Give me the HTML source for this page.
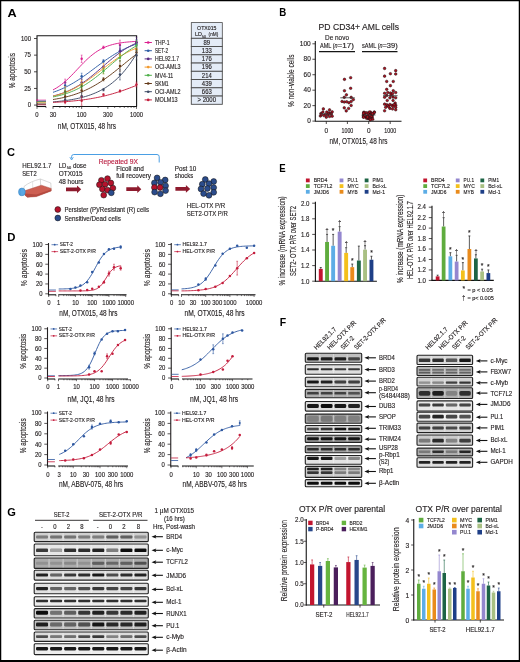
<!DOCTYPE html>
<html><head><meta charset="utf-8"><style>
html,body{margin:0;padding:0;background:#fff;}
svg{display:block;opacity:0.999;}
text{font-family:"Liberation Sans", sans-serif;}
</style></head><body>
<svg width="520" height="662" viewBox="0 0 520 662">
<defs>
<filter id="bl" x="-20%" y="-50%" width="140%" height="200%"><feGaussianBlur stdDeviation="0.6"/></filter>
<filter id="bl2" x="-20%" y="-50%" width="140%" height="200%"><feGaussianBlur stdDeviation="0.9"/></filter>
</defs>
<rect x="0" y="0" width="520" height="662" fill="#fff"/>
<text x="7.60" y="17.00" font-size="11.5" textLength="9.20" lengthAdjust="spacingAndGlyphs" fill="#000" font-weight="bold">A</text>
<path d="M37.0,106.5 L37.0,35.8 L136.6,35.8 L136.6,106.5" stroke="#151515" fill="none" stroke-width="1.1" />
<line x1="36.60" y1="106.50" x2="46.00" y2="106.50" stroke="#151515" stroke-width="1.1" />
<line x1="52.80" y1="106.50" x2="137.00" y2="106.50" stroke="#151515" stroke-width="1.1" />
<line x1="34.00" y1="105.10" x2="37.00" y2="105.10" stroke="#231f20" stroke-width="0.8" />
<text x="31.00" y="107.40" font-size="6.5" text-anchor="end" textLength="3.30" lengthAdjust="spacingAndGlyphs" fill="#231f20" stroke="#231f20" stroke-width="0.14">0</text>
<line x1="34.00" y1="88.45" x2="37.00" y2="88.45" stroke="#231f20" stroke-width="0.8" />
<text x="31.00" y="90.75" font-size="6.5" text-anchor="end" textLength="6.80" lengthAdjust="spacingAndGlyphs" fill="#231f20" stroke="#231f20" stroke-width="0.14">25</text>
<line x1="34.00" y1="71.80" x2="37.00" y2="71.80" stroke="#231f20" stroke-width="0.8" />
<text x="31.00" y="74.10" font-size="6.5" text-anchor="end" textLength="6.80" lengthAdjust="spacingAndGlyphs" fill="#231f20" stroke="#231f20" stroke-width="0.14">50</text>
<line x1="34.00" y1="55.15" x2="37.00" y2="55.15" stroke="#231f20" stroke-width="0.8" />
<text x="31.00" y="57.45" font-size="6.5" text-anchor="end" textLength="6.80" lengthAdjust="spacingAndGlyphs" fill="#231f20" stroke="#231f20" stroke-width="0.14">75</text>
<line x1="34.00" y1="38.50" x2="37.00" y2="38.50" stroke="#231f20" stroke-width="0.8" />
<text x="31.00" y="40.80" font-size="6.5" text-anchor="end" textLength="10.00" lengthAdjust="spacingAndGlyphs" fill="#231f20" stroke="#231f20" stroke-width="0.14">100</text>
<line x1="53.00" y1="106.50" x2="53.00" y2="108.90" stroke="#231f20" stroke-width="0.7" />
<line x1="59.85" y1="106.50" x2="59.85" y2="107.90" stroke="#231f20" stroke-width="0.7" />
<line x1="65.16" y1="106.50" x2="65.16" y2="107.90" stroke="#231f20" stroke-width="0.7" />
<line x1="69.50" y1="106.50" x2="69.50" y2="107.90" stroke="#231f20" stroke-width="0.7" />
<line x1="73.17" y1="106.50" x2="73.17" y2="107.90" stroke="#231f20" stroke-width="0.7" />
<line x1="76.34" y1="106.50" x2="76.34" y2="107.90" stroke="#231f20" stroke-width="0.7" />
<line x1="79.15" y1="106.50" x2="79.15" y2="107.90" stroke="#231f20" stroke-width="0.7" />
<line x1="81.65" y1="106.50" x2="81.65" y2="108.90" stroke="#231f20" stroke-width="0.7" />
<line x1="98.15" y1="106.50" x2="98.15" y2="107.90" stroke="#231f20" stroke-width="0.7" />
<line x1="107.80" y1="106.50" x2="107.80" y2="108.90" stroke="#231f20" stroke-width="0.7" />
<line x1="114.65" y1="106.50" x2="114.65" y2="107.90" stroke="#231f20" stroke-width="0.7" />
<line x1="119.96" y1="106.50" x2="119.96" y2="107.90" stroke="#231f20" stroke-width="0.7" />
<line x1="124.30" y1="106.50" x2="124.30" y2="107.90" stroke="#231f20" stroke-width="0.7" />
<line x1="127.97" y1="106.50" x2="127.97" y2="107.90" stroke="#231f20" stroke-width="0.7" />
<line x1="131.14" y1="106.50" x2="131.14" y2="107.90" stroke="#231f20" stroke-width="0.7" />
<line x1="133.95" y1="106.50" x2="133.95" y2="107.90" stroke="#231f20" stroke-width="0.7" />
<line x1="136.45" y1="106.50" x2="136.45" y2="108.90" stroke="#231f20" stroke-width="0.7" />
<line x1="37.00" y1="106.50" x2="37.00" y2="108.90" stroke="#231f20" stroke-width="0.7" />
<line x1="46.00" y1="106.50" x2="46.00" y2="107.90" stroke="#231f20" stroke-width="0.7" />
<text x="37.00" y="117.00" font-size="6.5" text-anchor="middle" textLength="3.30" lengthAdjust="spacingAndGlyphs" fill="#231f20" stroke="#231f20" stroke-width="0.14">0</text>
<text x="53.00" y="117.00" font-size="6.5" text-anchor="middle" textLength="6.60" lengthAdjust="spacingAndGlyphs" fill="#231f20" stroke="#231f20" stroke-width="0.14">30</text>
<text x="81.65" y="117.00" font-size="6.5" text-anchor="middle" textLength="9.60" lengthAdjust="spacingAndGlyphs" fill="#231f20" stroke="#231f20" stroke-width="0.14">100</text>
<text x="107.80" y="117.00" font-size="6.5" text-anchor="middle" textLength="9.60" lengthAdjust="spacingAndGlyphs" fill="#231f20" stroke="#231f20" stroke-width="0.14">300</text>
<text x="136.45" y="117.00" font-size="6.5" text-anchor="middle" textLength="13.00" lengthAdjust="spacingAndGlyphs" fill="#231f20" stroke="#231f20" stroke-width="0.14">1000</text>
<text x="86.90" y="129.40" font-size="8.6" text-anchor="middle" textLength="58.20" lengthAdjust="spacingAndGlyphs" fill="#231f20" stroke="#231f20" stroke-width="0.14">nM, OTX015, 48 hrs</text>
<text x="15.00" y="88.30" font-size="8.2" textLength="35.30" lengthAdjust="spacingAndGlyphs" fill="#231f20" stroke="#231f20" stroke-width="0.14" transform="rotate(-90 15.00 88.30)">% apoptosis</text>
<path d="M53.00,89.90 L54.70,88.99 L56.41,87.99 L58.11,86.91 L59.81,85.74 L61.52,84.48 L63.22,83.13 L64.92,81.70 L66.63,80.19 L68.33,78.60 L70.03,76.94 L71.73,75.22 L73.44,73.46 L75.14,71.67 L76.84,69.85 L78.55,68.04 L80.25,66.23 L81.95,64.44 L83.66,62.70 L85.36,61.00 L87.06,59.37 L88.77,57.80 L90.47,56.32 L92.17,54.92 L93.88,53.60 L95.58,52.37 L97.28,51.24 L98.98,50.19 L100.69,49.22 L102.39,48.34 L104.09,47.54 L105.80,46.81 L107.50,46.15 L109.20,45.56 L110.91,45.02 L112.61,44.54 L114.31,44.11 L116.02,43.73 L117.72,43.39 L119.42,43.08 L121.13,42.81 L122.83,42.57 L124.53,42.35 L126.23,42.16 L127.94,42.00 L129.64,41.85 L131.34,41.72 L133.05,41.60 L134.75,41.50 L136.45,41.40" stroke="#dc1f8e" fill="none" stroke-width="0.95" />
<line x1="65.16" y1="79.09" x2="65.16" y2="85.99" stroke="#dc1f8e" stroke-width="0.6" />
<line x1="64.26" y1="79.09" x2="66.06" y2="79.09" stroke="#dc1f8e" stroke-width="0.5" />
<line x1="64.26" y1="85.99" x2="66.06" y2="85.99" stroke="#dc1f8e" stroke-width="0.5" />
<circle cx="65.16" cy="82.54" r="1.20" fill="#dc1f8e"/>
<line x1="81.65" y1="55.10" x2="81.65" y2="62.53" stroke="#dc1f8e" stroke-width="0.6" />
<line x1="80.75" y1="55.10" x2="82.55" y2="55.10" stroke="#dc1f8e" stroke-width="0.5" />
<line x1="80.75" y1="62.53" x2="82.55" y2="62.53" stroke="#dc1f8e" stroke-width="0.5" />
<circle cx="81.65" cy="58.81" r="1.20" fill="#dc1f8e"/>
<line x1="103.46" y1="46.03" x2="103.46" y2="48.62" stroke="#dc1f8e" stroke-width="0.6" />
<line x1="102.56" y1="46.03" x2="104.36" y2="46.03" stroke="#dc1f8e" stroke-width="0.5" />
<line x1="102.56" y1="48.62" x2="104.36" y2="48.62" stroke="#dc1f8e" stroke-width="0.5" />
<circle cx="103.46" cy="47.33" r="1.20" fill="#dc1f8e"/>
<line x1="119.96" y1="40.17" x2="119.96" y2="49.71" stroke="#dc1f8e" stroke-width="0.6" />
<line x1="119.06" y1="40.17" x2="120.86" y2="40.17" stroke="#dc1f8e" stroke-width="0.5" />
<line x1="119.06" y1="49.71" x2="120.86" y2="49.71" stroke="#dc1f8e" stroke-width="0.5" />
<circle cx="119.96" cy="44.94" r="1.20" fill="#dc1f8e"/>
<line x1="136.45" y1="40.31" x2="136.45" y2="44.42" stroke="#dc1f8e" stroke-width="0.6" />
<line x1="135.55" y1="40.31" x2="137.35" y2="40.31" stroke="#dc1f8e" stroke-width="0.5" />
<line x1="135.55" y1="44.42" x2="137.35" y2="44.42" stroke="#dc1f8e" stroke-width="0.5" />
<circle cx="136.45" cy="42.37" r="1.20" fill="#dc1f8e"/>
<line x1="37.00" y1="100.10" x2="46.00" y2="100.10" stroke="#dc1f8e" stroke-width="0.7" />
<path d="M53.00,92.32 L54.70,91.73 L56.41,91.12 L58.11,90.47 L59.81,89.78 L61.52,89.05 L63.22,88.29 L64.92,87.49 L66.63,86.65 L68.33,85.77 L70.03,84.86 L71.73,83.90 L73.44,82.91 L75.14,81.88 L76.84,80.82 L78.55,79.72 L80.25,78.60 L81.95,77.44 L83.66,76.26 L85.36,75.05 L87.06,73.83 L88.77,72.58 L90.47,71.33 L92.17,70.06 L93.88,68.79 L95.58,67.51 L97.28,66.24 L98.98,64.98 L100.69,63.72 L102.39,62.48 L104.09,61.26 L105.80,60.05 L107.50,58.87 L109.20,57.72 L110.91,56.59 L112.61,55.50 L114.31,54.44 L116.02,53.42 L117.72,52.43 L119.42,51.48 L121.13,50.57 L122.83,49.69 L124.53,48.86 L126.23,48.06 L127.94,47.30 L129.64,46.58 L131.34,45.90 L133.05,45.25 L134.75,44.64 L136.45,44.06" stroke="#2f5ea6" fill="none" stroke-width="0.95" />
<line x1="65.16" y1="82.28" x2="65.16" y2="88.51" stroke="#2f5ea6" stroke-width="0.6" />
<line x1="64.26" y1="82.28" x2="66.06" y2="82.28" stroke="#2f5ea6" stroke-width="0.5" />
<line x1="64.26" y1="88.51" x2="66.06" y2="88.51" stroke="#2f5ea6" stroke-width="0.5" />
<circle cx="65.16" cy="85.40" r="1.20" fill="#2f5ea6"/>
<line x1="81.65" y1="73.16" x2="81.65" y2="79.44" stroke="#2f5ea6" stroke-width="0.6" />
<line x1="80.75" y1="73.16" x2="82.55" y2="73.16" stroke="#2f5ea6" stroke-width="0.5" />
<line x1="80.75" y1="79.44" x2="82.55" y2="79.44" stroke="#2f5ea6" stroke-width="0.5" />
<circle cx="81.65" cy="76.30" r="1.20" fill="#2f5ea6"/>
<line x1="103.46" y1="59.48" x2="103.46" y2="62.83" stroke="#2f5ea6" stroke-width="0.6" />
<line x1="102.56" y1="59.48" x2="104.36" y2="59.48" stroke="#2f5ea6" stroke-width="0.5" />
<line x1="102.56" y1="62.83" x2="104.36" y2="62.83" stroke="#2f5ea6" stroke-width="0.5" />
<circle cx="103.46" cy="61.15" r="1.20" fill="#2f5ea6"/>
<line x1="119.96" y1="45.74" x2="119.96" y2="55.56" stroke="#2f5ea6" stroke-width="0.6" />
<line x1="119.06" y1="45.74" x2="120.86" y2="45.74" stroke="#2f5ea6" stroke-width="0.5" />
<line x1="119.06" y1="55.56" x2="120.86" y2="55.56" stroke="#2f5ea6" stroke-width="0.5" />
<circle cx="119.96" cy="50.65" r="1.20" fill="#2f5ea6"/>
<line x1="136.45" y1="39.63" x2="136.45" y2="48.30" stroke="#2f5ea6" stroke-width="0.6" />
<line x1="135.55" y1="39.63" x2="137.35" y2="39.63" stroke="#2f5ea6" stroke-width="0.5" />
<line x1="135.55" y1="48.30" x2="137.35" y2="48.30" stroke="#2f5ea6" stroke-width="0.5" />
<circle cx="136.45" cy="43.97" r="1.20" fill="#2f5ea6"/>
<line x1="37.00" y1="101.10" x2="46.00" y2="101.10" stroke="#2f5ea6" stroke-width="0.7" />
<path d="M53.00,96.00 L54.70,95.58 L56.41,95.12 L58.11,94.64 L59.81,94.12 L61.52,93.56 L63.22,92.96 L64.92,92.32 L66.63,91.63 L68.33,90.91 L70.03,90.13 L71.73,89.31 L73.44,88.44 L75.14,87.52 L76.84,86.55 L78.55,85.53 L80.25,84.46 L81.95,83.35 L83.66,82.18 L85.36,80.97 L87.06,79.71 L88.77,78.41 L90.47,77.08 L92.17,75.71 L93.88,74.30 L95.58,72.87 L97.28,71.42 L98.98,69.95 L100.69,68.47 L102.39,66.99 L104.09,65.50 L105.80,64.02 L107.50,62.55 L109.20,61.10 L110.91,59.67 L112.61,58.26 L114.31,56.89 L116.02,55.55 L117.72,54.25 L119.42,52.99 L121.13,51.78 L122.83,50.61 L124.53,49.49 L126.23,48.41 L127.94,47.39 L129.64,46.42 L131.34,45.50 L133.05,44.62 L134.75,43.80 L136.45,43.02" stroke="#5b2c83" fill="none" stroke-width="0.95" />
<line x1="65.16" y1="90.25" x2="65.16" y2="92.83" stroke="#5b2c83" stroke-width="0.6" />
<line x1="64.26" y1="90.25" x2="66.06" y2="90.25" stroke="#5b2c83" stroke-width="0.5" />
<line x1="64.26" y1="92.83" x2="66.06" y2="92.83" stroke="#5b2c83" stroke-width="0.5" />
<circle cx="65.16" cy="91.54" r="1.20" fill="#5b2c83"/>
<line x1="81.65" y1="78.85" x2="81.65" y2="86.17" stroke="#5b2c83" stroke-width="0.6" />
<line x1="80.75" y1="78.85" x2="82.55" y2="78.85" stroke="#5b2c83" stroke-width="0.5" />
<line x1="80.75" y1="86.17" x2="82.55" y2="86.17" stroke="#5b2c83" stroke-width="0.5" />
<circle cx="81.65" cy="82.51" r="1.20" fill="#5b2c83"/>
<line x1="103.46" y1="65.71" x2="103.46" y2="67.99" stroke="#5b2c83" stroke-width="0.6" />
<line x1="102.56" y1="65.71" x2="104.36" y2="65.71" stroke="#5b2c83" stroke-width="0.5" />
<line x1="102.56" y1="67.99" x2="104.36" y2="67.99" stroke="#5b2c83" stroke-width="0.5" />
<circle cx="103.46" cy="66.85" r="1.20" fill="#5b2c83"/>
<line x1="119.96" y1="48.02" x2="119.96" y2="54.27" stroke="#5b2c83" stroke-width="0.6" />
<line x1="119.06" y1="48.02" x2="120.86" y2="48.02" stroke="#5b2c83" stroke-width="0.5" />
<line x1="119.06" y1="54.27" x2="120.86" y2="54.27" stroke="#5b2c83" stroke-width="0.5" />
<circle cx="119.96" cy="51.14" r="1.20" fill="#5b2c83"/>
<line x1="136.45" y1="37.19" x2="136.45" y2="47.10" stroke="#5b2c83" stroke-width="0.6" />
<line x1="135.55" y1="37.19" x2="137.35" y2="37.19" stroke="#5b2c83" stroke-width="0.5" />
<line x1="135.55" y1="47.10" x2="137.35" y2="47.10" stroke="#5b2c83" stroke-width="0.5" />
<circle cx="136.45" cy="42.15" r="1.20" fill="#5b2c83"/>
<line x1="37.00" y1="101.44" x2="46.00" y2="101.44" stroke="#5b2c83" stroke-width="0.7" />
<path d="M53.00,96.19 L54.70,95.77 L56.41,95.32 L58.11,94.84 L59.81,94.33 L61.52,93.78 L63.22,93.19 L64.92,92.57 L66.63,91.91 L68.33,91.21 L70.03,90.47 L71.73,89.68 L73.44,88.86 L75.14,87.99 L76.84,87.07 L78.55,86.12 L80.25,85.12 L81.95,84.08 L83.66,83.01 L85.36,81.89 L87.06,80.74 L88.77,79.55 L90.47,78.34 L92.17,77.09 L93.88,75.82 L95.58,74.54 L97.28,73.23 L98.98,71.92 L100.69,70.60 L102.39,69.28 L104.09,67.96 L105.80,66.65 L107.50,65.35 L109.20,64.07 L110.91,62.80 L112.61,61.57 L114.31,60.36 L116.02,59.18 L117.72,58.03 L119.42,56.92 L121.13,55.85 L122.83,54.83 L124.53,53.84 L126.23,52.89 L127.94,51.99 L129.64,51.13 L131.34,50.31 L133.05,49.54 L134.75,48.80 L136.45,48.11" stroke="#f29a2e" fill="none" stroke-width="0.95" />
<line x1="65.16" y1="86.48" x2="65.16" y2="96.77" stroke="#f29a2e" stroke-width="0.6" />
<line x1="64.26" y1="86.48" x2="66.06" y2="86.48" stroke="#f29a2e" stroke-width="0.5" />
<line x1="64.26" y1="96.77" x2="66.06" y2="96.77" stroke="#f29a2e" stroke-width="0.5" />
<circle cx="65.16" cy="91.63" r="1.20" fill="#f29a2e"/>
<line x1="81.65" y1="80.09" x2="81.65" y2="89.29" stroke="#f29a2e" stroke-width="0.6" />
<line x1="80.75" y1="80.09" x2="82.55" y2="80.09" stroke="#f29a2e" stroke-width="0.5" />
<line x1="80.75" y1="89.29" x2="82.55" y2="89.29" stroke="#f29a2e" stroke-width="0.5" />
<circle cx="81.65" cy="84.69" r="1.20" fill="#f29a2e"/>
<line x1="103.46" y1="63.46" x2="103.46" y2="73.88" stroke="#f29a2e" stroke-width="0.6" />
<line x1="102.56" y1="63.46" x2="104.36" y2="63.46" stroke="#f29a2e" stroke-width="0.5" />
<line x1="102.56" y1="73.88" x2="104.36" y2="73.88" stroke="#f29a2e" stroke-width="0.5" />
<circle cx="103.46" cy="68.67" r="1.20" fill="#f29a2e"/>
<line x1="119.96" y1="53.63" x2="119.96" y2="56.51" stroke="#f29a2e" stroke-width="0.6" />
<line x1="119.06" y1="53.63" x2="120.86" y2="53.63" stroke="#f29a2e" stroke-width="0.5" />
<line x1="119.06" y1="56.51" x2="120.86" y2="56.51" stroke="#f29a2e" stroke-width="0.5" />
<circle cx="119.96" cy="55.07" r="1.20" fill="#f29a2e"/>
<line x1="136.45" y1="47.59" x2="136.45" y2="51.54" stroke="#f29a2e" stroke-width="0.6" />
<line x1="135.55" y1="47.59" x2="137.35" y2="47.59" stroke="#f29a2e" stroke-width="0.5" />
<line x1="135.55" y1="51.54" x2="137.35" y2="51.54" stroke="#f29a2e" stroke-width="0.5" />
<circle cx="136.45" cy="49.57" r="1.20" fill="#f29a2e"/>
<line x1="37.00" y1="102.44" x2="46.00" y2="102.44" stroke="#f29a2e" stroke-width="0.7" />
<path d="M53.00,96.93 L54.70,96.60 L56.41,96.23 L58.11,95.84 L59.81,95.42 L61.52,94.97 L63.22,94.49 L64.92,93.97 L66.63,93.42 L68.33,92.83 L70.03,92.20 L71.73,91.54 L73.44,90.82 L75.14,90.07 L76.84,89.27 L78.55,88.43 L80.25,87.54 L81.95,86.60 L83.66,85.61 L85.36,84.58 L87.06,83.50 L88.77,82.38 L90.47,81.21 L92.17,79.99 L93.88,78.74 L95.58,77.45 L97.28,76.12 L98.98,74.76 L100.69,73.37 L102.39,71.96 L104.09,70.53 L105.80,69.08 L107.50,67.63 L109.20,66.17 L110.91,64.71 L112.61,63.25 L114.31,61.81 L116.02,60.38 L117.72,58.97 L119.42,57.58 L121.13,56.22 L122.83,54.90 L124.53,53.61 L126.23,52.36 L127.94,51.15 L129.64,49.99 L131.34,48.86 L133.05,47.79 L134.75,46.76 L136.45,45.78" stroke="#4fb04a" fill="none" stroke-width="0.95" />
<line x1="65.16" y1="89.08" x2="65.16" y2="95.00" stroke="#4fb04a" stroke-width="0.6" />
<line x1="64.26" y1="89.08" x2="66.06" y2="89.08" stroke="#4fb04a" stroke-width="0.5" />
<line x1="64.26" y1="95.00" x2="66.06" y2="95.00" stroke="#4fb04a" stroke-width="0.5" />
<circle cx="65.16" cy="92.04" r="1.20" fill="#4fb04a"/>
<line x1="81.65" y1="83.90" x2="81.65" y2="88.61" stroke="#4fb04a" stroke-width="0.6" />
<line x1="80.75" y1="83.90" x2="82.55" y2="83.90" stroke="#4fb04a" stroke-width="0.5" />
<line x1="80.75" y1="88.61" x2="82.55" y2="88.61" stroke="#4fb04a" stroke-width="0.5" />
<circle cx="81.65" cy="86.26" r="1.20" fill="#4fb04a"/>
<line x1="103.46" y1="68.30" x2="103.46" y2="73.77" stroke="#4fb04a" stroke-width="0.6" />
<line x1="102.56" y1="68.30" x2="104.36" y2="68.30" stroke="#4fb04a" stroke-width="0.5" />
<line x1="102.56" y1="73.77" x2="104.36" y2="73.77" stroke="#4fb04a" stroke-width="0.5" />
<circle cx="103.46" cy="71.04" r="1.20" fill="#4fb04a"/>
<line x1="119.96" y1="54.11" x2="119.96" y2="61.38" stroke="#4fb04a" stroke-width="0.6" />
<line x1="119.06" y1="54.11" x2="120.86" y2="54.11" stroke="#4fb04a" stroke-width="0.5" />
<line x1="119.06" y1="61.38" x2="120.86" y2="61.38" stroke="#4fb04a" stroke-width="0.5" />
<circle cx="119.96" cy="57.75" r="1.20" fill="#4fb04a"/>
<line x1="136.45" y1="40.37" x2="136.45" y2="50.51" stroke="#4fb04a" stroke-width="0.6" />
<line x1="135.55" y1="40.37" x2="137.35" y2="40.37" stroke="#4fb04a" stroke-width="0.5" />
<line x1="135.55" y1="50.51" x2="137.35" y2="50.51" stroke="#4fb04a" stroke-width="0.5" />
<circle cx="136.45" cy="45.44" r="1.20" fill="#4fb04a"/>
<line x1="37.00" y1="101.77" x2="46.00" y2="101.77" stroke="#4fb04a" stroke-width="0.7" />
<path d="M53.00,99.52 L54.70,99.25 L56.41,98.96 L58.11,98.65 L59.81,98.33 L61.52,97.98 L63.22,97.61 L64.92,97.21 L66.63,96.80 L68.33,96.35 L70.03,95.88 L71.73,95.39 L73.44,94.86 L75.14,94.31 L76.84,93.72 L78.55,93.10 L80.25,92.45 L81.95,91.76 L83.66,91.04 L85.36,90.28 L87.06,89.48 L88.77,88.65 L90.47,87.78 L92.17,86.87 L93.88,85.93 L95.58,84.94 L97.28,83.92 L98.98,82.86 L100.69,81.77 L102.39,80.64 L104.09,79.47 L105.80,78.27 L107.50,77.05 L109.20,75.79 L110.91,74.50 L112.61,73.20 L114.31,71.87 L116.02,70.52 L117.72,69.16 L119.42,67.78 L121.13,66.40 L122.83,65.01 L124.53,63.62 L126.23,62.23 L127.94,60.84 L129.64,59.46 L131.34,58.10 L133.05,56.75 L134.75,55.42 L136.45,54.11" stroke="#643a18" fill="none" stroke-width="0.95" />
<line x1="65.16" y1="91.25" x2="65.16" y2="101.61" stroke="#643a18" stroke-width="0.6" />
<line x1="64.26" y1="91.25" x2="66.06" y2="91.25" stroke="#643a18" stroke-width="0.5" />
<line x1="64.26" y1="101.61" x2="66.06" y2="101.61" stroke="#643a18" stroke-width="0.5" />
<circle cx="65.16" cy="96.43" r="1.20" fill="#643a18"/>
<line x1="81.65" y1="85.00" x2="81.65" y2="95.92" stroke="#643a18" stroke-width="0.6" />
<line x1="80.75" y1="85.00" x2="82.55" y2="85.00" stroke="#643a18" stroke-width="0.5" />
<line x1="80.75" y1="95.92" x2="82.55" y2="95.92" stroke="#643a18" stroke-width="0.5" />
<circle cx="81.65" cy="90.46" r="1.20" fill="#643a18"/>
<line x1="103.46" y1="77.49" x2="103.46" y2="80.96" stroke="#643a18" stroke-width="0.6" />
<line x1="102.56" y1="77.49" x2="104.36" y2="77.49" stroke="#643a18" stroke-width="0.5" />
<line x1="102.56" y1="80.96" x2="104.36" y2="80.96" stroke="#643a18" stroke-width="0.5" />
<circle cx="103.46" cy="79.22" r="1.20" fill="#643a18"/>
<line x1="119.96" y1="60.57" x2="119.96" y2="71.25" stroke="#643a18" stroke-width="0.6" />
<line x1="119.06" y1="60.57" x2="120.86" y2="60.57" stroke="#643a18" stroke-width="0.5" />
<line x1="119.06" y1="71.25" x2="120.86" y2="71.25" stroke="#643a18" stroke-width="0.5" />
<circle cx="119.96" cy="65.91" r="1.20" fill="#643a18"/>
<line x1="136.45" y1="48.93" x2="136.45" y2="56.05" stroke="#643a18" stroke-width="0.6" />
<line x1="135.55" y1="48.93" x2="137.35" y2="48.93" stroke="#643a18" stroke-width="0.5" />
<line x1="135.55" y1="56.05" x2="137.35" y2="56.05" stroke="#643a18" stroke-width="0.5" />
<circle cx="136.45" cy="52.49" r="1.20" fill="#643a18"/>
<line x1="37.00" y1="103.77" x2="46.00" y2="103.77" stroke="#643a18" stroke-width="0.7" />
<path d="M53.00,101.91 L54.70,101.76 L56.41,101.61 L58.11,101.44 L59.81,101.26 L61.52,101.07 L63.22,100.87 L64.92,100.65 L66.63,100.42 L68.33,100.17 L70.03,99.90 L71.73,99.61 L73.44,99.31 L75.14,98.98 L76.84,98.63 L78.55,98.26 L80.25,97.87 L81.95,97.44 L83.66,96.99 L85.36,96.50 L87.06,95.99 L88.77,95.44 L90.47,94.85 L92.17,94.22 L93.88,93.55 L95.58,92.84 L97.28,92.08 L98.98,91.27 L100.69,90.40 L102.39,89.48 L104.09,88.51 L105.80,87.47 L107.50,86.36 L109.20,85.18 L110.91,83.94 L112.61,82.61 L114.31,81.20 L116.02,79.71 L117.72,78.13 L119.42,76.45 L121.13,74.68 L122.83,72.80 L124.53,70.82 L126.23,68.73 L127.94,66.52 L129.64,64.20 L131.34,61.75 L133.05,59.17 L134.75,56.46 L136.45,53.62" stroke="#3e4b66" fill="none" stroke-width="0.95" />
<line x1="65.16" y1="97.81" x2="65.16" y2="101.71" stroke="#3e4b66" stroke-width="0.6" />
<line x1="64.26" y1="97.81" x2="66.06" y2="97.81" stroke="#3e4b66" stroke-width="0.5" />
<line x1="64.26" y1="101.71" x2="66.06" y2="101.71" stroke="#3e4b66" stroke-width="0.5" />
<circle cx="65.16" cy="99.76" r="1.20" fill="#3e4b66"/>
<line x1="81.65" y1="92.61" x2="81.65" y2="99.77" stroke="#3e4b66" stroke-width="0.6" />
<line x1="80.75" y1="92.61" x2="82.55" y2="92.61" stroke="#3e4b66" stroke-width="0.5" />
<line x1="80.75" y1="99.77" x2="82.55" y2="99.77" stroke="#3e4b66" stroke-width="0.5" />
<circle cx="81.65" cy="96.19" r="1.20" fill="#3e4b66"/>
<line x1="103.46" y1="88.45" x2="103.46" y2="91.02" stroke="#3e4b66" stroke-width="0.6" />
<line x1="102.56" y1="88.45" x2="104.36" y2="88.45" stroke="#3e4b66" stroke-width="0.5" />
<line x1="102.56" y1="91.02" x2="104.36" y2="91.02" stroke="#3e4b66" stroke-width="0.5" />
<circle cx="103.46" cy="89.74" r="1.20" fill="#3e4b66"/>
<line x1="119.96" y1="69.04" x2="119.96" y2="79.95" stroke="#3e4b66" stroke-width="0.6" />
<line x1="119.06" y1="69.04" x2="120.86" y2="69.04" stroke="#3e4b66" stroke-width="0.5" />
<line x1="119.06" y1="79.95" x2="120.86" y2="79.95" stroke="#3e4b66" stroke-width="0.5" />
<circle cx="119.96" cy="74.49" r="1.20" fill="#3e4b66"/>
<line x1="136.45" y1="50.66" x2="136.45" y2="59.87" stroke="#3e4b66" stroke-width="0.6" />
<line x1="135.55" y1="50.66" x2="137.35" y2="50.66" stroke="#3e4b66" stroke-width="0.5" />
<line x1="135.55" y1="59.87" x2="137.35" y2="59.87" stroke="#3e4b66" stroke-width="0.5" />
<circle cx="136.45" cy="55.27" r="1.20" fill="#3e4b66"/>
<line x1="37.00" y1="104.43" x2="46.00" y2="104.43" stroke="#3e4b66" stroke-width="0.7" />
<path d="M53.00,102.37 L54.70,102.29 L56.41,102.20 L58.11,102.11 L59.81,102.01 L61.52,101.90 L63.22,101.79 L64.92,101.66 L66.63,101.54 L68.33,101.40 L70.03,101.26 L71.73,101.11 L73.44,100.95 L75.14,100.78 L76.84,100.60 L78.55,100.41 L80.25,100.21 L81.95,99.99 L83.66,99.77 L85.36,99.54 L87.06,99.29 L88.77,99.03 L90.47,98.75 L92.17,98.46 L93.88,98.16 L95.58,97.84 L97.28,97.51 L98.98,97.16 L100.69,96.79 L102.39,96.41 L104.09,96.01 L105.80,95.60 L107.50,95.16 L109.20,94.71 L110.91,94.25 L112.61,93.76 L114.31,93.26 L116.02,92.74 L117.72,92.21 L119.42,91.66 L121.13,91.09 L122.83,90.51 L124.53,89.91 L126.23,89.30 L127.94,88.67 L129.64,88.04 L131.34,87.39 L133.05,86.73 L134.75,86.07 L136.45,85.39" stroke="#c4203e" fill="none" stroke-width="0.95" />
<line x1="65.16" y1="100.33" x2="65.16" y2="103.68" stroke="#c4203e" stroke-width="0.6" />
<line x1="64.26" y1="100.33" x2="66.06" y2="100.33" stroke="#c4203e" stroke-width="0.5" />
<line x1="64.26" y1="103.68" x2="66.06" y2="103.68" stroke="#c4203e" stroke-width="0.5" />
<circle cx="65.16" cy="102.01" r="1.20" fill="#c4203e"/>
<line x1="81.65" y1="96.40" x2="81.65" y2="105.32" stroke="#c4203e" stroke-width="0.6" />
<line x1="80.75" y1="96.40" x2="82.55" y2="96.40" stroke="#c4203e" stroke-width="0.5" />
<line x1="80.75" y1="105.32" x2="82.55" y2="105.32" stroke="#c4203e" stroke-width="0.5" />
<circle cx="81.65" cy="100.86" r="1.20" fill="#c4203e"/>
<line x1="103.46" y1="93.47" x2="103.46" y2="95.87" stroke="#c4203e" stroke-width="0.6" />
<line x1="102.56" y1="93.47" x2="104.36" y2="93.47" stroke="#c4203e" stroke-width="0.5" />
<line x1="102.56" y1="95.87" x2="104.36" y2="95.87" stroke="#c4203e" stroke-width="0.5" />
<circle cx="103.46" cy="94.67" r="1.20" fill="#c4203e"/>
<line x1="119.96" y1="89.82" x2="119.96" y2="92.22" stroke="#c4203e" stroke-width="0.6" />
<line x1="119.06" y1="89.82" x2="120.86" y2="89.82" stroke="#c4203e" stroke-width="0.5" />
<line x1="119.06" y1="92.22" x2="120.86" y2="92.22" stroke="#c4203e" stroke-width="0.5" />
<circle cx="119.96" cy="91.02" r="1.20" fill="#c4203e"/>
<line x1="136.45" y1="82.03" x2="136.45" y2="87.01" stroke="#c4203e" stroke-width="0.6" />
<line x1="135.55" y1="82.03" x2="137.35" y2="82.03" stroke="#c4203e" stroke-width="0.5" />
<line x1="135.55" y1="87.01" x2="137.35" y2="87.01" stroke="#c4203e" stroke-width="0.5" />
<circle cx="136.45" cy="84.52" r="1.20" fill="#c4203e"/>
<line x1="37.00" y1="104.77" x2="46.00" y2="104.77" stroke="#c4203e" stroke-width="0.7" />
<circle cx="37.20" cy="100.10" r="0.90" fill="#dc1f8e"/>
<line x1="144.60" y1="42.50" x2="151.90" y2="42.50" stroke="#dc1f8e" stroke-width="1.0" />
<circle cx="148.20" cy="42.50" r="1.30" fill="#dc1f8e"/>
<line x1="144.60" y1="50.70" x2="151.90" y2="50.70" stroke="#2f5ea6" stroke-width="1.0" />
<circle cx="148.20" cy="50.70" r="1.30" fill="#2f5ea6"/>
<line x1="144.60" y1="58.90" x2="151.90" y2="58.90" stroke="#5b2c83" stroke-width="1.0" />
<circle cx="148.20" cy="58.90" r="1.30" fill="#5b2c83"/>
<line x1="144.60" y1="67.10" x2="151.90" y2="67.10" stroke="#f29a2e" stroke-width="1.0" />
<circle cx="148.20" cy="67.10" r="1.30" fill="#f29a2e"/>
<line x1="144.60" y1="75.30" x2="151.90" y2="75.30" stroke="#4fb04a" stroke-width="1.0" />
<circle cx="148.20" cy="75.30" r="1.30" fill="#4fb04a"/>
<line x1="144.60" y1="83.50" x2="151.90" y2="83.50" stroke="#643a18" stroke-width="1.0" />
<circle cx="148.20" cy="83.50" r="1.30" fill="#643a18"/>
<line x1="144.60" y1="91.70" x2="151.90" y2="91.70" stroke="#3e4b66" stroke-width="1.0" />
<circle cx="148.20" cy="91.70" r="1.30" fill="#3e4b66"/>
<line x1="144.60" y1="99.90" x2="151.90" y2="99.90" stroke="#c4203e" stroke-width="1.0" />
<circle cx="148.20" cy="99.90" r="1.30" fill="#c4203e"/>
<text x="155.00" y="44.80" font-size="6.5" textLength="14.40" lengthAdjust="spacingAndGlyphs" fill="#231f20" stroke="#231f20" stroke-width="0.14">THP-1</text>
<text x="155.00" y="53.00" font-size="6.5" textLength="13.00" lengthAdjust="spacingAndGlyphs" fill="#231f20" stroke="#231f20" stroke-width="0.14">SET-2</text>
<text x="155.00" y="61.20" font-size="6.5" textLength="24.20" lengthAdjust="spacingAndGlyphs" fill="#231f20" stroke="#231f20" stroke-width="0.14">HEL92.1.7</text>
<text x="155.00" y="69.40" font-size="6.5" textLength="25.40" lengthAdjust="spacingAndGlyphs" fill="#231f20" stroke="#231f20" stroke-width="0.14">OCI-AML3</text>
<text x="155.00" y="77.60" font-size="6.5" textLength="18.20" lengthAdjust="spacingAndGlyphs" fill="#231f20" stroke="#231f20" stroke-width="0.14">MV4-11</text>
<text x="155.00" y="85.80" font-size="6.5" textLength="13.60" lengthAdjust="spacingAndGlyphs" fill="#231f20" stroke="#231f20" stroke-width="0.14">SKM1</text>
<text x="155.00" y="94.00" font-size="6.5" textLength="25.40" lengthAdjust="spacingAndGlyphs" fill="#231f20" stroke="#231f20" stroke-width="0.14">OCI-AML2</text>
<text x="155.00" y="102.20" font-size="6.5" textLength="22.50" lengthAdjust="spacingAndGlyphs" fill="#231f20" stroke="#231f20" stroke-width="0.14">MOLM13</text>
<rect x="191.30" y="22.60" width="31.00" height="15.70" fill="#e4ecf7" stroke="#4a4a4a" stroke-width="0.8" />
<text x="206.80" y="29.60" font-size="6.0" text-anchor="middle" textLength="19.40" lengthAdjust="spacingAndGlyphs" fill="#231f20" stroke="#231f20" stroke-width="0.14">OTX015</text>
<text x="194.90" y="35.80" font-size="6.2" textLength="7.00" lengthAdjust="spacingAndGlyphs" fill="#231f20" stroke="#231f20" stroke-width="0.14">LD</text>
<text x="202.00" y="37.70" font-size="4.2" textLength="3.80" lengthAdjust="spacingAndGlyphs" fill="#231f20" stroke="#231f20" stroke-width="0.14">50</text>
<text x="208.60" y="35.80" font-size="6.2" textLength="9.80" lengthAdjust="spacingAndGlyphs" fill="#231f20" stroke="#231f20" stroke-width="0.14">(nM)</text>
<rect x="191.30" y="38.30" width="31.00" height="8.25" fill="#e4ecf7" stroke="#4a4a4a" stroke-width="0.9" />
<text x="206.80" y="44.50" font-size="6.4" text-anchor="middle" textLength="6.60" lengthAdjust="spacingAndGlyphs" fill="#231f20" stroke="#231f20" stroke-width="0.14">89</text>
<rect x="191.30" y="46.55" width="31.00" height="8.25" fill="#e4ecf7" stroke="#4a4a4a" stroke-width="0.9" />
<text x="206.80" y="52.75" font-size="6.4" text-anchor="middle" textLength="9.90" lengthAdjust="spacingAndGlyphs" fill="#231f20" stroke="#231f20" stroke-width="0.14">133</text>
<rect x="191.30" y="54.80" width="31.00" height="8.25" fill="#e4ecf7" stroke="#4a4a4a" stroke-width="0.9" />
<text x="206.80" y="61.00" font-size="6.4" text-anchor="middle" textLength="9.90" lengthAdjust="spacingAndGlyphs" fill="#231f20" stroke="#231f20" stroke-width="0.14">176</text>
<rect x="191.30" y="63.05" width="31.00" height="8.25" fill="#e4ecf7" stroke="#4a4a4a" stroke-width="0.9" />
<text x="206.80" y="69.25" font-size="6.4" text-anchor="middle" textLength="9.90" lengthAdjust="spacingAndGlyphs" fill="#231f20" stroke="#231f20" stroke-width="0.14">196</text>
<rect x="191.30" y="71.30" width="31.00" height="8.25" fill="#e4ecf7" stroke="#4a4a4a" stroke-width="0.9" />
<text x="206.80" y="77.50" font-size="6.4" text-anchor="middle" textLength="9.90" lengthAdjust="spacingAndGlyphs" fill="#231f20" stroke="#231f20" stroke-width="0.14">214</text>
<rect x="191.30" y="79.55" width="31.00" height="8.25" fill="#e4ecf7" stroke="#4a4a4a" stroke-width="0.9" />
<text x="206.80" y="85.75" font-size="6.4" text-anchor="middle" textLength="9.90" lengthAdjust="spacingAndGlyphs" fill="#231f20" stroke="#231f20" stroke-width="0.14">439</text>
<rect x="191.30" y="87.80" width="31.00" height="8.25" fill="#e4ecf7" stroke="#4a4a4a" stroke-width="0.9" />
<text x="206.80" y="94.00" font-size="6.4" text-anchor="middle" textLength="9.90" lengthAdjust="spacingAndGlyphs" fill="#231f20" stroke="#231f20" stroke-width="0.14">663</text>
<rect x="191.30" y="96.05" width="31.00" height="8.25" fill="#e4ecf7" stroke="#4a4a4a" stroke-width="0.9" />
<text x="206.80" y="102.25" font-size="6.4" text-anchor="middle" textLength="18.50" lengthAdjust="spacingAndGlyphs" fill="#231f20" stroke="#231f20" stroke-width="0.14">&gt; 2000</text>
<text x="279.30" y="16.40" font-size="11.5" textLength="7.00" lengthAdjust="spacingAndGlyphs" fill="#000" font-weight="bold">B</text>
<text x="318.60" y="29.80" font-size="8.8" textLength="80.40" lengthAdjust="spacingAndGlyphs" fill="#231f20" stroke="#231f20" stroke-width="0.14">PD CD34+ AML cells</text>
<text x="337.00" y="40.20" font-size="6.8" text-anchor="middle" textLength="24.00" lengthAdjust="spacingAndGlyphs" fill="#231f20" stroke="#231f20" stroke-width="0.14">De novo</text>
<text x="320.00" y="47.60" font-size="6.8" textLength="14.50" lengthAdjust="spacingAndGlyphs" fill="#231f20" stroke="#231f20" stroke-width="0.14">AML (</text>
<text x="334.50" y="47.60" font-size="6.8" textLength="3.00" lengthAdjust="spacingAndGlyphs" fill="#231f20" stroke="#231f20" stroke-width="0.14" style="font-style:italic">n</text>
<text x="337.50" y="47.60" font-size="6.8" textLength="16.50" lengthAdjust="spacingAndGlyphs" fill="#231f20" stroke="#231f20" stroke-width="0.14">=17)</text>
<text x="362.00" y="47.60" font-size="6.8" textLength="17.50" lengthAdjust="spacingAndGlyphs" fill="#231f20" stroke="#231f20" stroke-width="0.14">sAML (</text>
<text x="379.50" y="47.60" font-size="6.8" textLength="3.00" lengthAdjust="spacingAndGlyphs" fill="#231f20" stroke="#231f20" stroke-width="0.14" style="font-style:italic">n</text>
<text x="382.50" y="47.60" font-size="6.8" textLength="15.20" lengthAdjust="spacingAndGlyphs" fill="#231f20" stroke="#231f20" stroke-width="0.14">=39)</text>
<line x1="319.00" y1="51.60" x2="355.00" y2="51.60" stroke="#151515" stroke-width="1.1" />
<line x1="362.00" y1="51.60" x2="397.50" y2="51.60" stroke="#151515" stroke-width="1.1" />
<line x1="315.30" y1="41.10" x2="315.30" y2="121.20" stroke="#151515" stroke-width="1.1" />
<line x1="314.90" y1="121.20" x2="401.50" y2="121.20" stroke="#151515" stroke-width="1.1" />
<line x1="312.40" y1="121.10" x2="315.30" y2="121.10" stroke="#231f20" stroke-width="0.8" />
<text x="310.80" y="123.30" font-size="6.4" text-anchor="end" textLength="3.60" lengthAdjust="spacingAndGlyphs" fill="#231f20" stroke="#231f20" stroke-width="0.14">0</text>
<line x1="312.40" y1="105.64" x2="315.30" y2="105.64" stroke="#231f20" stroke-width="0.8" />
<text x="310.80" y="107.84" font-size="6.4" text-anchor="end" textLength="7.20" lengthAdjust="spacingAndGlyphs" fill="#231f20" stroke="#231f20" stroke-width="0.14">20</text>
<line x1="312.40" y1="90.18" x2="315.30" y2="90.18" stroke="#231f20" stroke-width="0.8" />
<text x="310.80" y="92.38" font-size="6.4" text-anchor="end" textLength="7.20" lengthAdjust="spacingAndGlyphs" fill="#231f20" stroke="#231f20" stroke-width="0.14">40</text>
<line x1="312.40" y1="74.72" x2="315.30" y2="74.72" stroke="#231f20" stroke-width="0.8" />
<text x="310.80" y="76.92" font-size="6.4" text-anchor="end" textLength="7.20" lengthAdjust="spacingAndGlyphs" fill="#231f20" stroke="#231f20" stroke-width="0.14">60</text>
<line x1="312.40" y1="59.26" x2="315.30" y2="59.26" stroke="#231f20" stroke-width="0.8" />
<text x="310.80" y="61.46" font-size="6.4" text-anchor="end" textLength="7.20" lengthAdjust="spacingAndGlyphs" fill="#231f20" stroke="#231f20" stroke-width="0.14">80</text>
<line x1="312.40" y1="43.80" x2="315.30" y2="43.80" stroke="#231f20" stroke-width="0.8" />
<text x="310.80" y="46.00" font-size="6.4" text-anchor="end" textLength="11.00" lengthAdjust="spacingAndGlyphs" fill="#231f20" stroke="#231f20" stroke-width="0.14">100</text>
<text x="294.00" y="107.00" font-size="8.8" textLength="52.50" lengthAdjust="spacingAndGlyphs" fill="#231f20" stroke="#231f20" stroke-width="0.14" transform="rotate(-90 294.00 107.00)">% non-viable cells</text>
<line x1="326.30" y1="121.20" x2="326.30" y2="124.00" stroke="#231f20" stroke-width="0.8" />
<text x="326.30" y="132.50" font-size="6.8" text-anchor="middle" textLength="3.60" lengthAdjust="spacingAndGlyphs" fill="#231f20" stroke="#231f20" stroke-width="0.14">0</text>
<line x1="347.40" y1="121.20" x2="347.40" y2="124.00" stroke="#231f20" stroke-width="0.8" />
<text x="347.40" y="132.50" font-size="6.8" text-anchor="middle" textLength="11.80" lengthAdjust="spacingAndGlyphs" fill="#231f20" stroke="#231f20" stroke-width="0.14">1000</text>
<line x1="368.70" y1="121.20" x2="368.70" y2="124.00" stroke="#231f20" stroke-width="0.8" />
<text x="368.70" y="132.50" font-size="6.8" text-anchor="middle" textLength="3.60" lengthAdjust="spacingAndGlyphs" fill="#231f20" stroke="#231f20" stroke-width="0.14">0</text>
<line x1="390.20" y1="121.20" x2="390.20" y2="124.00" stroke="#231f20" stroke-width="0.8" />
<text x="390.20" y="132.50" font-size="6.8" text-anchor="middle" textLength="11.80" lengthAdjust="spacingAndGlyphs" fill="#231f20" stroke="#231f20" stroke-width="0.14">1000</text>
<text x="358.50" y="144.00" font-size="8.6" text-anchor="middle" textLength="58.00" lengthAdjust="spacingAndGlyphs" fill="#231f20" stroke="#231f20" stroke-width="0.14">nM, OTX015, 48 hrs</text>
<circle cx="323.35" cy="108.92" r="1.30" fill="#b01020" stroke="#111" stroke-width="0.5"/>
<circle cx="329.54" cy="109.90" r="1.30" fill="#b01020" stroke="#111" stroke-width="0.5"/>
<circle cx="332.19" cy="111.87" r="1.30" fill="#b01020" stroke="#111" stroke-width="0.5"/>
<circle cx="320.89" cy="113.54" r="1.30" fill="#b01020" stroke="#111" stroke-width="0.5"/>
<circle cx="322.86" cy="112.06" r="1.30" fill="#b01020" stroke="#111" stroke-width="0.5"/>
<circle cx="325.31" cy="114.52" r="1.30" fill="#b01020" stroke="#111" stroke-width="0.5"/>
<circle cx="327.77" cy="114.81" r="1.30" fill="#b01020" stroke="#111" stroke-width="0.5"/>
<circle cx="329.73" cy="113.05" r="1.30" fill="#b01020" stroke="#111" stroke-width="0.5"/>
<circle cx="331.21" cy="114.03" r="1.30" fill="#b01020" stroke="#111" stroke-width="0.5"/>
<circle cx="320.40" cy="115.99" r="1.30" fill="#b01020" stroke="#111" stroke-width="0.5"/>
<circle cx="326.30" cy="117.17" r="1.30" fill="#b01020" stroke="#111" stroke-width="0.5"/>
<circle cx="329.54" cy="116.48" r="1.30" fill="#b01020" stroke="#111" stroke-width="0.5"/>
<circle cx="332.19" cy="116.19" r="1.30" fill="#b01020" stroke="#111" stroke-width="0.5"/>
<circle cx="328.26" cy="113.05" r="1.30" fill="#b01020" stroke="#111" stroke-width="0.5"/>
<circle cx="323.84" cy="115.50" r="1.30" fill="#b01020" stroke="#111" stroke-width="0.5"/>
<circle cx="326.79" cy="112.06" r="1.30" fill="#b01020" stroke="#111" stroke-width="0.5"/>
<circle cx="321.39" cy="114.52" r="1.30" fill="#b01020" stroke="#111" stroke-width="0.5"/>
<circle cx="344.47" cy="79.35" r="1.30" fill="#b01020" stroke="#111" stroke-width="0.5"/>
<circle cx="350.66" cy="77.68" r="1.30" fill="#b01020" stroke="#111" stroke-width="0.5"/>
<circle cx="344.47" cy="90.75" r="1.30" fill="#b01020" stroke="#111" stroke-width="0.5"/>
<circle cx="350.66" cy="88.29" r="1.30" fill="#b01020" stroke="#111" stroke-width="0.5"/>
<circle cx="346.43" cy="94.87" r="1.30" fill="#b01020" stroke="#111" stroke-width="0.5"/>
<circle cx="344.27" cy="97.33" r="1.30" fill="#b01020" stroke="#111" stroke-width="0.5"/>
<circle cx="351.15" cy="97.33" r="1.30" fill="#b01020" stroke="#111" stroke-width="0.5"/>
<circle cx="353.31" cy="99.59" r="1.30" fill="#b01020" stroke="#111" stroke-width="0.5"/>
<circle cx="342.01" cy="101.45" r="1.30" fill="#b01020" stroke="#111" stroke-width="0.5"/>
<circle cx="344.27" cy="102.04" r="1.30" fill="#b01020" stroke="#111" stroke-width="0.5"/>
<circle cx="346.63" cy="101.75" r="1.30" fill="#b01020" stroke="#111" stroke-width="0.5"/>
<circle cx="348.89" cy="102.73" r="1.30" fill="#b01020" stroke="#111" stroke-width="0.5"/>
<circle cx="351.15" cy="101.55" r="1.30" fill="#b01020" stroke="#111" stroke-width="0.5"/>
<circle cx="351.15" cy="105.48" r="1.30" fill="#b01020" stroke="#111" stroke-width="0.5"/>
<circle cx="344.27" cy="107.84" r="1.30" fill="#b01020" stroke="#111" stroke-width="0.5"/>
<circle cx="348.60" cy="108.43" r="1.30" fill="#b01020" stroke="#111" stroke-width="0.5"/>
<circle cx="346.24" cy="110.88" r="1.30" fill="#b01020" stroke="#111" stroke-width="0.5"/>
<circle cx="366.69" cy="112.78" r="1.30" fill="#b01020" stroke="#111" stroke-width="0.5"/>
<circle cx="370.50" cy="112.14" r="1.30" fill="#b01020" stroke="#111" stroke-width="0.5"/>
<circle cx="369.16" cy="114.53" r="1.30" fill="#b01020" stroke="#111" stroke-width="0.5"/>
<circle cx="363.60" cy="115.68" r="1.30" fill="#b01020" stroke="#111" stroke-width="0.5"/>
<circle cx="363.36" cy="115.08" r="1.30" fill="#b01020" stroke="#111" stroke-width="0.5"/>
<circle cx="363.74" cy="112.29" r="1.30" fill="#b01020" stroke="#111" stroke-width="0.5"/>
<circle cx="367.86" cy="118.28" r="1.30" fill="#b01020" stroke="#111" stroke-width="0.5"/>
<circle cx="364.37" cy="113.37" r="1.30" fill="#b01020" stroke="#111" stroke-width="0.5"/>
<circle cx="370.22" cy="119.27" r="1.30" fill="#b01020" stroke="#111" stroke-width="0.5"/>
<circle cx="369.64" cy="114.78" r="1.30" fill="#b01020" stroke="#111" stroke-width="0.5"/>
<circle cx="374.28" cy="111.93" r="1.30" fill="#b01020" stroke="#111" stroke-width="0.5"/>
<circle cx="372.91" cy="113.91" r="1.30" fill="#b01020" stroke="#111" stroke-width="0.5"/>
<circle cx="364.61" cy="112.51" r="1.30" fill="#b01020" stroke="#111" stroke-width="0.5"/>
<circle cx="366.52" cy="118.20" r="1.30" fill="#b01020" stroke="#111" stroke-width="0.5"/>
<circle cx="365.03" cy="116.29" r="1.30" fill="#b01020" stroke="#111" stroke-width="0.5"/>
<circle cx="370.36" cy="114.59" r="1.30" fill="#b01020" stroke="#111" stroke-width="0.5"/>
<circle cx="369.30" cy="112.06" r="1.30" fill="#b01020" stroke="#111" stroke-width="0.5"/>
<circle cx="363.62" cy="113.23" r="1.30" fill="#b01020" stroke="#111" stroke-width="0.5"/>
<circle cx="370.84" cy="115.03" r="1.30" fill="#b01020" stroke="#111" stroke-width="0.5"/>
<circle cx="366.58" cy="116.32" r="1.30" fill="#b01020" stroke="#111" stroke-width="0.5"/>
<circle cx="368.20" cy="113.99" r="1.30" fill="#b01020" stroke="#111" stroke-width="0.5"/>
<circle cx="372.17" cy="117.24" r="1.30" fill="#b01020" stroke="#111" stroke-width="0.5"/>
<circle cx="365.77" cy="116.23" r="1.30" fill="#b01020" stroke="#111" stroke-width="0.5"/>
<circle cx="369.04" cy="118.68" r="1.30" fill="#b01020" stroke="#111" stroke-width="0.5"/>
<circle cx="371.41" cy="113.90" r="1.30" fill="#b01020" stroke="#111" stroke-width="0.5"/>
<circle cx="374.33" cy="112.51" r="1.30" fill="#b01020" stroke="#111" stroke-width="0.5"/>
<circle cx="367.79" cy="117.72" r="1.30" fill="#b01020" stroke="#111" stroke-width="0.5"/>
<circle cx="364.70" cy="115.53" r="1.30" fill="#b01020" stroke="#111" stroke-width="0.5"/>
<circle cx="363.38" cy="116.99" r="1.30" fill="#b01020" stroke="#111" stroke-width="0.5"/>
<circle cx="371.82" cy="116.22" r="1.30" fill="#b01020" stroke="#111" stroke-width="0.5"/>
<circle cx="373.11" cy="114.11" r="1.30" fill="#b01020" stroke="#111" stroke-width="0.5"/>
<circle cx="371.01" cy="116.39" r="1.30" fill="#b01020" stroke="#111" stroke-width="0.5"/>
<circle cx="369.67" cy="115.27" r="1.30" fill="#b01020" stroke="#111" stroke-width="0.5"/>
<circle cx="372.70" cy="119.24" r="1.30" fill="#b01020" stroke="#111" stroke-width="0.5"/>
<circle cx="368.44" cy="116.96" r="1.30" fill="#b01020" stroke="#111" stroke-width="0.5"/>
<circle cx="363.63" cy="117.26" r="1.30" fill="#b01020" stroke="#111" stroke-width="0.5"/>
<circle cx="370.45" cy="119.64" r="1.30" fill="#b01020" stroke="#111" stroke-width="0.5"/>
<circle cx="372.49" cy="113.87" r="1.30" fill="#b01020" stroke="#111" stroke-width="0.5"/>
<circle cx="367.41" cy="117.00" r="1.30" fill="#b01020" stroke="#111" stroke-width="0.5"/>
<circle cx="384.60" cy="68.42" r="1.30" fill="#b01020" stroke="#111" stroke-width="0.5"/>
<circle cx="395.70" cy="70.64" r="1.30" fill="#b01020" stroke="#111" stroke-width="0.5"/>
<circle cx="390.41" cy="73.71" r="1.30" fill="#b01020" stroke="#111" stroke-width="0.5"/>
<circle cx="395.70" cy="74.03" r="1.30" fill="#b01020" stroke="#111" stroke-width="0.5"/>
<circle cx="384.60" cy="76.14" r="1.30" fill="#b01020" stroke="#111" stroke-width="0.5"/>
<circle cx="386.71" cy="81.43" r="1.30" fill="#b01020" stroke="#111" stroke-width="0.5"/>
<circle cx="393.27" cy="81.43" r="1.30" fill="#b01020" stroke="#111" stroke-width="0.5"/>
<circle cx="390.41" cy="85.66" r="1.30" fill="#b01020" stroke="#111" stroke-width="0.5"/>
<circle cx="386.71" cy="89.36" r="1.30" fill="#b01020" stroke="#111" stroke-width="0.5"/>
<circle cx="393.27" cy="90.73" r="1.30" fill="#b01020" stroke="#111" stroke-width="0.5"/>
<circle cx="384.60" cy="93.27" r="1.30" fill="#b01020" stroke="#111" stroke-width="0.5"/>
<circle cx="387.77" cy="92.53" r="1.30" fill="#b01020" stroke="#111" stroke-width="0.5"/>
<circle cx="390.41" cy="93.05" r="1.30" fill="#b01020" stroke="#111" stroke-width="0.5"/>
<circle cx="392.53" cy="93.58" r="1.30" fill="#b01020" stroke="#111" stroke-width="0.5"/>
<circle cx="395.70" cy="92.53" r="1.30" fill="#b01020" stroke="#111" stroke-width="0.5"/>
<circle cx="386.71" cy="95.38" r="1.30" fill="#b01020" stroke="#111" stroke-width="0.5"/>
<circle cx="384.60" cy="97.28" r="1.30" fill="#b01020" stroke="#111" stroke-width="0.5"/>
<circle cx="389.88" cy="97.81" r="1.30" fill="#b01020" stroke="#111" stroke-width="0.5"/>
<circle cx="393.05" cy="97.07" r="1.30" fill="#b01020" stroke="#111" stroke-width="0.5"/>
<circle cx="395.70" cy="97.81" r="1.30" fill="#b01020" stroke="#111" stroke-width="0.5"/>
<circle cx="387.24" cy="100.45" r="1.30" fill="#b01020" stroke="#111" stroke-width="0.5"/>
<circle cx="393.05" cy="100.45" r="1.30" fill="#b01020" stroke="#111" stroke-width="0.5"/>
<circle cx="384.60" cy="104.15" r="1.30" fill="#b01020" stroke="#111" stroke-width="0.5"/>
<circle cx="386.71" cy="104.68" r="1.30" fill="#b01020" stroke="#111" stroke-width="0.5"/>
<circle cx="389.88" cy="104.47" r="1.30" fill="#b01020" stroke="#111" stroke-width="0.5"/>
<circle cx="392.00" cy="105.21" r="1.30" fill="#b01020" stroke="#111" stroke-width="0.5"/>
<circle cx="395.17" cy="103.10" r="1.30" fill="#b01020" stroke="#111" stroke-width="0.5"/>
<circle cx="395.70" cy="105.21" r="1.30" fill="#b01020" stroke="#111" stroke-width="0.5"/>
<circle cx="385.66" cy="107.33" r="1.30" fill="#b01020" stroke="#111" stroke-width="0.5"/>
<circle cx="389.88" cy="108.38" r="1.30" fill="#b01020" stroke="#111" stroke-width="0.5"/>
<circle cx="395.70" cy="107.33" r="1.30" fill="#b01020" stroke="#111" stroke-width="0.5"/>
<circle cx="384.60" cy="110.81" r="1.30" fill="#b01020" stroke="#111" stroke-width="0.5"/>
<circle cx="395.70" cy="109.76" r="1.30" fill="#b01020" stroke="#111" stroke-width="0.5"/>
<circle cx="387.77" cy="105.74" r="1.30" fill="#b01020" stroke="#111" stroke-width="0.5"/>
<circle cx="393.05" cy="106.27" r="1.30" fill="#b01020" stroke="#111" stroke-width="0.5"/>
<circle cx="390.94" cy="95.17" r="1.30" fill="#b01020" stroke="#111" stroke-width="0.5"/>
<circle cx="388.83" cy="106.80" r="1.30" fill="#b01020" stroke="#111" stroke-width="0.5"/>
<circle cx="394.11" cy="104.68" r="1.30" fill="#b01020" stroke="#111" stroke-width="0.5"/>
<circle cx="392.53" cy="108.91" r="1.30" fill="#b01020" stroke="#111" stroke-width="0.5"/>
<line x1="340.30" y1="97.80" x2="354.80" y2="97.80" stroke="#333" stroke-width="0.8" />
<line x1="383.00" y1="95.70" x2="397.60" y2="95.70" stroke="#333" stroke-width="0.8" />
<line x1="320.00" y1="114.00" x2="333.00" y2="114.00" stroke="#333" stroke-width="0.7" />
<line x1="362.00" y1="115.00" x2="375.50" y2="115.00" stroke="#333" stroke-width="0.7" />
<text x="7.00" y="156.00" font-size="11.5" textLength="8.00" lengthAdjust="spacingAndGlyphs" fill="#000" font-weight="bold">C</text>
<text x="22.20" y="167.60" font-size="6.4" textLength="29.20" lengthAdjust="spacingAndGlyphs" fill="#231f20" stroke="#231f20" stroke-width="0.14">HEL92.1.7</text>
<text x="22.20" y="175.70" font-size="6.4" textLength="14.40" lengthAdjust="spacingAndGlyphs" fill="#231f20" stroke="#231f20" stroke-width="0.14">SET2</text>
<path d="M24.0,186.5 Q30.0,181.5 40.4,179.0 L50.8,183.0 L51.2,189.6 L40.6,194.0 L27.5,196.8 L23.6,194.0 Z" stroke="#b0b0b0" fill="#fff" stroke-width="0.5" />
<path d="M32.6,182.0 L32.8,190.8 M40.4,179.0 L40.6,186.5 M40.4,179.0 L40.6,186" stroke="#c4c4c4" fill="none" stroke-width="0.45" />
<path d="M25.2,190.6 L41.4,185.2 L51.2,188.4 L51.2,191.0 L36.5,196.6 L27.4,197.3 L25.0,195.3 Z" stroke="#a5453b" fill="#cd5f52" stroke-width="0.4" />
<path d="M25.4,193.6 L36.4,194.4 L51.2,189.6 L51.2,191.0 L36.5,196.6 L27.4,197.3 L25.0,195.3 Z" stroke="none" fill="#b44a40" stroke-width="0.8" />
<ellipse cx="21.9" cy="191.9" rx="3.4" ry="3.9" fill="#5aa8e4" stroke="#2f7fc0" stroke-width="0.5"/>
<path d="M20.6,188.6 Q19.4,191.9 20.6,195.2" stroke="#3f8fd0" fill="none" stroke-width="0.4" />
<text x="58.80" y="167.60" font-size="6.4" textLength="7.60" lengthAdjust="spacingAndGlyphs" fill="#231f20" stroke="#231f20" stroke-width="0.14">LD</text>
<text x="66.80" y="169.40" font-size="3.9" textLength="4.40" lengthAdjust="spacingAndGlyphs" fill="#231f20" stroke="#231f20" stroke-width="0.14">50</text>
<text x="72.90" y="167.60" font-size="6.4" textLength="13.60" lengthAdjust="spacingAndGlyphs" fill="#231f20" stroke="#231f20" stroke-width="0.14">dose</text>
<text x="58.80" y="175.70" font-size="6.4" textLength="23.80" lengthAdjust="spacingAndGlyphs" fill="#231f20" stroke="#231f20" stroke-width="0.14">OTX015</text>
<text x="58.80" y="183.80" font-size="6.4" textLength="24.70" lengthAdjust="spacingAndGlyphs" fill="#231f20" stroke="#231f20" stroke-width="0.14">48 hours</text>
<path d="M66.00,187.40 L77.00,187.40 L77.00,185.40 L81.20,189.30 L77.00,193.20 L77.00,191.20 L66.00,191.20Z" stroke="none" fill="#8e1b2e" stroke-width="0.8" />
<path d="M126.30,187.30 L137.30,187.30 L137.30,185.30 L141.30,189.20 L137.30,193.10 L137.30,191.10 L126.30,191.10Z" stroke="none" fill="#8e1b2e" stroke-width="0.8" />
<path d="M175.40,187.00 L185.90,187.00 L185.90,185.00 L190.20,188.90 L185.90,192.80 L185.90,190.80 L175.40,190.80Z" stroke="none" fill="#8e1b2e" stroke-width="0.8" />
<path d="M71.6,158.5 L71.6,156.6 Q71.6,154.5 73.8,154.5 L157.0,154.5 Q159.2,154.5 159.2,156.7 L159.2,162.5" stroke="#4a9fe4" fill="none" stroke-width="1.0" />
<path d="M69.9,157.2 L71.6,160.0 L73.3,157.2" stroke="#4a9fe4" fill="none" stroke-width="0.9" />
<text x="98.70" y="163.60" font-size="6.6" textLength="39.20" lengthAdjust="spacingAndGlyphs" fill="#bb2244" stroke="#bb2244" stroke-width="0.14">Repeated  9X</text>
<text x="116.30" y="170.80" font-size="6.4" textLength="27.60" lengthAdjust="spacingAndGlyphs" fill="#231f20" stroke="#231f20" stroke-width="0.14">Ficoll and</text>
<text x="116.30" y="178.30" font-size="6.4" textLength="34.80" lengthAdjust="spacingAndGlyphs" fill="#231f20" stroke="#231f20" stroke-width="0.14">full recovery</text>
<text x="174.70" y="170.50" font-size="6.4" textLength="21.50" lengthAdjust="spacingAndGlyphs" fill="#231f20" stroke="#231f20" stroke-width="0.14">Post 10</text>
<text x="174.70" y="178.20" font-size="6.4" textLength="18.40" lengthAdjust="spacingAndGlyphs" fill="#231f20" stroke="#231f20" stroke-width="0.14">shocks</text>
<text x="186.80" y="207.60" font-size="6.4" textLength="38.40" lengthAdjust="spacingAndGlyphs" fill="#231f20" stroke="#231f20" stroke-width="0.14">HEL-OTX P/R</text>
<text x="186.80" y="215.70" font-size="6.4" textLength="41.10" lengthAdjust="spacingAndGlyphs" fill="#231f20" stroke="#231f20" stroke-width="0.14">SET2-OTX P/R</text>
<circle cx="101.40" cy="180.30" r="2.90" fill="#b5122c" stroke="#161616" stroke-width="0.55"/>
<circle cx="107.50" cy="178.60" r="2.90" fill="#b5122c" stroke="#161616" stroke-width="0.55"/>
<circle cx="99.40" cy="184.70" r="2.90" fill="#b5122c" stroke="#161616" stroke-width="0.55"/>
<circle cx="105.10" cy="184.30" r="2.90" fill="#b5122c" stroke="#161616" stroke-width="0.55"/>
<circle cx="110.90" cy="183.00" r="2.90" fill="#b5122c" stroke="#161616" stroke-width="0.55"/>
<circle cx="102.40" cy="189.10" r="2.90" fill="#b5122c" stroke="#161616" stroke-width="0.55"/>
<circle cx="107.50" cy="190.10" r="2.90" fill="#b5122c" stroke="#161616" stroke-width="0.55"/>
<circle cx="112.90" cy="188.10" r="2.90" fill="#b5122c" stroke="#161616" stroke-width="0.55"/>
<circle cx="103.70" cy="195.10" r="2.90" fill="#b5122c" stroke="#161616" stroke-width="0.55"/>
<circle cx="111.30" cy="192.80" r="2.90" fill="#2b4c8c" stroke="#161616" stroke-width="0.55"/>
<circle cx="157.10" cy="177.90" r="2.90" fill="#2b4c8c" stroke="#161616" stroke-width="0.55"/>
<circle cx="165.20" cy="180.00" r="2.90" fill="#2b4c8c" stroke="#161616" stroke-width="0.55"/>
<circle cx="154.40" cy="182.90" r="2.90" fill="#2b4c8c" stroke="#161616" stroke-width="0.55"/>
<circle cx="160.60" cy="182.30" r="2.90" fill="#2b4c8c" stroke="#161616" stroke-width="0.55"/>
<circle cx="165.60" cy="185.80" r="2.90" fill="#2b4c8c" stroke="#161616" stroke-width="0.55"/>
<circle cx="154.40" cy="187.50" r="2.90" fill="#b5122c" stroke="#161616" stroke-width="0.55"/>
<circle cx="160.10" cy="187.50" r="2.90" fill="#b5122c" stroke="#161616" stroke-width="0.55"/>
<circle cx="165.60" cy="190.60" r="2.90" fill="#2b4c8c" stroke="#161616" stroke-width="0.55"/>
<circle cx="154.60" cy="192.10" r="2.90" fill="#2b4c8c" stroke="#161616" stroke-width="0.55"/>
<circle cx="160.40" cy="193.80" r="2.90" fill="#2b4c8c" stroke="#161616" stroke-width="0.55"/>
<circle cx="205.30" cy="179.50" r="2.90" fill="#2b4c8c" stroke="#161616" stroke-width="0.55"/>
<circle cx="213.70" cy="181.50" r="2.90" fill="#2b4c8c" stroke="#161616" stroke-width="0.55"/>
<circle cx="202.30" cy="184.20" r="2.90" fill="#2b4c8c" stroke="#161616" stroke-width="0.55"/>
<circle cx="209.00" cy="183.60" r="2.90" fill="#2b4c8c" stroke="#161616" stroke-width="0.55"/>
<circle cx="213.70" cy="187.60" r="2.90" fill="#2b4c8c" stroke="#161616" stroke-width="0.55"/>
<circle cx="201.00" cy="188.90" r="2.90" fill="#2b4c8c" stroke="#161616" stroke-width="0.55"/>
<circle cx="207.40" cy="188.50" r="2.90" fill="#2b4c8c" stroke="#161616" stroke-width="0.55"/>
<circle cx="213.70" cy="192.30" r="2.90" fill="#2b4c8c" stroke="#161616" stroke-width="0.55"/>
<circle cx="203.60" cy="193.60" r="2.90" fill="#2b4c8c" stroke="#161616" stroke-width="0.55"/>
<circle cx="209.00" cy="195.30" r="2.90" fill="#2b4c8c" stroke="#161616" stroke-width="0.55"/>
<circle cx="57.80" cy="209.50" r="2.90" fill="#b5122c" stroke="#161616" stroke-width="0.55"/>
<circle cx="57.80" cy="218.00" r="2.90" fill="#2b4c8c" stroke="#161616" stroke-width="0.55"/>
<text x="64.40" y="211.80" font-size="6.4" textLength="84.60" lengthAdjust="spacingAndGlyphs" fill="#231f20" stroke="#231f20" stroke-width="0.14">Persister (P)/Resistant (R) cells</text>
<text x="64.40" y="220.60" font-size="6.4" textLength="56.50" lengthAdjust="spacingAndGlyphs" fill="#231f20" stroke="#231f20" stroke-width="0.14">Sensitive/Dead cells</text>
<text x="7.30" y="240.60" font-size="11.5" textLength="8.20" lengthAdjust="spacingAndGlyphs" fill="#000" font-weight="bold">D</text>
<line x1="48.50" y1="243.00" x2="48.50" y2="295.20" stroke="#231f20" stroke-width="1.1" />
<line x1="45.30" y1="293.80" x2="48.50" y2="293.80" stroke="#231f20" stroke-width="0.75" />
<text x="42.50" y="296.10" font-size="6.4" text-anchor="end" textLength="3.30" lengthAdjust="spacingAndGlyphs" fill="#231f20" stroke="#231f20" stroke-width="0.14">0</text>
<line x1="45.30" y1="283.94" x2="48.50" y2="283.94" stroke="#231f20" stroke-width="0.75" />
<text x="42.50" y="286.24" font-size="6.4" text-anchor="end" textLength="6.60" lengthAdjust="spacingAndGlyphs" fill="#231f20" stroke="#231f20" stroke-width="0.14">20</text>
<line x1="45.30" y1="274.08" x2="48.50" y2="274.08" stroke="#231f20" stroke-width="0.75" />
<text x="42.50" y="276.38" font-size="6.4" text-anchor="end" textLength="6.60" lengthAdjust="spacingAndGlyphs" fill="#231f20" stroke="#231f20" stroke-width="0.14">40</text>
<line x1="45.30" y1="264.22" x2="48.50" y2="264.22" stroke="#231f20" stroke-width="0.75" />
<text x="42.50" y="266.52" font-size="6.4" text-anchor="end" textLength="6.60" lengthAdjust="spacingAndGlyphs" fill="#231f20" stroke="#231f20" stroke-width="0.14">60</text>
<line x1="45.30" y1="254.36" x2="48.50" y2="254.36" stroke="#231f20" stroke-width="0.75" />
<text x="42.50" y="256.66" font-size="6.4" text-anchor="end" textLength="6.60" lengthAdjust="spacingAndGlyphs" fill="#231f20" stroke="#231f20" stroke-width="0.14">80</text>
<line x1="45.30" y1="244.50" x2="48.50" y2="244.50" stroke="#231f20" stroke-width="0.75" />
<text x="42.50" y="246.80" font-size="6.4" text-anchor="end" textLength="9.90" lengthAdjust="spacingAndGlyphs" fill="#231f20" stroke="#231f20" stroke-width="0.14">100</text>
<line x1="48.10" y1="294.80" x2="56.10" y2="294.80" stroke="#151515" stroke-width="1.1" />
<line x1="48.70" y1="294.80" x2="48.70" y2="297.00" stroke="#231f20" stroke-width="0.7" />
<line x1="55.90" y1="294.80" x2="55.90" y2="296.20" stroke="#231f20" stroke-width="0.7" />
<line x1="58.30" y1="294.80" x2="126.50" y2="294.80" stroke="#151515" stroke-width="1.1" />
<line x1="58.70" y1="294.80" x2="58.70" y2="297.00" stroke="#231f20" stroke-width="0.6" />
<line x1="63.74" y1="294.80" x2="63.74" y2="296.10" stroke="#231f20" stroke-width="0.6" />
<line x1="66.69" y1="294.80" x2="66.69" y2="296.10" stroke="#231f20" stroke-width="0.6" />
<line x1="68.78" y1="294.80" x2="68.78" y2="296.10" stroke="#231f20" stroke-width="0.6" />
<line x1="70.41" y1="294.80" x2="70.41" y2="296.10" stroke="#231f20" stroke-width="0.6" />
<line x1="71.73" y1="294.80" x2="71.73" y2="296.10" stroke="#231f20" stroke-width="0.6" />
<line x1="72.86" y1="294.80" x2="72.86" y2="296.10" stroke="#231f20" stroke-width="0.6" />
<line x1="73.83" y1="294.80" x2="73.83" y2="296.10" stroke="#231f20" stroke-width="0.6" />
<line x1="74.68" y1="294.80" x2="74.68" y2="296.10" stroke="#231f20" stroke-width="0.6" />
<line x1="75.45" y1="294.80" x2="75.45" y2="297.00" stroke="#231f20" stroke-width="0.6" />
<line x1="80.49" y1="294.80" x2="80.49" y2="296.10" stroke="#231f20" stroke-width="0.6" />
<line x1="83.44" y1="294.80" x2="83.44" y2="296.10" stroke="#231f20" stroke-width="0.6" />
<line x1="85.53" y1="294.80" x2="85.53" y2="296.10" stroke="#231f20" stroke-width="0.6" />
<line x1="87.16" y1="294.80" x2="87.16" y2="296.10" stroke="#231f20" stroke-width="0.6" />
<line x1="88.48" y1="294.80" x2="88.48" y2="296.10" stroke="#231f20" stroke-width="0.6" />
<line x1="89.61" y1="294.80" x2="89.61" y2="296.10" stroke="#231f20" stroke-width="0.6" />
<line x1="90.58" y1="294.80" x2="90.58" y2="296.10" stroke="#231f20" stroke-width="0.6" />
<line x1="91.43" y1="294.80" x2="91.43" y2="296.10" stroke="#231f20" stroke-width="0.6" />
<line x1="92.20" y1="294.80" x2="92.20" y2="297.00" stroke="#231f20" stroke-width="0.6" />
<line x1="97.24" y1="294.80" x2="97.24" y2="296.10" stroke="#231f20" stroke-width="0.6" />
<line x1="100.19" y1="294.80" x2="100.19" y2="296.10" stroke="#231f20" stroke-width="0.6" />
<line x1="102.28" y1="294.80" x2="102.28" y2="296.10" stroke="#231f20" stroke-width="0.6" />
<line x1="103.91" y1="294.80" x2="103.91" y2="296.10" stroke="#231f20" stroke-width="0.6" />
<line x1="105.23" y1="294.80" x2="105.23" y2="296.10" stroke="#231f20" stroke-width="0.6" />
<line x1="106.36" y1="294.80" x2="106.36" y2="296.10" stroke="#231f20" stroke-width="0.6" />
<line x1="107.33" y1="294.80" x2="107.33" y2="296.10" stroke="#231f20" stroke-width="0.6" />
<line x1="108.18" y1="294.80" x2="108.18" y2="296.10" stroke="#231f20" stroke-width="0.6" />
<line x1="108.95" y1="294.80" x2="108.95" y2="297.00" stroke="#231f20" stroke-width="0.6" />
<line x1="113.99" y1="294.80" x2="113.99" y2="296.10" stroke="#231f20" stroke-width="0.6" />
<line x1="116.94" y1="294.80" x2="116.94" y2="296.10" stroke="#231f20" stroke-width="0.6" />
<line x1="119.03" y1="294.80" x2="119.03" y2="296.10" stroke="#231f20" stroke-width="0.6" />
<line x1="120.66" y1="294.80" x2="120.66" y2="296.10" stroke="#231f20" stroke-width="0.6" />
<line x1="121.98" y1="294.80" x2="121.98" y2="296.10" stroke="#231f20" stroke-width="0.6" />
<line x1="123.11" y1="294.80" x2="123.11" y2="296.10" stroke="#231f20" stroke-width="0.6" />
<line x1="124.08" y1="294.80" x2="124.08" y2="296.10" stroke="#231f20" stroke-width="0.6" />
<line x1="124.93" y1="294.80" x2="124.93" y2="296.10" stroke="#231f20" stroke-width="0.6" />
<line x1="125.70" y1="294.80" x2="125.70" y2="297.00" stroke="#231f20" stroke-width="0.6" />
<text x="48.80" y="304.80" font-size="6.4" text-anchor="middle" textLength="3.30" lengthAdjust="spacingAndGlyphs" fill="#231f20" stroke="#231f20" stroke-width="0.14">0</text>
<text x="58.70" y="304.80" font-size="6.4" text-anchor="middle" textLength="3.30" lengthAdjust="spacingAndGlyphs" fill="#231f20" stroke="#231f20" stroke-width="0.14">1</text>
<text x="75.45" y="304.80" font-size="6.4" text-anchor="middle" textLength="6.60" lengthAdjust="spacingAndGlyphs" fill="#231f20" stroke="#231f20" stroke-width="0.14">10</text>
<text x="92.20" y="304.80" font-size="6.4" text-anchor="middle" textLength="9.90" lengthAdjust="spacingAndGlyphs" fill="#231f20" stroke="#231f20" stroke-width="0.14">100</text>
<text x="108.95" y="304.80" font-size="6.4" text-anchor="middle" textLength="13.20" lengthAdjust="spacingAndGlyphs" fill="#231f20" stroke="#231f20" stroke-width="0.14">1000</text>
<text x="125.70" y="304.80" font-size="6.4" text-anchor="middle" textLength="16.50" lengthAdjust="spacingAndGlyphs" fill="#231f20" stroke="#231f20" stroke-width="0.14">10000</text>
<text x="88.40" y="315.90" font-size="8.4" text-anchor="middle" textLength="58.20" lengthAdjust="spacingAndGlyphs" fill="#231f20" stroke="#231f20" stroke-width="0.14">nM, OTX015, 48 hrs</text>
<text x="27.00" y="286.20" font-size="8.2" textLength="37.00" lengthAdjust="spacingAndGlyphs" fill="#231f20" stroke="#231f20" stroke-width="0.14" transform="rotate(-90 27.00 286.20)">% apoptosis</text>
<line x1="51.50" y1="244.70" x2="58.10" y2="244.70" stroke="#2d57a0" stroke-width="0.7" />
<circle cx="54.70" cy="244.70" r="0.90" fill="#2d57a0"/>
<text x="59.80" y="246.30" font-size="5.3" textLength="13.00" lengthAdjust="spacingAndGlyphs" fill="#231f20" stroke="#231f20" stroke-width="0.14">SET-2</text>
<line x1="51.50" y1="251.60" x2="58.10" y2="251.60" stroke="#c41c3c" stroke-width="0.7" />
<circle cx="54.70" cy="251.60" r="0.90" fill="#c41c3c"/>
<text x="59.80" y="253.20" font-size="5.3" textLength="36.00" lengthAdjust="spacingAndGlyphs" fill="#231f20" stroke="#231f20" stroke-width="0.14">SET-2-OTX P/R</text>
<path d="M58.70,289.00 L59.96,288.98 L61.23,288.96 L62.49,288.94 L63.76,288.90 L65.02,288.86 L66.29,288.81 L67.55,288.75 L68.82,288.67 L70.08,288.57 L71.34,288.45 L72.61,288.30 L73.87,288.11 L75.14,287.88 L76.40,287.60 L77.67,287.24 L78.93,286.81 L80.20,286.29 L81.46,285.65 L82.72,284.88 L83.99,283.97 L85.25,282.88 L86.52,281.61 L87.78,280.14 L89.05,278.47 L90.31,276.61 L91.58,274.56 L92.84,272.37 L94.10,270.07 L95.37,267.72 L96.63,265.37 L97.90,263.07 L99.16,260.89 L100.43,258.87 L101.69,257.02 L102.96,255.37 L104.22,253.92 L105.48,252.67 L106.75,251.60 L108.01,250.70 L109.28,249.95 L110.54,249.32 L111.81,248.81 L113.07,248.39 L114.34,248.04 L115.60,247.76 L116.86,247.53 L118.13,247.35 L119.39,247.20 L120.66,247.08" stroke="#2d57a0" fill="none" stroke-width="0.9" />
<circle cx="70.41" cy="289.02" r="1.25" fill="#2d57a0"/>
<circle cx="75.45" cy="287.44" r="1.25" fill="#2d57a0"/>
<circle cx="80.49" cy="285.57" r="1.25" fill="#2d57a0"/>
<circle cx="87.16" cy="282.17" r="1.25" fill="#2d57a0"/>
<circle cx="92.20" cy="272.11" r="1.25" fill="#2d57a0"/>
<circle cx="98.87" cy="262.54" r="1.25" fill="#2d57a0"/>
<circle cx="103.91" cy="253.97" r="1.25" fill="#2d57a0"/>
<circle cx="108.95" cy="249.13" r="1.25" fill="#2d57a0"/>
<circle cx="113.99" cy="248.84" r="1.25" fill="#2d57a0"/>
<line x1="120.66" y1="245.63" x2="120.66" y2="248.59" stroke="#2d57a0" stroke-width="0.6" />
<line x1="119.76" y1="245.63" x2="121.56" y2="245.63" stroke="#2d57a0" stroke-width="0.5" />
<line x1="119.76" y1="248.59" x2="121.56" y2="248.59" stroke="#2d57a0" stroke-width="0.5" />
<circle cx="120.66" cy="247.11" r="1.25" fill="#2d57a0"/>
<line x1="48.80" y1="290.00" x2="55.90" y2="290.00" stroke="#2d57a0" stroke-width="0.8" />
<circle cx="80.49" cy="290.45" r="1.25" fill="#c41c3c"/>
<circle cx="87.16" cy="290.05" r="1.25" fill="#c41c3c"/>
<circle cx="92.20" cy="288.67" r="1.25" fill="#c41c3c"/>
<circle cx="98.87" cy="286.65" r="1.25" fill="#c41c3c"/>
<line x1="103.91" y1="281.18" x2="103.91" y2="283.15" stroke="#c41c3c" stroke-width="0.6" />
<line x1="103.01" y1="281.18" x2="104.81" y2="281.18" stroke="#c41c3c" stroke-width="0.5" />
<line x1="103.01" y1="283.15" x2="104.81" y2="283.15" stroke="#c41c3c" stroke-width="0.5" />
<circle cx="103.91" cy="282.17" r="1.25" fill="#c41c3c"/>
<line x1="108.95" y1="271.12" x2="108.95" y2="276.05" stroke="#c41c3c" stroke-width="0.6" />
<line x1="108.05" y1="271.12" x2="109.85" y2="271.12" stroke="#c41c3c" stroke-width="0.5" />
<line x1="108.05" y1="276.05" x2="109.85" y2="276.05" stroke="#c41c3c" stroke-width="0.5" />
<circle cx="108.95" cy="273.59" r="1.25" fill="#c41c3c"/>
<line x1="113.99" y1="264.22" x2="113.99" y2="270.14" stroke="#c41c3c" stroke-width="0.6" />
<line x1="113.09" y1="264.22" x2="114.89" y2="264.22" stroke="#c41c3c" stroke-width="0.5" />
<line x1="113.09" y1="270.14" x2="114.89" y2="270.14" stroke="#c41c3c" stroke-width="0.5" />
<circle cx="113.99" cy="267.18" r="1.25" fill="#c41c3c"/>
<line x1="120.66" y1="266.19" x2="120.66" y2="270.14" stroke="#c41c3c" stroke-width="0.6" />
<line x1="119.76" y1="266.19" x2="121.56" y2="266.19" stroke="#c41c3c" stroke-width="0.5" />
<line x1="119.76" y1="270.14" x2="121.56" y2="270.14" stroke="#c41c3c" stroke-width="0.5" />
<circle cx="120.66" cy="268.16" r="1.25" fill="#c41c3c"/>
<path d="M58.70,290.93 L59.96,290.93 L61.23,290.93 L62.49,290.93 L63.76,290.93 L65.02,290.93 L66.29,290.93 L67.55,290.93 L68.82,290.93 L70.08,290.93 L71.34,290.93 L72.61,290.93 L73.87,290.92 L75.14,290.92 L76.40,290.92 L77.67,290.91 L78.93,290.91 L80.20,290.90 L81.46,290.88 L82.72,290.86 L83.99,290.84 L85.25,290.80 L86.52,290.76 L87.78,290.69 L89.05,290.60 L90.31,290.47 L91.58,290.31 L92.84,290.08 L94.10,289.77 L95.37,289.35 L96.63,288.81 L97.90,288.09 L99.16,287.17 L100.43,286.02 L101.69,284.62 L102.96,282.97 L104.22,281.11 L105.48,279.10 L106.75,277.04 L108.01,275.02 L109.28,273.16 L110.54,271.50 L111.81,270.09 L113.07,268.94 L114.34,268.01 L115.60,267.29 L116.86,266.74 L118.13,266.32 L119.39,266.01 L120.66,265.78" stroke="#c41c3c" fill="none" stroke-width="0.9" />
<line x1="48.80" y1="291.34" x2="55.90" y2="291.34" stroke="#c41c3c" stroke-width="0.8" />
<line x1="171.25" y1="243.00" x2="171.25" y2="295.20" stroke="#231f20" stroke-width="1.1" />
<line x1="168.05" y1="293.80" x2="171.25" y2="293.80" stroke="#231f20" stroke-width="0.75" />
<text x="165.25" y="296.10" font-size="6.4" text-anchor="end" textLength="3.30" lengthAdjust="spacingAndGlyphs" fill="#231f20" stroke="#231f20" stroke-width="0.14">0</text>
<line x1="168.05" y1="283.94" x2="171.25" y2="283.94" stroke="#231f20" stroke-width="0.75" />
<text x="165.25" y="286.24" font-size="6.4" text-anchor="end" textLength="6.60" lengthAdjust="spacingAndGlyphs" fill="#231f20" stroke="#231f20" stroke-width="0.14">20</text>
<line x1="168.05" y1="274.08" x2="171.25" y2="274.08" stroke="#231f20" stroke-width="0.75" />
<text x="165.25" y="276.38" font-size="6.4" text-anchor="end" textLength="6.60" lengthAdjust="spacingAndGlyphs" fill="#231f20" stroke="#231f20" stroke-width="0.14">40</text>
<line x1="168.05" y1="264.22" x2="171.25" y2="264.22" stroke="#231f20" stroke-width="0.75" />
<text x="165.25" y="266.52" font-size="6.4" text-anchor="end" textLength="6.60" lengthAdjust="spacingAndGlyphs" fill="#231f20" stroke="#231f20" stroke-width="0.14">60</text>
<line x1="168.05" y1="254.36" x2="171.25" y2="254.36" stroke="#231f20" stroke-width="0.75" />
<text x="165.25" y="256.66" font-size="6.4" text-anchor="end" textLength="6.60" lengthAdjust="spacingAndGlyphs" fill="#231f20" stroke="#231f20" stroke-width="0.14">80</text>
<line x1="168.05" y1="244.50" x2="171.25" y2="244.50" stroke="#231f20" stroke-width="0.75" />
<text x="165.25" y="246.80" font-size="6.4" text-anchor="end" textLength="9.90" lengthAdjust="spacingAndGlyphs" fill="#231f20" stroke="#231f20" stroke-width="0.14">100</text>
<line x1="170.85" y1="294.80" x2="178.85" y2="294.80" stroke="#151515" stroke-width="1.1" />
<line x1="171.45" y1="294.80" x2="171.45" y2="297.00" stroke="#231f20" stroke-width="0.7" />
<line x1="178.65" y1="294.80" x2="178.65" y2="296.20" stroke="#231f20" stroke-width="0.7" />
<line x1="181.00" y1="294.80" x2="255.50" y2="294.80" stroke="#151515" stroke-width="1.1" />
<line x1="181.50" y1="294.80" x2="181.50" y2="297.00" stroke="#231f20" stroke-width="0.6" />
<line x1="188.78" y1="294.80" x2="188.78" y2="296.10" stroke="#231f20" stroke-width="0.6" />
<line x1="193.05" y1="294.80" x2="193.05" y2="296.10" stroke="#231f20" stroke-width="0.6" />
<line x1="196.07" y1="294.80" x2="196.07" y2="296.10" stroke="#231f20" stroke-width="0.6" />
<line x1="198.42" y1="294.80" x2="198.42" y2="296.10" stroke="#231f20" stroke-width="0.6" />
<line x1="200.33" y1="294.80" x2="200.33" y2="296.10" stroke="#231f20" stroke-width="0.6" />
<line x1="201.95" y1="294.80" x2="201.95" y2="296.10" stroke="#231f20" stroke-width="0.6" />
<line x1="203.35" y1="294.80" x2="203.35" y2="296.10" stroke="#231f20" stroke-width="0.6" />
<line x1="204.59" y1="294.80" x2="204.59" y2="296.10" stroke="#231f20" stroke-width="0.6" />
<line x1="205.70" y1="294.80" x2="205.70" y2="297.00" stroke="#231f20" stroke-width="0.6" />
<line x1="212.98" y1="294.80" x2="212.98" y2="296.10" stroke="#231f20" stroke-width="0.6" />
<line x1="217.25" y1="294.80" x2="217.25" y2="296.10" stroke="#231f20" stroke-width="0.6" />
<line x1="220.27" y1="294.80" x2="220.27" y2="296.10" stroke="#231f20" stroke-width="0.6" />
<line x1="222.62" y1="294.80" x2="222.62" y2="296.10" stroke="#231f20" stroke-width="0.6" />
<line x1="224.53" y1="294.80" x2="224.53" y2="296.10" stroke="#231f20" stroke-width="0.6" />
<line x1="226.15" y1="294.80" x2="226.15" y2="296.10" stroke="#231f20" stroke-width="0.6" />
<line x1="227.55" y1="294.80" x2="227.55" y2="296.10" stroke="#231f20" stroke-width="0.6" />
<line x1="228.79" y1="294.80" x2="228.79" y2="296.10" stroke="#231f20" stroke-width="0.6" />
<line x1="229.90" y1="294.80" x2="229.90" y2="297.00" stroke="#231f20" stroke-width="0.6" />
<line x1="237.18" y1="294.80" x2="237.18" y2="296.10" stroke="#231f20" stroke-width="0.6" />
<line x1="241.45" y1="294.80" x2="241.45" y2="296.10" stroke="#231f20" stroke-width="0.6" />
<line x1="244.47" y1="294.80" x2="244.47" y2="296.10" stroke="#231f20" stroke-width="0.6" />
<line x1="246.82" y1="294.80" x2="246.82" y2="296.10" stroke="#231f20" stroke-width="0.6" />
<line x1="248.73" y1="294.80" x2="248.73" y2="296.10" stroke="#231f20" stroke-width="0.6" />
<line x1="250.35" y1="294.80" x2="250.35" y2="296.10" stroke="#231f20" stroke-width="0.6" />
<line x1="251.75" y1="294.80" x2="251.75" y2="296.10" stroke="#231f20" stroke-width="0.6" />
<line x1="252.99" y1="294.80" x2="252.99" y2="296.10" stroke="#231f20" stroke-width="0.6" />
<line x1="254.10" y1="294.80" x2="254.10" y2="297.00" stroke="#231f20" stroke-width="0.6" />
<text x="171.55" y="304.80" font-size="6.4" text-anchor="middle" textLength="3.30" lengthAdjust="spacingAndGlyphs" fill="#231f20" stroke="#231f20" stroke-width="0.14">0</text>
<text x="181.50" y="304.80" font-size="6.4" text-anchor="middle" textLength="6.60" lengthAdjust="spacingAndGlyphs" fill="#231f20" stroke="#231f20" stroke-width="0.14">10</text>
<text x="193.05" y="304.80" font-size="6.4" text-anchor="middle" textLength="6.60" lengthAdjust="spacingAndGlyphs" fill="#231f20" stroke="#231f20" stroke-width="0.14">30</text>
<text x="205.70" y="304.80" font-size="6.4" text-anchor="middle" textLength="9.90" lengthAdjust="spacingAndGlyphs" fill="#231f20" stroke="#231f20" stroke-width="0.14">100</text>
<text x="217.25" y="304.80" font-size="6.4" text-anchor="middle" textLength="9.90" lengthAdjust="spacingAndGlyphs" fill="#231f20" stroke="#231f20" stroke-width="0.14">300</text>
<text x="229.90" y="304.80" font-size="6.4" text-anchor="middle" textLength="13.20" lengthAdjust="spacingAndGlyphs" fill="#231f20" stroke="#231f20" stroke-width="0.14">1000</text>
<text x="254.10" y="304.80" font-size="6.4" text-anchor="middle" textLength="16.50" lengthAdjust="spacingAndGlyphs" fill="#231f20" stroke="#231f20" stroke-width="0.14">10000</text>
<text x="214.50" y="315.90" font-size="8.4" text-anchor="middle" textLength="60.00" lengthAdjust="spacingAndGlyphs" fill="#231f20" stroke="#231f20" stroke-width="0.14">nM, OTX015, 48 hrs</text>
<text x="149.80" y="286.20" font-size="8.2" textLength="37.00" lengthAdjust="spacingAndGlyphs" fill="#231f20" stroke="#231f20" stroke-width="0.14" transform="rotate(-90 149.80 286.20)">% apoptosis</text>
<line x1="174.25" y1="244.70" x2="180.85" y2="244.70" stroke="#2d57a0" stroke-width="0.7" />
<circle cx="177.45" cy="244.70" r="0.90" fill="#2d57a0"/>
<text x="182.55" y="246.30" font-size="5.3" textLength="24.20" lengthAdjust="spacingAndGlyphs" fill="#231f20" stroke="#231f20" stroke-width="0.14">HEL92.1.7</text>
<line x1="174.25" y1="251.60" x2="180.85" y2="251.60" stroke="#c41c3c" stroke-width="0.7" />
<circle cx="177.45" cy="251.60" r="0.90" fill="#c41c3c"/>
<text x="182.55" y="253.20" font-size="5.3" textLength="32.40" lengthAdjust="spacingAndGlyphs" fill="#231f20" stroke="#231f20" stroke-width="0.14">HEL-OTX P/R</text>
<path d="M181.50,288.91 L182.98,288.83 L184.46,288.73 L185.94,288.60 L187.43,288.45 L188.91,288.25 L190.39,288.01 L191.87,287.71 L193.35,287.34 L194.83,286.89 L196.32,286.33 L197.80,285.65 L199.28,284.83 L200.76,283.85 L202.24,282.69 L203.72,281.32 L205.21,279.75 L206.69,277.95 L208.17,275.96 L209.65,273.78 L211.13,271.45 L212.61,269.02 L214.10,266.55 L215.58,264.11 L217.06,261.76 L218.54,259.54 L220.02,257.50 L221.50,255.66 L222.99,254.03 L224.47,252.62 L225.95,251.41 L227.43,250.39 L228.91,249.53 L230.39,248.83 L231.88,248.24 L233.36,247.77 L234.84,247.38 L236.32,247.07 L237.80,246.81 L239.28,246.61 L240.77,246.44 L242.25,246.31 L243.73,246.21 L245.21,246.12 L246.69,246.06 L248.17,246.00 L249.66,245.96 L251.14,245.93 L252.62,245.90 L254.10,245.88" stroke="#2d57a0" fill="none" stroke-width="0.9" />
<circle cx="198.42" cy="284.43" r="1.25" fill="#2d57a0"/>
<line x1="205.70" y1="277.53" x2="205.70" y2="280.49" stroke="#2d57a0" stroke-width="0.6" />
<line x1="204.80" y1="277.53" x2="206.60" y2="277.53" stroke="#2d57a0" stroke-width="0.5" />
<line x1="204.80" y1="280.49" x2="206.60" y2="280.49" stroke="#2d57a0" stroke-width="0.5" />
<circle cx="205.70" cy="279.01" r="1.25" fill="#2d57a0"/>
<circle cx="215.33" cy="265.45" r="1.25" fill="#2d57a0"/>
<circle cx="222.62" cy="253.87" r="1.25" fill="#2d57a0"/>
<circle cx="229.90" cy="248.69" r="1.25" fill="#2d57a0"/>
<circle cx="237.18" cy="245.73" r="1.25" fill="#2d57a0"/>
<circle cx="246.82" cy="247.70" r="1.25" fill="#2d57a0"/>
<circle cx="254.10" cy="245.73" r="1.25" fill="#2d57a0"/>
<line x1="171.55" y1="289.86" x2="178.65" y2="289.86" stroke="#2d57a0" stroke-width="0.8" />
<path d="M181.50,290.91 L182.98,290.89 L184.46,290.86 L185.94,290.83 L187.43,290.79 L188.91,290.75 L190.39,290.70 L191.87,290.64 L193.35,290.57 L194.83,290.49 L196.32,290.39 L197.80,290.28 L199.28,290.16 L200.76,290.01 L202.24,289.84 L203.72,289.64 L205.21,289.42 L206.69,289.16 L208.17,288.86 L209.65,288.51 L211.13,288.12 L212.61,287.66 L214.10,287.15 L215.58,286.56 L217.06,285.90 L218.54,285.16 L220.02,284.33 L221.50,283.40 L222.99,282.37 L224.47,281.25 L225.95,280.02 L227.43,278.70 L228.91,277.28 L230.39,275.78 L231.88,274.20 L233.36,272.57 L234.84,270.89 L236.32,269.20 L237.80,267.49 L239.28,265.81 L240.77,264.16 L242.25,262.57 L243.73,261.04 L245.21,259.60 L246.69,258.25 L248.17,256.99 L249.66,255.84 L251.14,254.78 L252.62,253.83 L254.10,252.97" stroke="#c41c3c" fill="none" stroke-width="0.9" />
<circle cx="198.42" cy="290.35" r="1.25" fill="#c41c3c"/>
<circle cx="205.70" cy="289.12" r="1.25" fill="#c41c3c"/>
<circle cx="215.33" cy="286.65" r="1.25" fill="#c41c3c"/>
<circle cx="222.62" cy="282.95" r="1.25" fill="#c41c3c"/>
<circle cx="229.90" cy="276.05" r="1.25" fill="#c41c3c"/>
<line x1="237.18" y1="261.26" x2="237.18" y2="275.07" stroke="#c41c3c" stroke-width="0.6" />
<line x1="236.28" y1="261.26" x2="238.08" y2="261.26" stroke="#c41c3c" stroke-width="0.5" />
<line x1="236.28" y1="275.07" x2="238.08" y2="275.07" stroke="#c41c3c" stroke-width="0.5" />
<circle cx="237.18" cy="268.16" r="1.25" fill="#c41c3c"/>
<circle cx="246.82" cy="258.30" r="1.25" fill="#c41c3c"/>
<circle cx="254.10" cy="252.88" r="1.25" fill="#c41c3c"/>
<line x1="171.55" y1="290.84" x2="178.65" y2="290.84" stroke="#c41c3c" stroke-width="0.8" />
<line x1="47.50" y1="327.25" x2="47.50" y2="379.40" stroke="#231f20" stroke-width="1.1" />
<line x1="44.30" y1="378.00" x2="47.50" y2="378.00" stroke="#231f20" stroke-width="0.75" />
<text x="41.50" y="380.30" font-size="6.4" text-anchor="end" textLength="3.30" lengthAdjust="spacingAndGlyphs" fill="#231f20" stroke="#231f20" stroke-width="0.14">0</text>
<line x1="44.30" y1="368.15" x2="47.50" y2="368.15" stroke="#231f20" stroke-width="0.75" />
<text x="41.50" y="370.45" font-size="6.4" text-anchor="end" textLength="6.60" lengthAdjust="spacingAndGlyphs" fill="#231f20" stroke="#231f20" stroke-width="0.14">20</text>
<line x1="44.30" y1="358.30" x2="47.50" y2="358.30" stroke="#231f20" stroke-width="0.75" />
<text x="41.50" y="360.60" font-size="6.4" text-anchor="end" textLength="6.60" lengthAdjust="spacingAndGlyphs" fill="#231f20" stroke="#231f20" stroke-width="0.14">40</text>
<line x1="44.30" y1="348.45" x2="47.50" y2="348.45" stroke="#231f20" stroke-width="0.75" />
<text x="41.50" y="350.75" font-size="6.4" text-anchor="end" textLength="6.60" lengthAdjust="spacingAndGlyphs" fill="#231f20" stroke="#231f20" stroke-width="0.14">60</text>
<line x1="44.30" y1="338.60" x2="47.50" y2="338.60" stroke="#231f20" stroke-width="0.75" />
<text x="41.50" y="340.90" font-size="6.4" text-anchor="end" textLength="6.60" lengthAdjust="spacingAndGlyphs" fill="#231f20" stroke="#231f20" stroke-width="0.14">80</text>
<line x1="44.30" y1="328.75" x2="47.50" y2="328.75" stroke="#231f20" stroke-width="0.75" />
<text x="41.50" y="331.05" font-size="6.4" text-anchor="end" textLength="9.90" lengthAdjust="spacingAndGlyphs" fill="#231f20" stroke="#231f20" stroke-width="0.14">100</text>
<line x1="47.10" y1="379.00" x2="55.10" y2="379.00" stroke="#151515" stroke-width="1.1" />
<line x1="47.70" y1="379.00" x2="47.70" y2="381.20" stroke="#231f20" stroke-width="0.7" />
<line x1="54.90" y1="379.00" x2="54.90" y2="380.40" stroke="#231f20" stroke-width="0.7" />
<line x1="58.30" y1="379.00" x2="128.00" y2="379.00" stroke="#151515" stroke-width="1.1" />
<line x1="58.50" y1="379.00" x2="58.50" y2="381.20" stroke="#231f20" stroke-width="0.6" />
<line x1="63.92" y1="379.00" x2="63.92" y2="380.30" stroke="#231f20" stroke-width="0.6" />
<line x1="67.09" y1="379.00" x2="67.09" y2="380.30" stroke="#231f20" stroke-width="0.6" />
<line x1="69.34" y1="379.00" x2="69.34" y2="380.30" stroke="#231f20" stroke-width="0.6" />
<line x1="71.08" y1="379.00" x2="71.08" y2="380.30" stroke="#231f20" stroke-width="0.6" />
<line x1="72.51" y1="379.00" x2="72.51" y2="380.30" stroke="#231f20" stroke-width="0.6" />
<line x1="73.71" y1="379.00" x2="73.71" y2="380.30" stroke="#231f20" stroke-width="0.6" />
<line x1="74.76" y1="379.00" x2="74.76" y2="380.30" stroke="#231f20" stroke-width="0.6" />
<line x1="75.68" y1="379.00" x2="75.68" y2="380.30" stroke="#231f20" stroke-width="0.6" />
<line x1="76.50" y1="379.00" x2="76.50" y2="381.20" stroke="#231f20" stroke-width="0.6" />
<line x1="81.92" y1="379.00" x2="81.92" y2="380.30" stroke="#231f20" stroke-width="0.6" />
<line x1="85.09" y1="379.00" x2="85.09" y2="380.30" stroke="#231f20" stroke-width="0.6" />
<line x1="87.34" y1="379.00" x2="87.34" y2="380.30" stroke="#231f20" stroke-width="0.6" />
<line x1="89.08" y1="379.00" x2="89.08" y2="380.30" stroke="#231f20" stroke-width="0.6" />
<line x1="90.51" y1="379.00" x2="90.51" y2="380.30" stroke="#231f20" stroke-width="0.6" />
<line x1="91.71" y1="379.00" x2="91.71" y2="380.30" stroke="#231f20" stroke-width="0.6" />
<line x1="92.76" y1="379.00" x2="92.76" y2="380.30" stroke="#231f20" stroke-width="0.6" />
<line x1="93.68" y1="379.00" x2="93.68" y2="380.30" stroke="#231f20" stroke-width="0.6" />
<line x1="94.50" y1="379.00" x2="94.50" y2="381.20" stroke="#231f20" stroke-width="0.6" />
<line x1="99.92" y1="379.00" x2="99.92" y2="380.30" stroke="#231f20" stroke-width="0.6" />
<line x1="103.09" y1="379.00" x2="103.09" y2="380.30" stroke="#231f20" stroke-width="0.6" />
<line x1="105.34" y1="379.00" x2="105.34" y2="380.30" stroke="#231f20" stroke-width="0.6" />
<line x1="107.08" y1="379.00" x2="107.08" y2="380.30" stroke="#231f20" stroke-width="0.6" />
<line x1="108.51" y1="379.00" x2="108.51" y2="380.30" stroke="#231f20" stroke-width="0.6" />
<line x1="109.71" y1="379.00" x2="109.71" y2="380.30" stroke="#231f20" stroke-width="0.6" />
<line x1="110.76" y1="379.00" x2="110.76" y2="380.30" stroke="#231f20" stroke-width="0.6" />
<line x1="111.68" y1="379.00" x2="111.68" y2="380.30" stroke="#231f20" stroke-width="0.6" />
<line x1="112.50" y1="379.00" x2="112.50" y2="381.20" stroke="#231f20" stroke-width="0.6" />
<line x1="117.92" y1="379.00" x2="117.92" y2="380.30" stroke="#231f20" stroke-width="0.6" />
<line x1="121.09" y1="379.00" x2="121.09" y2="380.30" stroke="#231f20" stroke-width="0.6" />
<line x1="123.34" y1="379.00" x2="123.34" y2="380.30" stroke="#231f20" stroke-width="0.6" />
<line x1="125.08" y1="379.00" x2="125.08" y2="380.30" stroke="#231f20" stroke-width="0.6" />
<line x1="126.51" y1="379.00" x2="126.51" y2="380.30" stroke="#231f20" stroke-width="0.6" />
<line x1="127.71" y1="379.00" x2="127.71" y2="380.30" stroke="#231f20" stroke-width="0.6" />
<line x1="128.76" y1="379.00" x2="128.76" y2="380.30" stroke="#231f20" stroke-width="0.6" />
<line x1="129.68" y1="379.00" x2="129.68" y2="380.30" stroke="#231f20" stroke-width="0.6" />
<line x1="130.50" y1="379.00" x2="130.50" y2="381.20" stroke="#231f20" stroke-width="0.6" />
<text x="47.80" y="389.05" font-size="6.4" text-anchor="middle" textLength="3.30" lengthAdjust="spacingAndGlyphs" fill="#231f20" stroke="#231f20" stroke-width="0.14">0</text>
<text x="58.50" y="389.05" font-size="6.4" text-anchor="middle" textLength="3.30" lengthAdjust="spacingAndGlyphs" fill="#231f20" stroke="#231f20" stroke-width="0.14">1</text>
<text x="76.50" y="389.05" font-size="6.4" text-anchor="middle" textLength="6.60" lengthAdjust="spacingAndGlyphs" fill="#231f20" stroke="#231f20" stroke-width="0.14">10</text>
<text x="94.50" y="389.05" font-size="6.4" text-anchor="middle" textLength="9.90" lengthAdjust="spacingAndGlyphs" fill="#231f20" stroke="#231f20" stroke-width="0.14">100</text>
<text x="112.50" y="389.05" font-size="6.4" text-anchor="middle" textLength="13.20" lengthAdjust="spacingAndGlyphs" fill="#231f20" stroke="#231f20" stroke-width="0.14">1000</text>
<text x="130.50" y="389.05" font-size="6.4" text-anchor="middle" textLength="16.50" lengthAdjust="spacingAndGlyphs" fill="#231f20" stroke="#231f20" stroke-width="0.14">10000</text>
<text x="91.00" y="401.65" font-size="8.4" text-anchor="middle" textLength="47.00" lengthAdjust="spacingAndGlyphs" fill="#231f20" stroke="#231f20" stroke-width="0.14">nM, JQ1, 48 hrs</text>
<text x="26.00" y="368.70" font-size="8.2" textLength="34.90" lengthAdjust="spacingAndGlyphs" fill="#231f20" stroke="#231f20" stroke-width="0.14" transform="rotate(-90 26.00 368.70)">% apoptosis</text>
<line x1="50.50" y1="328.95" x2="57.10" y2="328.95" stroke="#2d57a0" stroke-width="0.7" />
<circle cx="53.70" cy="328.95" r="0.90" fill="#2d57a0"/>
<text x="58.80" y="330.55" font-size="5.3" textLength="13.00" lengthAdjust="spacingAndGlyphs" fill="#231f20" stroke="#231f20" stroke-width="0.14">SET-2</text>
<line x1="50.50" y1="335.85" x2="57.10" y2="335.85" stroke="#c41c3c" stroke-width="0.7" />
<circle cx="53.70" cy="335.85" r="0.90" fill="#c41c3c"/>
<text x="58.80" y="337.45" font-size="5.3" textLength="36.00" lengthAdjust="spacingAndGlyphs" fill="#231f20" stroke="#231f20" stroke-width="0.14">SET-2-OTX P/R</text>
<path d="M58.50,375.61 L59.86,375.60 L61.22,375.59 L62.58,375.58 L63.94,375.57 L65.29,375.55 L66.65,375.52 L68.01,375.49 L69.37,375.44 L70.73,375.38 L72.09,375.29 L73.45,375.18 L74.81,375.04 L76.16,374.84 L77.52,374.58 L78.88,374.24 L80.24,373.79 L81.60,373.21 L82.96,372.45 L84.32,371.48 L85.68,370.25 L87.03,368.71 L88.39,366.84 L89.75,364.60 L91.11,362.00 L92.47,359.09 L93.83,355.94 L95.19,352.67 L96.55,349.41 L97.91,346.31 L99.26,343.45 L100.62,340.92 L101.98,338.76 L103.34,336.95 L104.70,335.48 L106.06,334.30 L107.42,333.38 L108.78,332.66 L110.13,332.10 L111.49,331.68 L112.85,331.35 L114.21,331.11 L115.57,330.92 L116.93,330.78 L118.29,330.68 L119.65,330.60 L121.01,330.54 L122.36,330.50 L123.72,330.46 L125.08,330.44" stroke="#2d57a0" fill="none" stroke-width="0.9" />
<line x1="89.08" y1="365.19" x2="89.08" y2="369.14" stroke="#2d57a0" stroke-width="0.6" />
<line x1="88.18" y1="365.19" x2="89.98" y2="365.19" stroke="#2d57a0" stroke-width="0.5" />
<line x1="88.18" y1="369.14" x2="89.98" y2="369.14" stroke="#2d57a0" stroke-width="0.5" />
<circle cx="89.08" cy="367.17" r="1.25" fill="#2d57a0"/>
<line x1="94.50" y1="351.90" x2="94.50" y2="354.85" stroke="#2d57a0" stroke-width="0.6" />
<line x1="93.60" y1="351.90" x2="95.40" y2="351.90" stroke="#2d57a0" stroke-width="0.5" />
<line x1="93.60" y1="354.85" x2="95.40" y2="354.85" stroke="#2d57a0" stroke-width="0.5" />
<circle cx="94.50" cy="353.38" r="1.25" fill="#2d57a0"/>
<circle cx="101.66" cy="339.58" r="1.25" fill="#2d57a0"/>
<circle cx="107.08" cy="333.68" r="1.25" fill="#2d57a0"/>
<circle cx="112.50" cy="331.21" r="1.25" fill="#2d57a0"/>
<circle cx="117.92" cy="331.21" r="1.25" fill="#2d57a0"/>
<circle cx="125.08" cy="329.98" r="1.25" fill="#2d57a0"/>
<line x1="47.80" y1="375.78" x2="54.90" y2="375.78" stroke="#2d57a0" stroke-width="0.8" />
<path d="M58.50,376.00 L59.86,376.00 L61.22,375.99 L62.58,375.99 L63.94,375.99 L65.29,375.98 L66.65,375.97 L68.01,375.96 L69.37,375.95 L70.73,375.94 L72.09,375.92 L73.45,375.90 L74.81,375.87 L76.16,375.84 L77.52,375.80 L78.88,375.75 L80.24,375.68 L81.60,375.60 L82.96,375.50 L84.32,375.37 L85.68,375.22 L87.03,375.03 L88.39,374.79 L89.75,374.50 L91.11,374.14 L92.47,373.71 L93.83,373.18 L95.19,372.54 L96.55,371.77 L97.91,370.86 L99.26,369.78 L100.62,368.54 L101.98,367.11 L103.34,365.50 L104.70,363.72 L106.06,361.79 L107.42,359.75 L108.78,357.64 L110.13,355.51 L111.49,353.41 L112.85,351.39 L114.21,349.50 L115.57,347.75 L116.93,346.18 L118.29,344.79 L119.65,343.58 L121.01,342.54 L122.36,341.66 L123.72,340.92 L125.08,340.30" stroke="#c41c3c" fill="none" stroke-width="0.9" />
<circle cx="89.08" cy="374.55" r="1.25" fill="#c41c3c"/>
<circle cx="94.50" cy="371.25" r="1.25" fill="#c41c3c"/>
<circle cx="101.66" cy="371.25" r="1.25" fill="#c41c3c"/>
<line x1="107.08" y1="353.87" x2="107.08" y2="358.79" stroke="#c41c3c" stroke-width="0.6" />
<line x1="106.18" y1="353.87" x2="107.98" y2="353.87" stroke="#c41c3c" stroke-width="0.5" />
<line x1="106.18" y1="358.79" x2="107.98" y2="358.79" stroke="#c41c3c" stroke-width="0.5" />
<circle cx="107.08" cy="356.33" r="1.25" fill="#c41c3c"/>
<circle cx="112.50" cy="353.87" r="1.25" fill="#c41c3c"/>
<circle cx="117.92" cy="345.00" r="1.25" fill="#c41c3c"/>
<circle cx="125.08" cy="340.08" r="1.25" fill="#c41c3c"/>
<line x1="47.80" y1="376.52" x2="54.90" y2="376.52" stroke="#c41c3c" stroke-width="0.8" />
<line x1="171.25" y1="327.25" x2="171.25" y2="379.40" stroke="#231f20" stroke-width="1.1" />
<line x1="168.05" y1="378.00" x2="171.25" y2="378.00" stroke="#231f20" stroke-width="0.75" />
<text x="165.25" y="380.30" font-size="6.4" text-anchor="end" textLength="3.30" lengthAdjust="spacingAndGlyphs" fill="#231f20" stroke="#231f20" stroke-width="0.14">0</text>
<line x1="168.05" y1="368.15" x2="171.25" y2="368.15" stroke="#231f20" stroke-width="0.75" />
<text x="165.25" y="370.45" font-size="6.4" text-anchor="end" textLength="6.60" lengthAdjust="spacingAndGlyphs" fill="#231f20" stroke="#231f20" stroke-width="0.14">20</text>
<line x1="168.05" y1="358.30" x2="171.25" y2="358.30" stroke="#231f20" stroke-width="0.75" />
<text x="165.25" y="360.60" font-size="6.4" text-anchor="end" textLength="6.60" lengthAdjust="spacingAndGlyphs" fill="#231f20" stroke="#231f20" stroke-width="0.14">40</text>
<line x1="168.05" y1="348.45" x2="171.25" y2="348.45" stroke="#231f20" stroke-width="0.75" />
<text x="165.25" y="350.75" font-size="6.4" text-anchor="end" textLength="6.60" lengthAdjust="spacingAndGlyphs" fill="#231f20" stroke="#231f20" stroke-width="0.14">60</text>
<line x1="168.05" y1="338.60" x2="171.25" y2="338.60" stroke="#231f20" stroke-width="0.75" />
<text x="165.25" y="340.90" font-size="6.4" text-anchor="end" textLength="6.60" lengthAdjust="spacingAndGlyphs" fill="#231f20" stroke="#231f20" stroke-width="0.14">80</text>
<line x1="168.05" y1="328.75" x2="171.25" y2="328.75" stroke="#231f20" stroke-width="0.75" />
<text x="165.25" y="331.05" font-size="6.4" text-anchor="end" textLength="9.90" lengthAdjust="spacingAndGlyphs" fill="#231f20" stroke="#231f20" stroke-width="0.14">100</text>
<line x1="170.85" y1="379.00" x2="178.85" y2="379.00" stroke="#151515" stroke-width="1.1" />
<line x1="171.45" y1="379.00" x2="171.45" y2="381.20" stroke="#231f20" stroke-width="0.7" />
<line x1="178.65" y1="379.00" x2="178.65" y2="380.40" stroke="#231f20" stroke-width="0.7" />
<line x1="182.00" y1="379.00" x2="252.50" y2="379.00" stroke="#151515" stroke-width="1.1" />
<line x1="183.77" y1="379.00" x2="183.77" y2="380.30" stroke="#231f20" stroke-width="0.6" />
<line x1="187.77" y1="379.00" x2="187.77" y2="380.30" stroke="#231f20" stroke-width="0.6" />
<line x1="190.87" y1="379.00" x2="190.87" y2="380.30" stroke="#231f20" stroke-width="0.6" />
<line x1="193.40" y1="379.00" x2="193.40" y2="380.30" stroke="#231f20" stroke-width="0.6" />
<line x1="195.54" y1="379.00" x2="195.54" y2="380.30" stroke="#231f20" stroke-width="0.6" />
<line x1="197.40" y1="379.00" x2="197.40" y2="380.30" stroke="#231f20" stroke-width="0.6" />
<line x1="199.04" y1="379.00" x2="199.04" y2="380.30" stroke="#231f20" stroke-width="0.6" />
<line x1="200.50" y1="379.00" x2="200.50" y2="381.20" stroke="#231f20" stroke-width="0.6" />
<line x1="210.13" y1="379.00" x2="210.13" y2="380.30" stroke="#231f20" stroke-width="0.6" />
<line x1="215.77" y1="379.00" x2="215.77" y2="380.30" stroke="#231f20" stroke-width="0.6" />
<line x1="219.77" y1="379.00" x2="219.77" y2="380.30" stroke="#231f20" stroke-width="0.6" />
<line x1="222.87" y1="379.00" x2="222.87" y2="380.30" stroke="#231f20" stroke-width="0.6" />
<line x1="225.40" y1="379.00" x2="225.40" y2="380.30" stroke="#231f20" stroke-width="0.6" />
<line x1="227.54" y1="379.00" x2="227.54" y2="380.30" stroke="#231f20" stroke-width="0.6" />
<line x1="229.40" y1="379.00" x2="229.40" y2="380.30" stroke="#231f20" stroke-width="0.6" />
<line x1="231.04" y1="379.00" x2="231.04" y2="380.30" stroke="#231f20" stroke-width="0.6" />
<line x1="232.50" y1="379.00" x2="232.50" y2="381.20" stroke="#231f20" stroke-width="0.6" />
<line x1="242.13" y1="379.00" x2="242.13" y2="380.30" stroke="#231f20" stroke-width="0.6" />
<line x1="247.77" y1="379.00" x2="247.77" y2="380.30" stroke="#231f20" stroke-width="0.6" />
<text x="171.55" y="389.05" font-size="6.4" text-anchor="middle" textLength="3.30" lengthAdjust="spacingAndGlyphs" fill="#231f20" stroke="#231f20" stroke-width="0.14">0</text>
<text x="200.50" y="389.05" font-size="6.4" text-anchor="middle" textLength="9.90" lengthAdjust="spacingAndGlyphs" fill="#231f20" stroke="#231f20" stroke-width="0.14">100</text>
<text x="215.77" y="389.05" font-size="6.4" text-anchor="middle" textLength="9.90" lengthAdjust="spacingAndGlyphs" fill="#231f20" stroke="#231f20" stroke-width="0.14">300</text>
<text x="232.50" y="389.05" font-size="6.4" text-anchor="middle" textLength="13.20" lengthAdjust="spacingAndGlyphs" fill="#231f20" stroke="#231f20" stroke-width="0.14">1000</text>
<text x="247.77" y="389.05" font-size="6.4" text-anchor="middle" textLength="13.20" lengthAdjust="spacingAndGlyphs" fill="#231f20" stroke="#231f20" stroke-width="0.14">3000</text>
<text x="214.00" y="401.65" font-size="8.4" text-anchor="middle" textLength="48.00" lengthAdjust="spacingAndGlyphs" fill="#231f20" stroke="#231f20" stroke-width="0.14">nM, JQ1, 48 hrs</text>
<text x="149.80" y="368.70" font-size="8.2" textLength="34.90" lengthAdjust="spacingAndGlyphs" fill="#231f20" stroke="#231f20" stroke-width="0.14" transform="rotate(-90 149.80 368.70)">% apoptosis</text>
<line x1="174.25" y1="328.95" x2="180.85" y2="328.95" stroke="#2d57a0" stroke-width="0.7" />
<circle cx="177.45" cy="328.95" r="0.90" fill="#2d57a0"/>
<text x="182.55" y="330.55" font-size="5.3" textLength="24.20" lengthAdjust="spacingAndGlyphs" fill="#231f20" stroke="#231f20" stroke-width="0.14">HEL92.1.7</text>
<line x1="174.25" y1="335.85" x2="180.85" y2="335.85" stroke="#c41c3c" stroke-width="0.7" />
<circle cx="177.45" cy="335.85" r="0.90" fill="#c41c3c"/>
<text x="182.55" y="337.45" font-size="5.3" textLength="32.40" lengthAdjust="spacingAndGlyphs" fill="#231f20" stroke="#231f20" stroke-width="0.14">HEL-OTX P/R</text>
<path d="M181.78,369.75 L183.01,369.43 L184.24,369.08 L185.47,368.70 L186.71,368.27 L187.94,367.81 L189.17,367.31 L190.40,366.76 L191.63,366.16 L192.86,365.51 L194.10,364.81 L195.33,364.06 L196.56,363.26 L197.79,362.40 L199.02,361.48 L200.25,360.52 L201.49,359.50 L202.72,358.43 L203.95,357.32 L205.18,356.17 L206.41,354.98 L207.65,353.76 L208.88,352.52 L210.11,351.26 L211.34,349.99 L212.57,348.73 L213.80,347.47 L215.04,346.23 L216.27,345.01 L217.50,343.82 L218.73,342.66 L219.96,341.55 L221.19,340.48 L222.43,339.46 L223.66,338.49 L224.89,337.57 L226.12,336.71 L227.35,335.90 L228.58,335.15 L229.82,334.45 L231.05,333.80 L232.28,333.20 L233.51,332.65 L234.74,332.14 L235.97,331.68 L237.21,331.25 L238.44,330.86 L239.67,330.51 L240.90,330.19 L242.13,329.90" stroke="#2d57a0" fill="none" stroke-width="0.9" />
<circle cx="200.50" cy="359.48" r="1.25" fill="#2d57a0"/>
<line x1="213.23" y1="344.81" x2="213.23" y2="353.67" stroke="#2d57a0" stroke-width="0.6" />
<line x1="212.33" y1="344.81" x2="214.13" y2="344.81" stroke="#2d57a0" stroke-width="0.5" />
<line x1="212.33" y1="353.67" x2="214.13" y2="353.67" stroke="#2d57a0" stroke-width="0.5" />
<circle cx="213.23" cy="349.24" r="1.25" fill="#2d57a0"/>
<line x1="222.87" y1="333.82" x2="222.87" y2="343.67" stroke="#2d57a0" stroke-width="0.6" />
<line x1="221.97" y1="333.82" x2="223.77" y2="333.82" stroke="#2d57a0" stroke-width="0.5" />
<line x1="221.97" y1="343.67" x2="223.77" y2="343.67" stroke="#2d57a0" stroke-width="0.5" />
<circle cx="222.87" cy="338.75" r="1.25" fill="#2d57a0"/>
<circle cx="227.54" cy="335.50" r="1.25" fill="#2d57a0"/>
<circle cx="232.50" cy="332.49" r="1.25" fill="#2d57a0"/>
<circle cx="242.13" cy="330.52" r="1.25" fill="#2d57a0"/>
<line x1="171.55" y1="374.31" x2="178.65" y2="374.31" stroke="#2d57a0" stroke-width="0.8" />
<circle cx="200.50" cy="374.55" r="1.25" fill="#c41c3c"/>
<circle cx="213.23" cy="371.99" r="1.25" fill="#c41c3c"/>
<circle cx="222.87" cy="369.48" r="1.25" fill="#c41c3c"/>
<circle cx="227.54" cy="360.76" r="1.25" fill="#c41c3c"/>
<circle cx="232.50" cy="356.33" r="1.25" fill="#c41c3c"/>
<path d="M181.78,376.35 L182.81,376.32 L183.85,376.28 L184.88,376.23 L185.92,376.19 L186.95,376.14 L187.99,376.09 L189.02,376.03 L190.06,375.97 L191.10,375.90 L192.13,375.82 L193.17,375.75 L194.20,375.66 L195.24,375.57 L196.27,375.47 L197.31,375.36 L198.34,375.24 L199.38,375.12 L200.41,374.98 L201.45,374.83 L202.48,374.67 L203.52,374.50 L204.55,374.31 L205.59,374.11 L206.62,373.89 L207.66,373.66 L208.69,373.40 L209.73,373.13 L210.76,372.83 L211.80,372.51 L212.83,372.16 L213.87,371.79 L214.90,371.38 L215.94,370.94 L216.97,370.46 L218.01,369.95 L219.04,369.39 L220.08,368.79 L221.11,368.14 L222.15,367.44 L223.18,366.68 L224.22,365.86 L225.25,364.97 L226.29,364.01 L227.32,362.98 L228.36,361.86 L229.39,360.64 L230.43,359.33 L231.46,357.92 L232.50,356.39" stroke="#c41c3c" fill="none" stroke-width="0.9" />
<line x1="171.55" y1="376.52" x2="178.65" y2="376.52" stroke="#c41c3c" stroke-width="0.8" />
<line x1="47.50" y1="411.50" x2="47.50" y2="466.40" stroke="#231f20" stroke-width="1.1" />
<line x1="44.30" y1="465.00" x2="47.50" y2="465.00" stroke="#231f20" stroke-width="0.75" />
<text x="41.50" y="467.30" font-size="6.4" text-anchor="end" textLength="3.30" lengthAdjust="spacingAndGlyphs" fill="#231f20" stroke="#231f20" stroke-width="0.14">0</text>
<line x1="44.30" y1="454.60" x2="47.50" y2="454.60" stroke="#231f20" stroke-width="0.75" />
<text x="41.50" y="456.90" font-size="6.4" text-anchor="end" textLength="6.60" lengthAdjust="spacingAndGlyphs" fill="#231f20" stroke="#231f20" stroke-width="0.14">20</text>
<line x1="44.30" y1="444.20" x2="47.50" y2="444.20" stroke="#231f20" stroke-width="0.75" />
<text x="41.50" y="446.50" font-size="6.4" text-anchor="end" textLength="6.60" lengthAdjust="spacingAndGlyphs" fill="#231f20" stroke="#231f20" stroke-width="0.14">40</text>
<line x1="44.30" y1="433.80" x2="47.50" y2="433.80" stroke="#231f20" stroke-width="0.75" />
<text x="41.50" y="436.10" font-size="6.4" text-anchor="end" textLength="6.60" lengthAdjust="spacingAndGlyphs" fill="#231f20" stroke="#231f20" stroke-width="0.14">60</text>
<line x1="44.30" y1="423.40" x2="47.50" y2="423.40" stroke="#231f20" stroke-width="0.75" />
<text x="41.50" y="425.70" font-size="6.4" text-anchor="end" textLength="6.60" lengthAdjust="spacingAndGlyphs" fill="#231f20" stroke="#231f20" stroke-width="0.14">80</text>
<line x1="44.30" y1="413.00" x2="47.50" y2="413.00" stroke="#231f20" stroke-width="0.75" />
<text x="41.50" y="415.30" font-size="6.4" text-anchor="end" textLength="9.90" lengthAdjust="spacingAndGlyphs" fill="#231f20" stroke="#231f20" stroke-width="0.14">100</text>
<line x1="47.10" y1="466.00" x2="55.10" y2="466.00" stroke="#151515" stroke-width="1.1" />
<line x1="47.70" y1="466.00" x2="47.70" y2="468.20" stroke="#231f20" stroke-width="0.7" />
<line x1="54.90" y1="466.00" x2="54.90" y2="467.40" stroke="#231f20" stroke-width="0.7" />
<line x1="58.30" y1="466.00" x2="128.00" y2="466.00" stroke="#151515" stroke-width="1.1" />
<line x1="59.26" y1="466.00" x2="59.26" y2="467.30" stroke="#231f20" stroke-width="0.6" />
<line x1="62.61" y1="466.00" x2="62.61" y2="467.30" stroke="#231f20" stroke-width="0.6" />
<line x1="65.20" y1="466.00" x2="65.20" y2="467.30" stroke="#231f20" stroke-width="0.6" />
<line x1="67.32" y1="466.00" x2="67.32" y2="467.30" stroke="#231f20" stroke-width="0.6" />
<line x1="69.11" y1="466.00" x2="69.11" y2="467.30" stroke="#231f20" stroke-width="0.6" />
<line x1="70.66" y1="466.00" x2="70.66" y2="467.30" stroke="#231f20" stroke-width="0.6" />
<line x1="72.03" y1="466.00" x2="72.03" y2="467.30" stroke="#231f20" stroke-width="0.6" />
<line x1="73.25" y1="466.00" x2="73.25" y2="468.20" stroke="#231f20" stroke-width="0.6" />
<line x1="81.30" y1="466.00" x2="81.30" y2="467.30" stroke="#231f20" stroke-width="0.6" />
<line x1="86.01" y1="466.00" x2="86.01" y2="467.30" stroke="#231f20" stroke-width="0.6" />
<line x1="89.36" y1="466.00" x2="89.36" y2="467.30" stroke="#231f20" stroke-width="0.6" />
<line x1="91.95" y1="466.00" x2="91.95" y2="467.30" stroke="#231f20" stroke-width="0.6" />
<line x1="94.07" y1="466.00" x2="94.07" y2="467.30" stroke="#231f20" stroke-width="0.6" />
<line x1="95.86" y1="466.00" x2="95.86" y2="467.30" stroke="#231f20" stroke-width="0.6" />
<line x1="97.41" y1="466.00" x2="97.41" y2="467.30" stroke="#231f20" stroke-width="0.6" />
<line x1="98.78" y1="466.00" x2="98.78" y2="467.30" stroke="#231f20" stroke-width="0.6" />
<line x1="100.00" y1="466.00" x2="100.00" y2="468.20" stroke="#231f20" stroke-width="0.6" />
<line x1="108.05" y1="466.00" x2="108.05" y2="467.30" stroke="#231f20" stroke-width="0.6" />
<line x1="112.76" y1="466.00" x2="112.76" y2="467.30" stroke="#231f20" stroke-width="0.6" />
<line x1="116.11" y1="466.00" x2="116.11" y2="467.30" stroke="#231f20" stroke-width="0.6" />
<line x1="118.70" y1="466.00" x2="118.70" y2="467.30" stroke="#231f20" stroke-width="0.6" />
<line x1="120.82" y1="466.00" x2="120.82" y2="467.30" stroke="#231f20" stroke-width="0.6" />
<line x1="122.61" y1="466.00" x2="122.61" y2="467.30" stroke="#231f20" stroke-width="0.6" />
<line x1="124.16" y1="466.00" x2="124.16" y2="467.30" stroke="#231f20" stroke-width="0.6" />
<line x1="125.53" y1="466.00" x2="125.53" y2="467.30" stroke="#231f20" stroke-width="0.6" />
<line x1="126.75" y1="466.00" x2="126.75" y2="468.20" stroke="#231f20" stroke-width="0.6" />
<text x="47.80" y="476.55" font-size="6.4" text-anchor="middle" textLength="3.30" lengthAdjust="spacingAndGlyphs" fill="#231f20" stroke="#231f20" stroke-width="0.14">0</text>
<text x="59.26" y="476.55" font-size="6.4" text-anchor="middle" textLength="3.30" lengthAdjust="spacingAndGlyphs" fill="#231f20" stroke="#231f20" stroke-width="0.14">3</text>
<text x="73.25" y="476.55" font-size="6.4" text-anchor="middle" textLength="6.60" lengthAdjust="spacingAndGlyphs" fill="#231f20" stroke="#231f20" stroke-width="0.14">10</text>
<text x="86.01" y="476.55" font-size="6.4" text-anchor="middle" textLength="6.60" lengthAdjust="spacingAndGlyphs" fill="#231f20" stroke="#231f20" stroke-width="0.14">30</text>
<text x="100.00" y="476.55" font-size="6.4" text-anchor="middle" textLength="9.90" lengthAdjust="spacingAndGlyphs" fill="#231f20" stroke="#231f20" stroke-width="0.14">100</text>
<text x="112.76" y="476.55" font-size="6.4" text-anchor="middle" textLength="9.90" lengthAdjust="spacingAndGlyphs" fill="#231f20" stroke="#231f20" stroke-width="0.14">300</text>
<text x="126.75" y="476.55" font-size="6.4" text-anchor="middle" textLength="13.20" lengthAdjust="spacingAndGlyphs" fill="#231f20" stroke="#231f20" stroke-width="0.14">1000</text>
<text x="91.00" y="487.40" font-size="8.4" text-anchor="middle" textLength="64.20" lengthAdjust="spacingAndGlyphs" fill="#231f20" stroke="#231f20" stroke-width="0.14">nM, ABBV-075, 48 hrs</text>
<text x="26.00" y="453.20" font-size="8.2" textLength="34.90" lengthAdjust="spacingAndGlyphs" fill="#231f20" stroke="#231f20" stroke-width="0.14" transform="rotate(-90 26.00 453.20)">% apoptosis</text>
<line x1="50.50" y1="413.20" x2="57.10" y2="413.20" stroke="#2d57a0" stroke-width="0.7" />
<circle cx="53.70" cy="413.20" r="0.90" fill="#2d57a0"/>
<text x="58.80" y="414.80" font-size="5.3" textLength="13.00" lengthAdjust="spacingAndGlyphs" fill="#231f20" stroke="#231f20" stroke-width="0.14">SET-2</text>
<line x1="50.50" y1="420.10" x2="57.10" y2="420.10" stroke="#c41c3c" stroke-width="0.7" />
<circle cx="53.70" cy="420.10" r="0.90" fill="#c41c3c"/>
<text x="58.80" y="421.70" font-size="5.3" textLength="36.00" lengthAdjust="spacingAndGlyphs" fill="#231f20" stroke="#231f20" stroke-width="0.14">SET-2-OTX P/R</text>
<line x1="110.64" y1="419.76" x2="110.64" y2="422.88" stroke="#2d57a0" stroke-width="0.6" />
<line x1="109.74" y1="419.76" x2="111.54" y2="419.76" stroke="#2d57a0" stroke-width="0.5" />
<line x1="109.74" y1="422.88" x2="111.54" y2="422.88" stroke="#2d57a0" stroke-width="0.5" />
<circle cx="110.64" cy="421.32" r="1.25" fill="#2d57a0"/>
<circle cx="118.70" cy="422.36" r="1.25" fill="#2d57a0"/>
<circle cx="126.75" cy="421.32" r="1.25" fill="#2d57a0"/>
<path d="M59.26,454.41 L60.64,453.84 L62.02,453.21 L63.39,452.49 L64.77,451.70 L66.15,450.82 L67.53,449.86 L68.90,448.81 L70.28,447.69 L71.66,446.48 L73.04,445.21 L74.41,443.87 L75.79,442.50 L77.17,441.09 L78.54,439.67 L79.92,438.25 L81.30,436.86 L82.68,435.50 L84.05,434.19 L85.43,432.95 L86.81,431.78 L88.19,430.69 L89.56,429.69 L90.94,428.76 L92.32,427.93 L93.70,427.17 L95.07,426.50 L96.45,425.90 L97.83,425.36 L99.20,424.89 L100.58,424.48 L101.96,424.12 L103.34,423.80 L104.71,423.53 L106.09,423.29 L107.47,423.08 L108.85,422.91 L110.22,422.75 L111.60,422.62 L112.98,422.50 L114.35,422.41 L115.73,422.32 L117.11,422.25 L118.49,422.19 L119.86,422.13 L121.24,422.09 L122.62,422.05 L124.00,422.01 L125.37,421.98 L126.75,421.96" stroke="#2d57a0" fill="none" stroke-width="0.9" />
<circle cx="65.20" cy="450.75" r="1.25" fill="#2d57a0"/>
<circle cx="73.25" cy="444.25" r="1.25" fill="#2d57a0"/>
<circle cx="83.89" cy="436.24" r="1.25" fill="#2d57a0"/>
<line x1="91.95" y1="424.96" x2="91.95" y2="429.12" stroke="#2d57a0" stroke-width="0.6" />
<line x1="91.05" y1="424.96" x2="92.85" y2="424.96" stroke="#2d57a0" stroke-width="0.5" />
<line x1="91.05" y1="429.12" x2="92.85" y2="429.12" stroke="#2d57a0" stroke-width="0.5" />
<circle cx="91.95" cy="427.04" r="1.25" fill="#2d57a0"/>
<circle cx="100.00" cy="423.76" r="1.25" fill="#2d57a0"/>
<line x1="47.80" y1="459.49" x2="54.90" y2="459.49" stroke="#2d57a0" stroke-width="0.8" />
<path d="M59.26,460.62 L60.64,460.58 L62.02,460.53 L63.39,460.48 L64.77,460.41 L66.15,460.34 L67.53,460.26 L68.90,460.16 L70.28,460.06 L71.66,459.94 L73.04,459.80 L74.41,459.65 L75.79,459.47 L77.17,459.28 L78.54,459.06 L79.92,458.81 L81.30,458.53 L82.68,458.21 L84.05,457.86 L85.43,457.47 L86.81,457.04 L88.19,456.56 L89.56,456.03 L90.94,455.44 L92.32,454.80 L93.70,454.11 L95.07,453.36 L96.45,452.55 L97.83,451.68 L99.20,450.76 L100.58,449.78 L101.96,448.76 L103.34,447.70 L104.71,446.61 L106.09,445.49 L107.47,444.36 L108.85,443.23 L110.22,442.09 L111.60,440.98 L112.98,439.88 L114.35,438.82 L115.73,437.80 L117.11,436.82 L118.49,435.90 L119.86,435.02 L121.24,434.21 L122.62,433.45 L124.00,432.75 L125.37,432.11 L126.75,431.52" stroke="#c41c3c" fill="none" stroke-width="0.9" />
<circle cx="65.20" cy="460.53" r="1.25" fill="#c41c3c"/>
<circle cx="73.25" cy="459.49" r="1.25" fill="#c41c3c"/>
<circle cx="83.89" cy="458.24" r="1.25" fill="#c41c3c"/>
<circle cx="91.95" cy="455.02" r="1.25" fill="#c41c3c"/>
<circle cx="100.00" cy="449.50" r="1.25" fill="#c41c3c"/>
<line x1="110.64" y1="441.44" x2="110.64" y2="444.56" stroke="#c41c3c" stroke-width="0.6" />
<line x1="109.74" y1="441.44" x2="111.54" y2="441.44" stroke="#c41c3c" stroke-width="0.5" />
<line x1="109.74" y1="444.56" x2="111.54" y2="444.56" stroke="#c41c3c" stroke-width="0.5" />
<circle cx="110.64" cy="443.00" r="1.25" fill="#c41c3c"/>
<circle cx="118.70" cy="434.53" r="1.25" fill="#c41c3c"/>
<circle cx="126.75" cy="431.98" r="1.25" fill="#c41c3c"/>
<line x1="47.80" y1="461.78" x2="54.90" y2="461.78" stroke="#c41c3c" stroke-width="0.8" />
<line x1="170.75" y1="411.50" x2="170.75" y2="466.40" stroke="#231f20" stroke-width="1.1" />
<line x1="167.55" y1="465.00" x2="170.75" y2="465.00" stroke="#231f20" stroke-width="0.75" />
<text x="164.75" y="467.30" font-size="6.4" text-anchor="end" textLength="3.30" lengthAdjust="spacingAndGlyphs" fill="#231f20" stroke="#231f20" stroke-width="0.14">0</text>
<line x1="167.55" y1="454.60" x2="170.75" y2="454.60" stroke="#231f20" stroke-width="0.75" />
<text x="164.75" y="456.90" font-size="6.4" text-anchor="end" textLength="6.60" lengthAdjust="spacingAndGlyphs" fill="#231f20" stroke="#231f20" stroke-width="0.14">20</text>
<line x1="167.55" y1="444.20" x2="170.75" y2="444.20" stroke="#231f20" stroke-width="0.75" />
<text x="164.75" y="446.50" font-size="6.4" text-anchor="end" textLength="6.60" lengthAdjust="spacingAndGlyphs" fill="#231f20" stroke="#231f20" stroke-width="0.14">40</text>
<line x1="167.55" y1="433.80" x2="170.75" y2="433.80" stroke="#231f20" stroke-width="0.75" />
<text x="164.75" y="436.10" font-size="6.4" text-anchor="end" textLength="6.60" lengthAdjust="spacingAndGlyphs" fill="#231f20" stroke="#231f20" stroke-width="0.14">60</text>
<line x1="167.55" y1="423.40" x2="170.75" y2="423.40" stroke="#231f20" stroke-width="0.75" />
<text x="164.75" y="425.70" font-size="6.4" text-anchor="end" textLength="6.60" lengthAdjust="spacingAndGlyphs" fill="#231f20" stroke="#231f20" stroke-width="0.14">80</text>
<line x1="167.55" y1="413.00" x2="170.75" y2="413.00" stroke="#231f20" stroke-width="0.75" />
<text x="164.75" y="415.30" font-size="6.4" text-anchor="end" textLength="9.90" lengthAdjust="spacingAndGlyphs" fill="#231f20" stroke="#231f20" stroke-width="0.14">100</text>
<line x1="170.35" y1="466.00" x2="178.35" y2="466.00" stroke="#151515" stroke-width="1.1" />
<line x1="170.95" y1="466.00" x2="170.95" y2="468.20" stroke="#231f20" stroke-width="0.7" />
<line x1="178.15" y1="466.00" x2="178.15" y2="467.40" stroke="#231f20" stroke-width="0.7" />
<line x1="182.00" y1="466.00" x2="253.75" y2="466.00" stroke="#151515" stroke-width="1.1" />
<line x1="182.86" y1="466.00" x2="182.86" y2="467.30" stroke="#231f20" stroke-width="0.6" />
<line x1="186.06" y1="466.00" x2="186.06" y2="467.30" stroke="#231f20" stroke-width="0.6" />
<line x1="188.54" y1="466.00" x2="188.54" y2="467.30" stroke="#231f20" stroke-width="0.6" />
<line x1="190.57" y1="466.00" x2="190.57" y2="467.30" stroke="#231f20" stroke-width="0.6" />
<line x1="192.28" y1="466.00" x2="192.28" y2="467.30" stroke="#231f20" stroke-width="0.6" />
<line x1="193.77" y1="466.00" x2="193.77" y2="467.30" stroke="#231f20" stroke-width="0.6" />
<line x1="195.08" y1="466.00" x2="195.08" y2="467.30" stroke="#231f20" stroke-width="0.6" />
<line x1="196.25" y1="466.00" x2="196.25" y2="468.20" stroke="#231f20" stroke-width="0.6" />
<line x1="203.96" y1="466.00" x2="203.96" y2="467.30" stroke="#231f20" stroke-width="0.6" />
<line x1="208.46" y1="466.00" x2="208.46" y2="467.30" stroke="#231f20" stroke-width="0.6" />
<line x1="211.66" y1="466.00" x2="211.66" y2="467.30" stroke="#231f20" stroke-width="0.6" />
<line x1="214.14" y1="466.00" x2="214.14" y2="467.30" stroke="#231f20" stroke-width="0.6" />
<line x1="216.17" y1="466.00" x2="216.17" y2="467.30" stroke="#231f20" stroke-width="0.6" />
<line x1="217.88" y1="466.00" x2="217.88" y2="467.30" stroke="#231f20" stroke-width="0.6" />
<line x1="219.37" y1="466.00" x2="219.37" y2="467.30" stroke="#231f20" stroke-width="0.6" />
<line x1="220.68" y1="466.00" x2="220.68" y2="467.30" stroke="#231f20" stroke-width="0.6" />
<line x1="221.85" y1="466.00" x2="221.85" y2="468.20" stroke="#231f20" stroke-width="0.6" />
<line x1="229.56" y1="466.00" x2="229.56" y2="467.30" stroke="#231f20" stroke-width="0.6" />
<line x1="234.06" y1="466.00" x2="234.06" y2="467.30" stroke="#231f20" stroke-width="0.6" />
<line x1="237.26" y1="466.00" x2="237.26" y2="467.30" stroke="#231f20" stroke-width="0.6" />
<line x1="239.74" y1="466.00" x2="239.74" y2="467.30" stroke="#231f20" stroke-width="0.6" />
<line x1="241.77" y1="466.00" x2="241.77" y2="467.30" stroke="#231f20" stroke-width="0.6" />
<line x1="243.48" y1="466.00" x2="243.48" y2="467.30" stroke="#231f20" stroke-width="0.6" />
<line x1="244.97" y1="466.00" x2="244.97" y2="467.30" stroke="#231f20" stroke-width="0.6" />
<line x1="246.28" y1="466.00" x2="246.28" y2="467.30" stroke="#231f20" stroke-width="0.6" />
<line x1="247.45" y1="466.00" x2="247.45" y2="468.20" stroke="#231f20" stroke-width="0.6" />
<text x="171.05" y="476.55" font-size="6.4" text-anchor="middle" textLength="3.30" lengthAdjust="spacingAndGlyphs" fill="#231f20" stroke="#231f20" stroke-width="0.14">0</text>
<text x="196.25" y="476.55" font-size="6.4" text-anchor="middle" textLength="6.60" lengthAdjust="spacingAndGlyphs" fill="#231f20" stroke="#231f20" stroke-width="0.14">10</text>
<text x="208.46" y="476.55" font-size="6.4" text-anchor="middle" textLength="6.60" lengthAdjust="spacingAndGlyphs" fill="#231f20" stroke="#231f20" stroke-width="0.14">30</text>
<text x="221.85" y="476.55" font-size="6.4" text-anchor="middle" textLength="9.90" lengthAdjust="spacingAndGlyphs" fill="#231f20" stroke="#231f20" stroke-width="0.14">100</text>
<text x="234.06" y="476.55" font-size="6.4" text-anchor="middle" textLength="9.90" lengthAdjust="spacingAndGlyphs" fill="#231f20" stroke="#231f20" stroke-width="0.14">300</text>
<text x="247.45" y="476.55" font-size="6.4" text-anchor="middle" textLength="13.20" lengthAdjust="spacingAndGlyphs" fill="#231f20" stroke="#231f20" stroke-width="0.14">1000</text>
<text x="214.60" y="487.40" font-size="8.4" text-anchor="middle" textLength="64.20" lengthAdjust="spacingAndGlyphs" fill="#231f20" stroke="#231f20" stroke-width="0.14">nM, ABBV-075, 48 hrs</text>
<text x="149.80" y="453.20" font-size="8.2" textLength="34.90" lengthAdjust="spacingAndGlyphs" fill="#231f20" stroke="#231f20" stroke-width="0.14" transform="rotate(-90 149.80 453.20)">% apoptosis</text>
<line x1="173.75" y1="413.20" x2="180.35" y2="413.20" stroke="#2d57a0" stroke-width="0.7" />
<circle cx="176.95" cy="413.20" r="0.90" fill="#2d57a0"/>
<text x="182.05" y="414.80" font-size="5.3" textLength="24.20" lengthAdjust="spacingAndGlyphs" fill="#231f20" stroke="#231f20" stroke-width="0.14">HEL92.1.7</text>
<line x1="173.75" y1="420.10" x2="180.35" y2="420.10" stroke="#c41c3c" stroke-width="0.7" />
<circle cx="176.95" cy="420.10" r="0.90" fill="#c41c3c"/>
<text x="182.05" y="421.70" font-size="5.3" textLength="32.40" lengthAdjust="spacingAndGlyphs" fill="#231f20" stroke="#231f20" stroke-width="0.14">HEL-OTX P/R</text>
<path d="M186.06,457.69 L187.16,457.12 L188.25,456.52 L189.35,455.88 L190.44,455.19 L191.54,454.46 L192.64,453.69 L193.73,452.87 L194.83,452.02 L195.92,451.13 L197.02,450.21 L198.11,449.25 L199.21,448.27 L200.30,447.26 L201.40,446.24 L202.50,445.20 L203.59,444.16 L204.69,443.12 L205.78,442.08 L206.88,441.05 L207.97,440.04 L209.07,439.05 L210.16,438.09 L211.26,437.16 L212.36,436.26 L213.45,435.40 L214.55,434.57 L215.64,433.79 L216.74,433.05 L217.83,432.35 L218.93,431.69 L220.02,431.08 L221.12,430.51 L222.22,429.97 L223.31,429.48 L224.41,429.02 L225.50,428.60 L226.60,428.21 L227.69,427.86 L228.79,427.53 L229.88,427.23 L230.98,426.96 L232.07,426.71 L233.17,426.48 L234.27,426.28 L235.36,426.09 L236.46,425.92 L237.55,425.76 L238.65,425.62 L239.74,425.49" stroke="#2d57a0" fill="none" stroke-width="0.9" />
<line x1="190.57" y1="453.56" x2="190.57" y2="456.68" stroke="#2d57a0" stroke-width="0.6" />
<line x1="189.67" y1="453.56" x2="191.47" y2="453.56" stroke="#2d57a0" stroke-width="0.5" />
<line x1="189.67" y1="456.68" x2="191.47" y2="456.68" stroke="#2d57a0" stroke-width="0.5" />
<circle cx="190.57" cy="455.12" r="1.25" fill="#2d57a0"/>
<line x1="196.25" y1="448.46" x2="196.25" y2="451.58" stroke="#2d57a0" stroke-width="0.6" />
<line x1="195.35" y1="448.46" x2="197.15" y2="448.46" stroke="#2d57a0" stroke-width="0.5" />
<line x1="195.35" y1="451.58" x2="197.15" y2="451.58" stroke="#2d57a0" stroke-width="0.5" />
<circle cx="196.25" cy="450.02" r="1.25" fill="#2d57a0"/>
<circle cx="206.44" cy="442.48" r="1.25" fill="#2d57a0"/>
<circle cx="214.14" cy="434.48" r="1.25" fill="#2d57a0"/>
<circle cx="221.85" cy="430.00" r="1.25" fill="#2d57a0"/>
<circle cx="232.04" cy="426.26" r="1.25" fill="#2d57a0"/>
<line x1="171.05" y1="460.53" x2="178.15" y2="460.53" stroke="#2d57a0" stroke-width="0.8" />
<path d="M186.06,457.84 L187.16,457.77 L188.25,457.70 L189.35,457.62 L190.44,457.53 L191.54,457.44 L192.64,457.35 L193.73,457.24 L194.83,457.14 L195.92,457.02 L197.02,456.90 L198.11,456.77 L199.21,456.63 L200.30,456.48 L201.40,456.33 L202.50,456.16 L203.59,455.98 L204.69,455.80 L205.78,455.60 L206.88,455.38 L207.97,455.16 L209.07,454.92 L210.16,454.66 L211.26,454.39 L212.36,454.10 L213.45,453.79 L214.55,453.47 L215.64,453.12 L216.74,452.75 L217.83,452.36 L218.93,451.94 L220.02,451.50 L221.12,451.02 L222.22,450.52 L223.31,449.99 L224.41,449.42 L225.50,448.82 L226.60,448.18 L227.69,447.49 L228.79,446.77 L229.88,446.00 L230.98,445.18 L232.07,444.31 L233.17,443.38 L234.27,442.39 L235.36,441.34 L236.46,440.23 L237.55,439.04 L238.65,437.78 L239.74,436.44" stroke="#c41c3c" fill="none" stroke-width="0.9" />
<circle cx="190.57" cy="458.50" r="1.25" fill="#c41c3c"/>
<circle cx="196.25" cy="457.51" r="1.25" fill="#c41c3c"/>
<line x1="206.44" y1="454.08" x2="206.44" y2="456.16" stroke="#c41c3c" stroke-width="0.6" />
<line x1="205.54" y1="454.08" x2="207.34" y2="454.08" stroke="#c41c3c" stroke-width="0.5" />
<line x1="205.54" y1="456.16" x2="207.34" y2="456.16" stroke="#c41c3c" stroke-width="0.5" />
<circle cx="206.44" cy="455.12" r="1.25" fill="#c41c3c"/>
<circle cx="214.14" cy="451.27" r="1.25" fill="#c41c3c"/>
<circle cx="221.85" cy="449.50" r="1.25" fill="#c41c3c"/>
<line x1="232.04" y1="446.44" x2="232.04" y2="449.56" stroke="#c41c3c" stroke-width="0.6" />
<line x1="231.14" y1="446.44" x2="232.94" y2="446.44" stroke="#c41c3c" stroke-width="0.5" />
<line x1="231.14" y1="449.56" x2="232.94" y2="449.56" stroke="#c41c3c" stroke-width="0.5" />
<circle cx="232.04" cy="448.00" r="1.25" fill="#c41c3c"/>
<circle cx="239.74" cy="435.00" r="1.25" fill="#c41c3c"/>
<line x1="171.05" y1="457.98" x2="178.15" y2="457.98" stroke="#c41c3c" stroke-width="0.8" />
<line x1="239.74" y1="420.80" x2="239.74" y2="424.96" stroke="#2d57a0" stroke-width="0.6" />
<line x1="238.84" y1="420.80" x2="240.64" y2="420.80" stroke="#2d57a0" stroke-width="0.5" />
<line x1="238.84" y1="424.96" x2="240.64" y2="424.96" stroke="#2d57a0" stroke-width="0.5" />
<circle cx="239.74" cy="422.98" r="1.00" fill="#2d57a0"/>
<text x="279.30" y="171.80" font-size="11.5" textLength="6.40" lengthAdjust="spacingAndGlyphs" fill="#000" font-weight="bold">E</text>
<rect x="305.90" y="178.50" width="3.80" height="3.80" fill="#c2152f" />
<text x="313.70" y="182.40" font-size="5.6" textLength="13.60" lengthAdjust="spacingAndGlyphs" fill="#231f20" stroke="#231f20" stroke-width="0.14">BRD4</text>
<rect x="305.90" y="184.20" width="3.80" height="3.80" fill="#5fac3e" />
<text x="313.70" y="188.10" font-size="5.6" textLength="18.80" lengthAdjust="spacingAndGlyphs" fill="#231f20" stroke="#231f20" stroke-width="0.14">TCF7L2</text>
<rect x="305.90" y="189.90" width="3.80" height="3.80" fill="#5cade6" />
<text x="313.70" y="193.80" font-size="5.6" textLength="15.30" lengthAdjust="spacingAndGlyphs" fill="#231f20" stroke="#231f20" stroke-width="0.14">JMJD6</text>
<rect x="339.60" y="178.50" width="3.80" height="3.80" fill="#9487cf" />
<text x="347.40" y="182.40" font-size="5.6" textLength="10.40" lengthAdjust="spacingAndGlyphs" fill="#231f20" stroke="#231f20" stroke-width="0.14">PU.1</text>
<rect x="339.60" y="184.20" width="3.80" height="3.80" fill="#f4c01c" />
<text x="347.40" y="188.10" font-size="5.6" textLength="11.30" lengthAdjust="spacingAndGlyphs" fill="#231f20" stroke="#231f20" stroke-width="0.14">MYC</text>
<rect x="339.60" y="189.90" width="3.80" height="3.80" fill="#e98b1c" />
<text x="347.40" y="193.80" font-size="5.6" textLength="10.20" lengthAdjust="spacingAndGlyphs" fill="#231f20" stroke="#231f20" stroke-width="0.14">MYB</text>
<rect x="364.70" y="178.50" width="3.80" height="3.80" fill="#1d6445" />
<text x="372.50" y="182.40" font-size="5.6" textLength="10.80" lengthAdjust="spacingAndGlyphs" fill="#231f20" stroke="#231f20" stroke-width="0.14">PIM1</text>
<rect x="364.70" y="184.20" width="3.80" height="3.80" fill="#a9c083" />
<text x="372.50" y="188.10" font-size="5.6" textLength="14.20" lengthAdjust="spacingAndGlyphs" fill="#231f20" stroke="#231f20" stroke-width="0.14">Bcl-xL</text>
<rect x="364.70" y="189.90" width="3.80" height="3.80" fill="#1e3f87" />
<text x="372.50" y="193.80" font-size="5.6" textLength="12.50" lengthAdjust="spacingAndGlyphs" fill="#231f20" stroke="#231f20" stroke-width="0.14">Mcl-1</text>
<rect x="423.30" y="178.50" width="3.80" height="3.80" fill="#c2152f" />
<text x="431.10" y="182.40" font-size="5.6" textLength="13.60" lengthAdjust="spacingAndGlyphs" fill="#231f20" stroke="#231f20" stroke-width="0.14">BRD4</text>
<rect x="423.30" y="184.20" width="3.80" height="3.80" fill="#5fac3e" />
<text x="431.10" y="188.10" font-size="5.6" textLength="18.80" lengthAdjust="spacingAndGlyphs" fill="#231f20" stroke="#231f20" stroke-width="0.14">TCF7L2</text>
<rect x="423.30" y="189.90" width="3.80" height="3.80" fill="#5cade6" />
<text x="431.10" y="193.80" font-size="5.6" textLength="15.30" lengthAdjust="spacingAndGlyphs" fill="#231f20" stroke="#231f20" stroke-width="0.14">JMJD6</text>
<rect x="455.80" y="178.50" width="3.80" height="3.80" fill="#9487cf" />
<text x="463.60" y="182.40" font-size="5.6" textLength="10.40" lengthAdjust="spacingAndGlyphs" fill="#231f20" stroke="#231f20" stroke-width="0.14">PU.1</text>
<rect x="455.80" y="184.20" width="3.80" height="3.80" fill="#f4c01c" />
<text x="463.60" y="188.10" font-size="5.6" textLength="11.30" lengthAdjust="spacingAndGlyphs" fill="#231f20" stroke="#231f20" stroke-width="0.14">MYC</text>
<rect x="455.80" y="189.90" width="3.80" height="3.80" fill="#e98b1c" />
<text x="463.60" y="193.80" font-size="5.6" textLength="10.20" lengthAdjust="spacingAndGlyphs" fill="#231f20" stroke="#231f20" stroke-width="0.14">MYB</text>
<rect x="480.40" y="178.50" width="3.80" height="3.80" fill="#1d6445" />
<text x="488.20" y="182.40" font-size="5.6" textLength="10.80" lengthAdjust="spacingAndGlyphs" fill="#231f20" stroke="#231f20" stroke-width="0.14">PIM1</text>
<rect x="480.40" y="184.20" width="3.80" height="3.80" fill="#a9c083" />
<text x="488.20" y="188.10" font-size="5.6" textLength="14.20" lengthAdjust="spacingAndGlyphs" fill="#231f20" stroke="#231f20" stroke-width="0.14">Bcl-xL</text>
<rect x="480.40" y="189.90" width="3.80" height="3.80" fill="#1e3f87" />
<text x="488.20" y="193.80" font-size="5.6" textLength="12.50" lengthAdjust="spacingAndGlyphs" fill="#231f20" stroke="#231f20" stroke-width="0.14">Mcl-1</text>
<line x1="315.40" y1="201.70" x2="315.40" y2="281.70" stroke="#111" stroke-width="1.1" />
<line x1="314.90" y1="281.20" x2="376.90" y2="281.20" stroke="#111" stroke-width="1.1" />
<line x1="312.20" y1="281.20" x2="315.40" y2="281.20" stroke="#231f20" stroke-width="0.8" />
<text x="309.40" y="283.50" font-size="6.5" text-anchor="end" textLength="8.50" lengthAdjust="spacingAndGlyphs" fill="#231f20" stroke="#231f20" stroke-width="0.14">1.0</text>
<line x1="312.20" y1="265.60" x2="315.40" y2="265.60" stroke="#231f20" stroke-width="0.8" />
<text x="309.40" y="267.90" font-size="6.5" text-anchor="end" textLength="8.50" lengthAdjust="spacingAndGlyphs" fill="#231f20" stroke="#231f20" stroke-width="0.14">1.2</text>
<line x1="312.20" y1="250.00" x2="315.40" y2="250.00" stroke="#231f20" stroke-width="0.8" />
<text x="309.40" y="252.30" font-size="6.5" text-anchor="end" textLength="8.50" lengthAdjust="spacingAndGlyphs" fill="#231f20" stroke="#231f20" stroke-width="0.14">1.4</text>
<line x1="312.20" y1="234.40" x2="315.40" y2="234.40" stroke="#231f20" stroke-width="0.8" />
<text x="309.40" y="236.70" font-size="6.5" text-anchor="end" textLength="8.50" lengthAdjust="spacingAndGlyphs" fill="#231f20" stroke="#231f20" stroke-width="0.14">1.6</text>
<line x1="312.20" y1="218.80" x2="315.40" y2="218.80" stroke="#231f20" stroke-width="0.8" />
<text x="309.40" y="221.10" font-size="6.5" text-anchor="end" textLength="8.50" lengthAdjust="spacingAndGlyphs" fill="#231f20" stroke="#231f20" stroke-width="0.14">1.8</text>
<line x1="312.20" y1="203.20" x2="315.40" y2="203.20" stroke="#231f20" stroke-width="0.8" />
<text x="309.40" y="205.50" font-size="6.5" text-anchor="end" textLength="8.50" lengthAdjust="spacingAndGlyphs" fill="#231f20" stroke="#231f20" stroke-width="0.14">2.0</text>
<line x1="320.75" y1="267.55" x2="320.75" y2="268.88" stroke="#151515" stroke-width="0.7" />
<line x1="319.75" y1="267.55" x2="321.75" y2="267.55" stroke="#151515" stroke-width="0.7" />
<rect x="318.80" y="268.88" width="3.90" height="12.32" fill="#c2152f" />
<line x1="327.05" y1="234.40" x2="327.05" y2="241.97" stroke="#151515" stroke-width="0.7" />
<line x1="326.05" y1="234.40" x2="328.05" y2="234.40" stroke="#151515" stroke-width="0.7" />
<rect x="325.10" y="241.97" width="3.90" height="39.23" fill="#5fac3e" />
<text x="327.05" y="233.20" font-size="6.6" text-anchor="middle" textLength="3.00" lengthAdjust="spacingAndGlyphs" fill="#231f20" stroke="#231f20" stroke-width="0.14">†</text>
<line x1="333.15" y1="234.40" x2="333.15" y2="245.79" stroke="#151515" stroke-width="0.7" />
<line x1="332.15" y1="234.40" x2="334.15" y2="234.40" stroke="#151515" stroke-width="0.7" />
<rect x="331.20" y="245.79" width="3.90" height="35.41" fill="#5cade6" />
<text x="333.15" y="233.40" font-size="6.5" text-anchor="middle" textLength="2.60" lengthAdjust="spacingAndGlyphs" fill="#231f20" stroke="#231f20" stroke-width="0.14">*</text>
<line x1="339.65" y1="226.60" x2="339.65" y2="231.67" stroke="#151515" stroke-width="0.7" />
<line x1="338.65" y1="226.60" x2="340.65" y2="226.60" stroke="#151515" stroke-width="0.7" />
<rect x="337.70" y="231.67" width="3.90" height="49.53" fill="#9487cf" />
<text x="339.65" y="225.40" font-size="6.6" text-anchor="middle" textLength="3.00" lengthAdjust="spacingAndGlyphs" fill="#231f20" stroke="#231f20" stroke-width="0.14">†</text>
<line x1="346.15" y1="247.66" x2="346.15" y2="252.89" stroke="#151515" stroke-width="0.7" />
<line x1="345.15" y1="247.66" x2="347.15" y2="247.66" stroke="#151515" stroke-width="0.7" />
<rect x="344.20" y="252.89" width="3.90" height="28.31" fill="#f4c01c" />
<text x="346.15" y="246.46" font-size="6.6" text-anchor="middle" textLength="3.00" lengthAdjust="spacingAndGlyphs" fill="#231f20" stroke="#231f20" stroke-width="0.14">†</text>
<line x1="352.25" y1="264.04" x2="352.25" y2="267.16" stroke="#151515" stroke-width="0.7" />
<line x1="351.25" y1="264.04" x2="353.25" y2="264.04" stroke="#151515" stroke-width="0.7" />
<rect x="350.30" y="267.16" width="3.90" height="14.04" fill="#e98b1c" />
<text x="352.25" y="263.04" font-size="6.5" text-anchor="middle" textLength="2.60" lengthAdjust="spacingAndGlyphs" fill="#231f20" stroke="#231f20" stroke-width="0.14">*</text>
<line x1="358.85" y1="246.10" x2="358.85" y2="260.53" stroke="#151515" stroke-width="0.7" />
<line x1="357.85" y1="246.10" x2="359.85" y2="246.10" stroke="#151515" stroke-width="0.7" />
<rect x="356.90" y="260.53" width="3.90" height="20.67" fill="#1d6445" />
<line x1="365.05" y1="245.71" x2="365.05" y2="249.69" stroke="#151515" stroke-width="0.7" />
<line x1="364.05" y1="245.71" x2="366.05" y2="245.71" stroke="#151515" stroke-width="0.7" />
<rect x="363.10" y="249.69" width="3.90" height="31.51" fill="#a9c083" />
<text x="365.05" y="244.51" font-size="6.6" text-anchor="middle" textLength="3.00" lengthAdjust="spacingAndGlyphs" fill="#231f20" stroke="#231f20" stroke-width="0.14">†</text>
<line x1="371.45" y1="256.24" x2="371.45" y2="259.75" stroke="#151515" stroke-width="0.7" />
<line x1="370.45" y1="256.24" x2="372.45" y2="256.24" stroke="#151515" stroke-width="0.7" />
<rect x="369.50" y="259.75" width="3.90" height="21.45" fill="#1e3f87" />
<text x="371.45" y="255.24" font-size="6.5" text-anchor="middle" textLength="2.60" lengthAdjust="spacingAndGlyphs" fill="#231f20" stroke="#231f20" stroke-width="0.14">*</text>
<text x="285.30" y="285.60" font-size="8.8" textLength="89.30" lengthAdjust="spacingAndGlyphs" fill="#231f20" stroke="#231f20" stroke-width="0.14" transform="rotate(-90 285.30 285.60)">% increase (mRNA expression)</text>
<text x="296.30" y="275.90" font-size="8.6" textLength="69.90" lengthAdjust="spacingAndGlyphs" fill="#231f20" stroke="#231f20" stroke-width="0.14" transform="rotate(-90 296.30 275.90)">SET2- OTX P/R over SET2</text>
<line x1="432.00" y1="205.68" x2="432.00" y2="280.90" stroke="#111" stroke-width="1.1" />
<line x1="431.50" y1="280.40" x2="493.80" y2="280.40" stroke="#111" stroke-width="1.1" />
<line x1="428.80" y1="280.40" x2="432.00" y2="280.40" stroke="#231f20" stroke-width="0.8" />
<text x="426.00" y="282.70" font-size="6.5" text-anchor="end" textLength="8.50" lengthAdjust="spacingAndGlyphs" fill="#231f20" stroke="#231f20" stroke-width="0.14">1.0</text>
<line x1="428.80" y1="269.94" x2="432.00" y2="269.94" stroke="#231f20" stroke-width="0.8" />
<text x="426.00" y="272.24" font-size="6.5" text-anchor="end" textLength="8.50" lengthAdjust="spacingAndGlyphs" fill="#231f20" stroke="#231f20" stroke-width="0.14">1.2</text>
<line x1="428.80" y1="259.48" x2="432.00" y2="259.48" stroke="#231f20" stroke-width="0.8" />
<text x="426.00" y="261.78" font-size="6.5" text-anchor="end" textLength="8.50" lengthAdjust="spacingAndGlyphs" fill="#231f20" stroke="#231f20" stroke-width="0.14">1.4</text>
<line x1="428.80" y1="249.02" x2="432.00" y2="249.02" stroke="#231f20" stroke-width="0.8" />
<text x="426.00" y="251.32" font-size="6.5" text-anchor="end" textLength="8.50" lengthAdjust="spacingAndGlyphs" fill="#231f20" stroke="#231f20" stroke-width="0.14">1.6</text>
<line x1="428.80" y1="238.56" x2="432.00" y2="238.56" stroke="#231f20" stroke-width="0.8" />
<text x="426.00" y="240.86" font-size="6.5" text-anchor="end" textLength="8.50" lengthAdjust="spacingAndGlyphs" fill="#231f20" stroke="#231f20" stroke-width="0.14">1.8</text>
<line x1="428.80" y1="228.10" x2="432.00" y2="228.10" stroke="#231f20" stroke-width="0.8" />
<text x="426.00" y="230.40" font-size="6.5" text-anchor="end" textLength="8.50" lengthAdjust="spacingAndGlyphs" fill="#231f20" stroke="#231f20" stroke-width="0.14">2.0</text>
<line x1="428.80" y1="217.64" x2="432.00" y2="217.64" stroke="#231f20" stroke-width="0.8" />
<text x="426.00" y="219.94" font-size="6.5" text-anchor="end" textLength="8.50" lengthAdjust="spacingAndGlyphs" fill="#231f20" stroke="#231f20" stroke-width="0.14">2.2</text>
<line x1="428.80" y1="207.18" x2="432.00" y2="207.18" stroke="#231f20" stroke-width="0.8" />
<text x="426.00" y="209.48" font-size="6.5" text-anchor="end" textLength="8.50" lengthAdjust="spacingAndGlyphs" fill="#231f20" stroke="#231f20" stroke-width="0.14">2.4</text>
<line x1="437.62" y1="275.17" x2="437.62" y2="276.37" stroke="#151515" stroke-width="0.7" />
<line x1="436.62" y1="275.17" x2="438.62" y2="275.17" stroke="#151515" stroke-width="0.7" />
<rect x="435.75" y="276.37" width="3.75" height="4.03" fill="#c2152f" />
<line x1="443.62" y1="217.64" x2="443.62" y2="226.53" stroke="#151515" stroke-width="0.7" />
<line x1="442.62" y1="217.64" x2="444.62" y2="217.64" stroke="#151515" stroke-width="0.7" />
<rect x="441.75" y="226.53" width="3.75" height="53.87" fill="#5fac3e" />
<text x="443.62" y="216.44" font-size="6.6" text-anchor="middle" textLength="3.00" lengthAdjust="spacingAndGlyphs" fill="#231f20" stroke="#231f20" stroke-width="0.14">†</text>
<line x1="450.38" y1="252.68" x2="450.38" y2="256.34" stroke="#151515" stroke-width="0.7" />
<line x1="449.38" y1="252.68" x2="451.38" y2="252.68" stroke="#151515" stroke-width="0.7" />
<rect x="448.50" y="256.34" width="3.75" height="24.06" fill="#5cade6" />
<text x="450.38" y="251.68" font-size="6.5" text-anchor="middle" textLength="2.60" lengthAdjust="spacingAndGlyphs" fill="#231f20" stroke="#231f20" stroke-width="0.14">*</text>
<line x1="456.62" y1="255.30" x2="456.62" y2="261.57" stroke="#151515" stroke-width="0.7" />
<line x1="455.62" y1="255.30" x2="457.62" y2="255.30" stroke="#151515" stroke-width="0.7" />
<rect x="454.75" y="261.57" width="3.75" height="18.83" fill="#9487cf" />
<text x="456.62" y="254.10" font-size="6.6" text-anchor="middle" textLength="3.00" lengthAdjust="spacingAndGlyphs" fill="#231f20" stroke="#231f20" stroke-width="0.14">†</text>
<line x1="462.88" y1="262.62" x2="462.88" y2="270.46" stroke="#151515" stroke-width="0.7" />
<line x1="461.88" y1="262.62" x2="463.88" y2="262.62" stroke="#151515" stroke-width="0.7" />
<rect x="461.00" y="270.46" width="3.75" height="9.94" fill="#f4c01c" />
<text x="462.88" y="261.62" font-size="6.5" text-anchor="middle" textLength="2.60" lengthAdjust="spacingAndGlyphs" fill="#231f20" stroke="#231f20" stroke-width="0.14">*</text>
<line x1="469.38" y1="235.94" x2="469.38" y2="249.02" stroke="#151515" stroke-width="0.7" />
<line x1="468.38" y1="235.94" x2="470.38" y2="235.94" stroke="#151515" stroke-width="0.7" />
<rect x="467.50" y="249.02" width="3.75" height="31.38" fill="#e98b1c" />
<text x="469.38" y="234.94" font-size="6.5" text-anchor="middle" textLength="2.60" lengthAdjust="spacingAndGlyphs" fill="#231f20" stroke="#231f20" stroke-width="0.14">*</text>
<line x1="475.88" y1="254.77" x2="475.88" y2="258.43" stroke="#151515" stroke-width="0.7" />
<line x1="474.88" y1="254.77" x2="476.88" y2="254.77" stroke="#151515" stroke-width="0.7" />
<rect x="474.00" y="258.43" width="3.75" height="21.97" fill="#1d6445" />
<text x="475.88" y="253.57" font-size="6.6" text-anchor="middle" textLength="3.00" lengthAdjust="spacingAndGlyphs" fill="#231f20" stroke="#231f20" stroke-width="0.14">†</text>
<line x1="482.12" y1="269.16" x2="482.12" y2="271.51" stroke="#151515" stroke-width="0.7" />
<line x1="481.12" y1="269.16" x2="483.12" y2="269.16" stroke="#151515" stroke-width="0.7" />
<rect x="480.25" y="271.51" width="3.75" height="8.89" fill="#a9c083" />
<text x="482.12" y="268.16" font-size="6.5" text-anchor="middle" textLength="2.60" lengthAdjust="spacingAndGlyphs" fill="#231f20" stroke="#231f20" stroke-width="0.14">*</text>
<line x1="488.38" y1="269.94" x2="488.38" y2="273.08" stroke="#151515" stroke-width="0.7" />
<line x1="487.38" y1="269.94" x2="489.38" y2="269.94" stroke="#151515" stroke-width="0.7" />
<rect x="486.50" y="273.08" width="3.75" height="7.32" fill="#1e3f87" />
<text x="488.38" y="268.94" font-size="6.5" text-anchor="middle" textLength="2.60" lengthAdjust="spacingAndGlyphs" fill="#231f20" stroke="#231f20" stroke-width="0.14">*</text>
<text x="402.60" y="283.00" font-size="8.8" textLength="88.50" lengthAdjust="spacingAndGlyphs" fill="#231f20" stroke="#231f20" stroke-width="0.14" transform="rotate(-90 402.60 283.00)">% increase (mRNA expression)</text>
<text x="412.80" y="279.10" font-size="8.6" textLength="77.80" lengthAdjust="spacingAndGlyphs" fill="#231f20" stroke="#231f20" stroke-width="0.14" transform="rotate(-90 412.80 279.10)">HEL-OTX P/R over HEL92.1.7</text>
<text x="467.40" y="292.00" font-size="5.6" textLength="25.40" lengthAdjust="spacingAndGlyphs" fill="#231f20" stroke="#231f20" stroke-width="0.14">= p &lt; 0.05</text>
<text x="462.60" y="291.40" font-size="7.0" textLength="2.60" lengthAdjust="spacingAndGlyphs" fill="#231f20" stroke="#231f20" stroke-width="0.14">*</text>
<text x="467.40" y="299.70" font-size="5.6" textLength="26.40" lengthAdjust="spacingAndGlyphs" fill="#231f20" stroke="#231f20" stroke-width="0.14">= p&lt; 0.005</text>
<text x="463.70" y="299.80" font-size="6.6" text-anchor="middle" textLength="3.00" lengthAdjust="spacingAndGlyphs" fill="#231f20" stroke="#231f20" stroke-width="0.14">†</text>
<text x="279.80" y="326.40" font-size="11.5" textLength="6.40" lengthAdjust="spacingAndGlyphs" fill="#000" font-weight="bold">F</text>
<text x="316.60" y="350.00" font-size="6.6" textLength="28.60" lengthAdjust="spacingAndGlyphs" fill="#231f20" stroke="#231f20" stroke-width="0.14" transform="rotate(-45 316.60 350.00)">HEL92.1.7</text>
<text x="329.80" y="350.00" font-size="6.6" textLength="38.00" lengthAdjust="spacingAndGlyphs" fill="#231f20" stroke="#231f20" stroke-width="0.14" transform="rotate(-45 329.80 350.00)">HEL-OTX P/R</text>
<text x="343.20" y="350.00" font-size="6.6" textLength="16.00" lengthAdjust="spacingAndGlyphs" fill="#231f20" stroke="#231f20" stroke-width="0.14" transform="rotate(-45 343.20 350.00)">SET-2</text>
<text x="356.80" y="350.00" font-size="6.6" textLength="41.80" lengthAdjust="spacingAndGlyphs" fill="#231f20" stroke="#231f20" stroke-width="0.14" transform="rotate(-45 356.80 350.00)">SET-2-OTX P/R</text>
<text x="428.10" y="350.00" font-size="6.6" textLength="28.60" lengthAdjust="spacingAndGlyphs" fill="#231f20" stroke="#231f20" stroke-width="0.14" transform="rotate(-45 428.10 350.00)">HEL92.1.7</text>
<text x="441.30" y="350.00" font-size="6.6" textLength="38.00" lengthAdjust="spacingAndGlyphs" fill="#231f20" stroke="#231f20" stroke-width="0.14" transform="rotate(-45 441.30 350.00)">HEL-OTX P/R</text>
<text x="454.70" y="350.00" font-size="6.6" textLength="16.00" lengthAdjust="spacingAndGlyphs" fill="#231f20" stroke="#231f20" stroke-width="0.14" transform="rotate(-45 454.70 350.00)">SET-2</text>
<text x="468.30" y="350.00" font-size="6.6" textLength="41.80" lengthAdjust="spacingAndGlyphs" fill="#231f20" stroke="#231f20" stroke-width="0.14" transform="rotate(-45 468.30 350.00)">SET-2-OTX P/R</text>
<g>
<rect x="305.30" y="353.30" width="56.40" height="9.00" fill="#c0c0c0" />
<rect x="307.10" y="357.34" width="11.70" height="3.12" rx="1.04" fill="#111" fill-opacity="0.95" filter="url(#bl)"/>
<rect x="320.80" y="357.34" width="11.70" height="3.12" rx="1.04" fill="#111" fill-opacity="0.90" filter="url(#bl)"/>
<rect x="334.50" y="357.34" width="11.70" height="3.12" rx="1.04" fill="#111" fill-opacity="0.90" filter="url(#bl)"/>
<rect x="348.20" y="357.34" width="11.70" height="3.12" rx="1.04" fill="#111" fill-opacity="0.70" filter="url(#bl)"/>
<rect x="319.30" y="353.80" width="1.0" height="8.00" fill="#fff" fill-opacity="0.35"/>
<rect x="333.00" y="353.80" width="1.0" height="8.00" fill="#fff" fill-opacity="0.35"/>
<rect x="346.70" y="353.80" width="1.0" height="8.00" fill="#fff" fill-opacity="0.35"/>
<rect x="305.30" y="353.30" width="56.40" height="9.00" rx="1.0" fill="none" stroke="#222" stroke-width="1.1"/>
</g>
<line x1="367.40" y1="357.80" x2="375.90" y2="357.80" stroke="#111" stroke-width="1.1" />
<path d="M364.40,357.80 L369.20,355.90 L368.20,357.80 L369.20,359.70 Z" stroke="none" fill="#111" stroke-width="0.8" />
<text x="379.00" y="360.10" font-size="6.4" textLength="15.80" lengthAdjust="spacingAndGlyphs" fill="#231f20" stroke="#231f20" stroke-width="0.14">BRD4</text>
<g>
<rect x="305.30" y="364.80" width="56.40" height="9.40" fill="#dedede" />
<rect x="307.10" y="368.24" width="11.70" height="1.92" rx="0.64" fill="#111" fill-opacity="0.85" filter="url(#bl)"/>
<rect x="320.80" y="368.24" width="11.70" height="1.92" rx="0.64" fill="#111" fill-opacity="0.85" filter="url(#bl)"/>
<rect x="334.50" y="368.24" width="11.70" height="1.92" rx="0.64" fill="#111" fill-opacity="0.80" filter="url(#bl)"/>
<rect x="348.20" y="368.24" width="11.70" height="1.92" rx="0.64" fill="#111" fill-opacity="0.80" filter="url(#bl)"/>
<rect x="319.30" y="365.30" width="1.0" height="8.40" fill="#fff" fill-opacity="0.35"/>
<rect x="333.00" y="365.30" width="1.0" height="8.40" fill="#fff" fill-opacity="0.35"/>
<rect x="346.70" y="365.30" width="1.0" height="8.40" fill="#fff" fill-opacity="0.35"/>
<rect x="305.30" y="364.80" width="56.40" height="9.40" rx="1.0" fill="none" stroke="#222" stroke-width="1.1"/>
</g>
<line x1="367.40" y1="369.60" x2="375.90" y2="369.60" stroke="#111" stroke-width="1.1" />
<path d="M364.40,369.60 L369.20,367.70 L368.20,369.60 L369.20,371.50 Z" stroke="none" fill="#111" stroke-width="0.8" />
<text x="379.00" y="371.70" font-size="6.4" textLength="15.80" lengthAdjust="spacingAndGlyphs" fill="#231f20" stroke="#231f20" stroke-width="0.14">BRD3</text>
<g>
<rect x="305.30" y="377.30" width="56.40" height="9.50" fill="#d4d4d4" />
<rect x="307.10" y="380.62" width="11.70" height="2.76" rx="0.92" fill="#111" fill-opacity="0.95" filter="url(#bl)"/>
<rect x="320.80" y="380.62" width="11.70" height="2.76" rx="0.92" fill="#111" fill-opacity="0.90" filter="url(#bl)"/>
<rect x="334.50" y="380.62" width="11.70" height="2.76" rx="0.92" fill="#111" fill-opacity="0.75" filter="url(#bl)"/>
<rect x="348.20" y="380.62" width="11.70" height="2.76" rx="0.92" fill="#111" fill-opacity="0.75" filter="url(#bl)"/>
<rect x="319.30" y="377.80" width="1.0" height="8.50" fill="#fff" fill-opacity="0.35"/>
<rect x="333.00" y="377.80" width="1.0" height="8.50" fill="#fff" fill-opacity="0.35"/>
<rect x="346.70" y="377.80" width="1.0" height="8.50" fill="#fff" fill-opacity="0.35"/>
<rect x="305.30" y="377.30" width="56.40" height="9.50" rx="1.0" fill="none" stroke="#222" stroke-width="1.1"/>
</g>
<line x1="367.40" y1="381.10" x2="375.90" y2="381.10" stroke="#111" stroke-width="1.1" />
<path d="M364.40,381.10 L369.20,379.20 L368.20,381.10 L369.20,383.00 Z" stroke="none" fill="#111" stroke-width="0.8" />
<text x="379.00" y="383.40" font-size="6.4" textLength="15.80" lengthAdjust="spacingAndGlyphs" fill="#231f20" stroke="#231f20" stroke-width="0.14">BRD2</text>
<g>
<rect x="305.30" y="389.40" width="56.40" height="8.30" fill="#aeaeae" />
<rect x="307.10" y="391.98" width="11.70" height="2.64" rx="0.88" fill="#111" fill-opacity="0.70" filter="url(#bl)"/>
<rect x="320.80" y="391.98" width="11.70" height="2.64" rx="0.88" fill="#111" fill-opacity="0.70" filter="url(#bl)"/>
<rect x="334.50" y="391.98" width="11.70" height="2.64" rx="0.88" fill="#111" fill-opacity="0.70" filter="url(#bl)"/>
<rect x="348.20" y="391.98" width="11.70" height="2.64" rx="0.88" fill="#111" fill-opacity="0.60" filter="url(#bl)"/>
<rect x="319.30" y="389.90" width="1.0" height="7.30" fill="#fff" fill-opacity="0.35"/>
<rect x="333.00" y="389.90" width="1.0" height="7.30" fill="#fff" fill-opacity="0.35"/>
<rect x="346.70" y="389.90" width="1.0" height="7.30" fill="#fff" fill-opacity="0.35"/>
<rect x="305.30" y="389.40" width="56.40" height="8.30" rx="1.0" fill="none" stroke="#222" stroke-width="1.1"/>
</g>
<line x1="367.40" y1="392.70" x2="375.90" y2="392.70" stroke="#111" stroke-width="1.1" />
<path d="M364.40,392.70 L369.20,390.80 L368.20,392.70 L369.20,394.60 Z" stroke="none" fill="#111" stroke-width="0.8" />
<g>
<rect x="305.30" y="401.50" width="56.40" height="9.60" fill="#dcdcdc" />
<rect x="307.10" y="404.08" width="11.70" height="3.84" rx="1.28" fill="#111" fill-opacity="0.95" filter="url(#bl)"/>
<rect x="320.80" y="404.08" width="11.70" height="3.84" rx="1.28" fill="#111" fill-opacity="1.00" filter="url(#bl)"/>
<rect x="334.50" y="404.08" width="11.70" height="3.84" rx="1.28" fill="#111" fill-opacity="0.95" filter="url(#bl)"/>
<rect x="348.20" y="404.08" width="11.70" height="3.84" rx="1.28" fill="#111" fill-opacity="0.90" filter="url(#bl)"/>
<rect x="319.30" y="402.00" width="1.0" height="8.60" fill="#fff" fill-opacity="0.35"/>
<rect x="333.00" y="402.00" width="1.0" height="8.60" fill="#fff" fill-opacity="0.35"/>
<rect x="346.70" y="402.00" width="1.0" height="8.60" fill="#fff" fill-opacity="0.35"/>
<rect x="305.30" y="401.50" width="56.40" height="9.60" rx="1.0" fill="none" stroke="#222" stroke-width="1.1"/>
</g>
<line x1="367.40" y1="406.50" x2="375.90" y2="406.50" stroke="#111" stroke-width="1.1" />
<path d="M364.40,406.50 L369.20,404.60 L368.20,406.50 L369.20,408.40 Z" stroke="none" fill="#111" stroke-width="0.8" />
<text x="379.00" y="408.20" font-size="6.4" textLength="16.10" lengthAdjust="spacingAndGlyphs" fill="#231f20" stroke="#231f20" stroke-width="0.14">DUB3</text>
<g>
<rect x="305.30" y="414.10" width="56.40" height="9.20" fill="#a0a0a0" />
<rect x="307.10" y="415.70" width="11.70" height="6.00" rx="2.00" fill="#111" fill-opacity="0.20" filter="url(#bl)"/>
<rect x="320.80" y="415.70" width="11.70" height="6.00" rx="2.00" fill="#111" fill-opacity="0.25" filter="url(#bl)"/>
<rect x="334.50" y="415.70" width="11.70" height="6.00" rx="2.00" fill="#111" fill-opacity="0.20" filter="url(#bl)"/>
<rect x="348.20" y="415.70" width="11.70" height="6.00" rx="2.00" fill="#111" fill-opacity="0.20" filter="url(#bl)"/>
<rect x="319.30" y="414.60" width="1.0" height="8.20" fill="#fff" fill-opacity="0.35"/>
<rect x="333.00" y="414.60" width="1.0" height="8.20" fill="#fff" fill-opacity="0.35"/>
<rect x="346.70" y="414.60" width="1.0" height="8.20" fill="#fff" fill-opacity="0.35"/>
<rect x="305.30" y="414.10" width="56.40" height="9.20" rx="1.0" fill="none" stroke="#222" stroke-width="1.1"/>
</g>
<line x1="367.40" y1="416.90" x2="375.90" y2="416.90" stroke="#111" stroke-width="1.1" />
<path d="M364.40,416.90 L369.20,415.00 L368.20,416.90 L369.20,418.80 Z" stroke="none" fill="#111" stroke-width="0.8" />
<text x="379.00" y="418.80" font-size="6.4" textLength="16.80" lengthAdjust="spacingAndGlyphs" fill="#231f20" stroke="#231f20" stroke-width="0.14">SPOP</text>
<g>
<rect x="305.30" y="425.50" width="56.40" height="7.00" fill="#cbcbcb" />
<rect x="307.10" y="427.68" width="11.70" height="2.64" rx="0.88" fill="#111" fill-opacity="0.70" filter="url(#bl)"/>
<rect x="320.80" y="427.68" width="11.70" height="2.64" rx="0.88" fill="#111" fill-opacity="0.80" filter="url(#bl)"/>
<rect x="334.50" y="427.68" width="11.70" height="2.64" rx="0.88" fill="#111" fill-opacity="0.95" filter="url(#bl)"/>
<rect x="348.20" y="427.68" width="11.70" height="2.64" rx="0.88" fill="#111" fill-opacity="0.90" filter="url(#bl)"/>
<rect x="319.30" y="426.00" width="1.0" height="6.00" fill="#fff" fill-opacity="0.35"/>
<rect x="333.00" y="426.00" width="1.0" height="6.00" fill="#fff" fill-opacity="0.35"/>
<rect x="346.70" y="426.00" width="1.0" height="6.00" fill="#fff" fill-opacity="0.35"/>
<rect x="305.30" y="425.50" width="56.40" height="7.00" rx="1.0" fill="none" stroke="#222" stroke-width="1.1"/>
</g>
<line x1="367.40" y1="428.30" x2="375.90" y2="428.30" stroke="#111" stroke-width="1.1" />
<path d="M364.40,428.30 L369.20,426.40 L368.20,428.30 L369.20,430.20 Z" stroke="none" fill="#111" stroke-width="0.8" />
<text x="379.00" y="430.20" font-size="6.4" textLength="21.90" lengthAdjust="spacingAndGlyphs" fill="#231f20" stroke="#231f20" stroke-width="0.14">TRIM33</text>
<g>
<rect x="305.30" y="435.20" width="56.40" height="7.20" fill="#a5a5a5" />
<rect x="307.10" y="437.36" width="11.70" height="2.88" rx="0.96" fill="#111" fill-opacity="0.95" filter="url(#bl)"/>
<rect x="320.80" y="437.36" width="11.70" height="2.88" rx="0.96" fill="#111" fill-opacity="0.95" filter="url(#bl)"/>
<rect x="334.50" y="437.36" width="11.70" height="2.88" rx="0.96" fill="#111" fill-opacity="0.95" filter="url(#bl)"/>
<rect x="348.20" y="437.36" width="11.70" height="2.88" rx="0.96" fill="#111" fill-opacity="0.95" filter="url(#bl)"/>
<rect x="319.30" y="435.70" width="1.0" height="6.20" fill="#fff" fill-opacity="0.35"/>
<rect x="333.00" y="435.70" width="1.0" height="6.20" fill="#fff" fill-opacity="0.35"/>
<rect x="346.70" y="435.70" width="1.0" height="6.20" fill="#fff" fill-opacity="0.35"/>
<rect x="305.30" y="435.20" width="56.40" height="7.20" rx="1.0" fill="none" stroke="#222" stroke-width="1.1"/>
</g>
<line x1="367.40" y1="439.20" x2="375.90" y2="439.20" stroke="#111" stroke-width="1.1" />
<path d="M364.40,439.20 L369.20,437.30 L368.20,439.20 L369.20,441.10 Z" stroke="none" fill="#111" stroke-width="0.8" />
<text x="379.00" y="441.00" font-size="6.4" textLength="21.90" lengthAdjust="spacingAndGlyphs" fill="#231f20" stroke="#231f20" stroke-width="0.14">TRIM24</text>
<g>
<rect x="305.30" y="445.70" width="56.40" height="7.00" fill="#a1a1a1" />
<rect x="307.10" y="448.00" width="11.70" height="2.40" rx="0.80" fill="#111" fill-opacity="0.80" filter="url(#bl)"/>
<rect x="320.80" y="448.00" width="11.70" height="2.40" rx="0.80" fill="#111" fill-opacity="0.80" filter="url(#bl)"/>
<rect x="334.50" y="448.00" width="11.70" height="2.40" rx="0.80" fill="#111" fill-opacity="0.80" filter="url(#bl)"/>
<rect x="348.20" y="448.00" width="11.70" height="2.40" rx="0.80" fill="#111" fill-opacity="0.80" filter="url(#bl)"/>
<rect x="319.30" y="446.20" width="1.0" height="6.00" fill="#fff" fill-opacity="0.35"/>
<rect x="333.00" y="446.20" width="1.0" height="6.00" fill="#fff" fill-opacity="0.35"/>
<rect x="346.70" y="446.20" width="1.0" height="6.00" fill="#fff" fill-opacity="0.35"/>
<rect x="305.30" y="445.70" width="56.40" height="7.00" rx="1.0" fill="none" stroke="#222" stroke-width="1.1"/>
</g>
<line x1="367.40" y1="448.80" x2="375.90" y2="448.80" stroke="#111" stroke-width="1.1" />
<path d="M364.40,448.80 L369.20,446.90 L368.20,448.80 L369.20,450.70 Z" stroke="none" fill="#111" stroke-width="0.8" />
<text x="379.00" y="450.20" font-size="6.4" textLength="18.80" lengthAdjust="spacingAndGlyphs" fill="#231f20" stroke="#231f20" stroke-width="0.14">USP28</text>
<g>
<rect x="305.30" y="455.50" width="56.40" height="8.80" fill="#e3e3e3" />
<rect x="307.10" y="456.72" width="11.70" height="3.36" rx="1.12" fill="#111" fill-opacity="0.95" filter="url(#bl)"/>
<rect x="320.80" y="456.72" width="11.70" height="3.36" rx="1.12" fill="#111" fill-opacity="0.95" filter="url(#bl)"/>
<rect x="334.50" y="456.72" width="11.70" height="3.36" rx="1.12" fill="#111" fill-opacity="0.30" filter="url(#bl)"/>
<rect x="348.20" y="456.72" width="11.70" height="3.36" rx="1.12" fill="#111" fill-opacity="0.45" filter="url(#bl)"/>
<rect x="319.30" y="456.00" width="1.0" height="7.80" fill="#fff" fill-opacity="0.35"/>
<rect x="333.00" y="456.00" width="1.0" height="7.80" fill="#fff" fill-opacity="0.35"/>
<rect x="346.70" y="456.00" width="1.0" height="7.80" fill="#fff" fill-opacity="0.35"/>
<rect x="305.30" y="455.50" width="56.40" height="8.80" rx="1.0" fill="none" stroke="#222" stroke-width="1.1"/>
</g>
<line x1="367.40" y1="458.60" x2="375.90" y2="458.60" stroke="#111" stroke-width="1.1" />
<path d="M364.40,458.60 L369.20,456.70 L368.20,458.60 L369.20,460.50 Z" stroke="none" fill="#111" stroke-width="0.8" />
<g>
<rect x="305.30" y="466.40" width="56.40" height="11.00" fill="#cdcdcd" />
<rect x="307.10" y="467.68" width="11.70" height="2.64" rx="0.88" fill="#111" fill-opacity="0.90" filter="url(#bl)"/>
<rect x="320.80" y="467.68" width="11.70" height="2.64" rx="0.88" fill="#111" fill-opacity="0.90" filter="url(#bl)"/>
<rect x="334.50" y="467.68" width="11.70" height="2.64" rx="0.88" fill="#111" fill-opacity="0.40" filter="url(#bl)"/>
<rect x="348.20" y="467.68" width="11.70" height="2.64" rx="0.88" fill="#111" fill-opacity="0.40" filter="url(#bl)"/>
<rect x="307.10" y="471.28" width="11.70" height="2.64" rx="0.88" fill="#111" fill-opacity="0.80" filter="url(#bl)"/>
<rect x="320.80" y="471.28" width="11.70" height="2.64" rx="0.88" fill="#111" fill-opacity="0.80" filter="url(#bl)"/>
<rect x="334.50" y="471.28" width="11.70" height="2.64" rx="0.88" fill="#111" fill-opacity="0.45" filter="url(#bl)"/>
<rect x="348.20" y="471.28" width="11.70" height="2.64" rx="0.88" fill="#111" fill-opacity="0.45" filter="url(#bl)"/>
<rect x="319.30" y="466.90" width="1.0" height="10.00" fill="#fff" fill-opacity="0.35"/>
<rect x="333.00" y="466.90" width="1.0" height="10.00" fill="#fff" fill-opacity="0.35"/>
<rect x="346.70" y="466.90" width="1.0" height="10.00" fill="#fff" fill-opacity="0.35"/>
<rect x="305.30" y="466.40" width="56.40" height="11.00" rx="1.0" fill="none" stroke="#222" stroke-width="1.1"/>
</g>
<line x1="367.40" y1="471.50" x2="375.90" y2="471.50" stroke="#111" stroke-width="1.1" />
<path d="M364.40,471.50 L369.20,469.60 L368.20,471.50 L369.20,473.40 Z" stroke="none" fill="#111" stroke-width="0.8" />
<text x="379.00" y="473.20" font-size="6.4" textLength="14.40" lengthAdjust="spacingAndGlyphs" fill="#231f20" stroke="#231f20" stroke-width="0.14">Rbp1</text>
<g>
<rect x="305.30" y="479.60" width="56.40" height="7.20" fill="#e3e3e3" />
<rect x="307.10" y="481.86" width="11.70" height="2.88" rx="0.96" fill="#111" fill-opacity="1.00" filter="url(#bl)"/>
<rect x="320.80" y="481.86" width="11.70" height="2.88" rx="0.96" fill="#111" fill-opacity="1.00" filter="url(#bl)"/>
<rect x="334.50" y="481.86" width="11.70" height="2.88" rx="0.96" fill="#111" fill-opacity="1.00" filter="url(#bl)"/>
<rect x="348.20" y="481.86" width="11.70" height="2.88" rx="0.96" fill="#111" fill-opacity="1.00" filter="url(#bl)"/>
<rect x="319.30" y="480.10" width="1.0" height="6.20" fill="#fff" fill-opacity="0.35"/>
<rect x="333.00" y="480.10" width="1.0" height="6.20" fill="#fff" fill-opacity="0.35"/>
<rect x="346.70" y="480.10" width="1.0" height="6.20" fill="#fff" fill-opacity="0.35"/>
<rect x="305.30" y="479.60" width="56.40" height="7.20" rx="1.0" fill="none" stroke="#222" stroke-width="1.1"/>
</g>
<line x1="367.40" y1="483.30" x2="375.90" y2="483.30" stroke="#111" stroke-width="1.1" />
<path d="M364.40,483.30 L369.20,481.40 L368.20,483.30 L369.20,485.20 Z" stroke="none" fill="#111" stroke-width="0.8" />
<text x="379.00" y="485.40" font-size="6.4" textLength="20.20" lengthAdjust="spacingAndGlyphs" fill="#231f20" stroke="#231f20" stroke-width="0.14">β-Actin</text>
<text x="379.00" y="390.90" font-size="6.4" textLength="19.00" lengthAdjust="spacingAndGlyphs" fill="#231f20" stroke="#231f20" stroke-width="0.14">p-BRD4</text>
<text x="379.00" y="398.40" font-size="6.4" textLength="30.80" lengthAdjust="spacingAndGlyphs" fill="#231f20" stroke="#231f20" stroke-width="0.14">(S484/488)</text>
<text x="379.00" y="456.50" font-size="6.4" textLength="20.80" lengthAdjust="spacingAndGlyphs" fill="#231f20" stroke="#231f20" stroke-width="0.14">p-Rbp1</text>
<text x="379.00" y="464.00" font-size="6.4" textLength="10.40" lengthAdjust="spacingAndGlyphs" fill="#231f20" stroke="#231f20" stroke-width="0.14">(S2)</text>
<g>
<rect x="417.00" y="355.30" width="55.60" height="9.20" fill="#d8d8d8" />
<rect x="418.80" y="358.50" width="11.50" height="3.60" rx="1.20" fill="#111" fill-opacity="0.80" filter="url(#bl)"/>
<rect x="432.30" y="358.50" width="11.50" height="3.60" rx="1.20" fill="#111" fill-opacity="0.85" filter="url(#bl)"/>
<rect x="445.80" y="358.50" width="11.50" height="3.60" rx="1.20" fill="#111" fill-opacity="0.65" filter="url(#bl)"/>
<rect x="459.30" y="358.50" width="11.50" height="3.60" rx="1.20" fill="#111" fill-opacity="0.95" filter="url(#bl)"/>
<rect x="430.80" y="355.80" width="1.0" height="8.20" fill="#fff" fill-opacity="0.35"/>
<rect x="444.30" y="355.80" width="1.0" height="8.20" fill="#fff" fill-opacity="0.35"/>
<rect x="457.80" y="355.80" width="1.0" height="8.20" fill="#fff" fill-opacity="0.35"/>
<rect x="417.00" y="355.30" width="55.60" height="9.20" rx="1.0" fill="none" stroke="#222" stroke-width="1.1"/>
</g>
<line x1="478.80" y1="360.90" x2="487.40" y2="360.90" stroke="#111" stroke-width="1.1" />
<path d="M475.80,360.90 L480.60,359.00 L479.60,360.90 L480.60,362.80 Z" stroke="none" fill="#111" stroke-width="0.8" />
<text x="490.40" y="363.20" font-size="6.4" textLength="17.20" lengthAdjust="spacingAndGlyphs" fill="#231f20" stroke="#231f20" stroke-width="0.14">c-Myc</text>
<g>
<rect x="417.00" y="366.50" width="55.60" height="9.00" fill="#b4b4b4" />
<rect x="418.80" y="368.94" width="11.50" height="1.92" rx="0.64" fill="#111" fill-opacity="0.50" filter="url(#bl)"/>
<rect x="432.30" y="368.94" width="11.50" height="1.92" rx="0.64" fill="#111" fill-opacity="0.45" filter="url(#bl)"/>
<rect x="445.80" y="368.94" width="11.50" height="1.92" rx="0.64" fill="#111" fill-opacity="0.45" filter="url(#bl)"/>
<rect x="459.30" y="368.94" width="11.50" height="1.92" rx="0.64" fill="#111" fill-opacity="0.45" filter="url(#bl)"/>
<rect x="418.80" y="371.64" width="11.50" height="1.92" rx="0.64" fill="#111" fill-opacity="0.55" filter="url(#bl)"/>
<rect x="432.30" y="371.64" width="11.50" height="1.92" rx="0.64" fill="#111" fill-opacity="0.50" filter="url(#bl)"/>
<rect x="445.80" y="371.64" width="11.50" height="1.92" rx="0.64" fill="#111" fill-opacity="0.50" filter="url(#bl)"/>
<rect x="459.30" y="371.64" width="11.50" height="1.92" rx="0.64" fill="#111" fill-opacity="0.50" filter="url(#bl)"/>
<rect x="430.80" y="367.00" width="1.0" height="8.00" fill="#fff" fill-opacity="0.35"/>
<rect x="444.30" y="367.00" width="1.0" height="8.00" fill="#fff" fill-opacity="0.35"/>
<rect x="457.80" y="367.00" width="1.0" height="8.00" fill="#fff" fill-opacity="0.35"/>
<rect x="417.00" y="366.50" width="55.60" height="9.00" rx="1.0" fill="none" stroke="#222" stroke-width="1.1"/>
</g>
<line x1="478.80" y1="371.90" x2="487.40" y2="371.90" stroke="#111" stroke-width="1.1" />
<path d="M475.80,371.90 L480.60,370.00 L479.60,371.90 L480.60,373.80 Z" stroke="none" fill="#111" stroke-width="0.8" />
<text x="490.40" y="373.50" font-size="6.4" textLength="20.60" lengthAdjust="spacingAndGlyphs" fill="#231f20" stroke="#231f20" stroke-width="0.14">FBXW7</text>
<g>
<rect x="417.00" y="377.30" width="55.60" height="8.70" fill="#d2d2d2" />
<rect x="418.80" y="381.52" width="11.50" height="2.16" rx="0.72" fill="#111" fill-opacity="0.35" filter="url(#bl)"/>
<rect x="432.30" y="381.52" width="11.50" height="2.16" rx="0.72" fill="#111" fill-opacity="0.40" filter="url(#bl)"/>
<rect x="445.80" y="381.52" width="11.50" height="2.16" rx="0.72" fill="#111" fill-opacity="0.75" filter="url(#bl)"/>
<rect x="459.30" y="381.52" width="11.50" height="2.16" rx="0.72" fill="#111" fill-opacity="0.80" filter="url(#bl)"/>
<rect x="430.80" y="377.80" width="1.0" height="7.70" fill="#fff" fill-opacity="0.35"/>
<rect x="444.30" y="377.80" width="1.0" height="7.70" fill="#fff" fill-opacity="0.35"/>
<rect x="457.80" y="377.80" width="1.0" height="7.70" fill="#fff" fill-opacity="0.35"/>
<rect x="417.00" y="377.30" width="55.60" height="8.70" rx="1.0" fill="none" stroke="#222" stroke-width="1.1"/>
</g>
<line x1="478.80" y1="382.80" x2="487.40" y2="382.80" stroke="#111" stroke-width="1.1" />
<path d="M475.80,382.80 L480.60,380.90 L479.60,382.80 L480.60,384.70 Z" stroke="none" fill="#111" stroke-width="0.8" />
<text x="490.40" y="384.70" font-size="6.4" textLength="17.80" lengthAdjust="spacingAndGlyphs" fill="#231f20" stroke="#231f20" stroke-width="0.14">c-Myb</text>
<g>
<rect x="417.00" y="387.80" width="55.60" height="10.70" fill="#afafaf" />
<rect x="418.80" y="390.90" width="11.50" height="4.80" rx="1.60" fill="#111" fill-opacity="0.80" filter="url(#bl)"/>
<rect x="432.30" y="390.90" width="11.50" height="4.80" rx="1.60" fill="#111" fill-opacity="0.90" filter="url(#bl)"/>
<rect x="445.80" y="390.90" width="11.50" height="4.80" rx="1.60" fill="#111" fill-opacity="0.25" filter="url(#bl)"/>
<rect x="459.30" y="390.90" width="11.50" height="4.80" rx="1.60" fill="#111" fill-opacity="0.80" filter="url(#bl)"/>
<rect x="430.80" y="388.30" width="1.0" height="9.70" fill="#fff" fill-opacity="0.35"/>
<rect x="444.30" y="388.30" width="1.0" height="9.70" fill="#fff" fill-opacity="0.35"/>
<rect x="457.80" y="388.30" width="1.0" height="9.70" fill="#fff" fill-opacity="0.35"/>
<rect x="417.00" y="387.80" width="55.60" height="10.70" rx="1.0" fill="none" stroke="#222" stroke-width="1.1"/>
</g>
<line x1="478.80" y1="393.10" x2="487.40" y2="393.10" stroke="#111" stroke-width="1.1" />
<path d="M475.80,393.10 L480.60,391.20 L479.60,393.10 L480.60,395.00 Z" stroke="none" fill="#111" stroke-width="0.8" />
<text x="490.40" y="395.50" font-size="6.4" textLength="21.70" lengthAdjust="spacingAndGlyphs" fill="#231f20" stroke="#231f20" stroke-width="0.14">TCF7L2</text>
<g>
<rect x="417.00" y="400.90" width="55.60" height="10.10" fill="#e7e7e7" />
<rect x="418.80" y="403.44" width="11.50" height="3.12" rx="1.04" fill="#111" fill-opacity="0.75" filter="url(#bl)"/>
<rect x="432.30" y="403.44" width="11.50" height="3.12" rx="1.04" fill="#111" fill-opacity="0.80" filter="url(#bl)"/>
<rect x="445.80" y="403.44" width="11.50" height="3.12" rx="1.04" fill="#111" fill-opacity="0.60" filter="url(#bl)"/>
<rect x="459.30" y="403.44" width="11.50" height="3.12" rx="1.04" fill="#111" fill-opacity="0.75" filter="url(#bl)"/>
<rect x="430.80" y="401.40" width="1.0" height="9.10" fill="#fff" fill-opacity="0.35"/>
<rect x="444.30" y="401.40" width="1.0" height="9.10" fill="#fff" fill-opacity="0.35"/>
<rect x="457.80" y="401.40" width="1.0" height="9.10" fill="#fff" fill-opacity="0.35"/>
<rect x="417.00" y="400.90" width="55.60" height="10.10" rx="1.0" fill="none" stroke="#222" stroke-width="1.1"/>
</g>
<line x1="478.80" y1="404.40" x2="487.40" y2="404.40" stroke="#111" stroke-width="1.1" />
<path d="M475.80,404.40 L480.60,402.50 L479.60,404.40 L480.60,406.30 Z" stroke="none" fill="#111" stroke-width="0.8" />
<text x="490.40" y="406.00" font-size="6.4" textLength="20.10" lengthAdjust="spacingAndGlyphs" fill="#231f20" stroke="#231f20" stroke-width="0.14">JMJD6</text>
<g>
<rect x="417.00" y="412.10" width="55.60" height="9.20" fill="#ededed" />
<rect x="418.80" y="414.80" width="11.50" height="3.60" rx="1.20" fill="#111" fill-opacity="0.75" filter="url(#bl)"/>
<rect x="432.30" y="414.80" width="11.50" height="3.60" rx="1.20" fill="#111" fill-opacity="0.90" filter="url(#bl)"/>
<rect x="445.80" y="414.80" width="11.50" height="3.60" rx="1.20" fill="#111" fill-opacity="0.75" filter="url(#bl)"/>
<rect x="459.30" y="414.80" width="11.50" height="3.60" rx="1.20" fill="#111" fill-opacity="0.70" filter="url(#bl)"/>
<rect x="430.80" y="412.60" width="1.0" height="8.20" fill="#fff" fill-opacity="0.35"/>
<rect x="444.30" y="412.60" width="1.0" height="8.20" fill="#fff" fill-opacity="0.35"/>
<rect x="457.80" y="412.60" width="1.0" height="8.20" fill="#fff" fill-opacity="0.35"/>
<rect x="417.00" y="412.10" width="55.60" height="9.20" rx="1.0" fill="none" stroke="#222" stroke-width="1.1"/>
</g>
<line x1="478.80" y1="417.20" x2="487.40" y2="417.20" stroke="#111" stroke-width="1.1" />
<path d="M475.80,417.20 L480.60,415.30 L479.60,417.20 L480.60,419.10 Z" stroke="none" fill="#111" stroke-width="0.8" />
<text x="490.40" y="419.10" font-size="6.4" textLength="12.70" lengthAdjust="spacingAndGlyphs" fill="#231f20" stroke="#231f20" stroke-width="0.14">PU.1</text>
<g>
<rect x="417.00" y="423.10" width="55.60" height="9.50" fill="#d2d2d2" />
<rect x="418.80" y="426.40" width="11.50" height="3.00" rx="1.00" fill="#111" fill-opacity="0.75" filter="url(#bl)"/>
<rect x="432.30" y="426.40" width="11.50" height="3.00" rx="1.00" fill="#111" fill-opacity="0.75" filter="url(#bl)"/>
<rect x="445.80" y="426.40" width="11.50" height="3.00" rx="1.00" fill="#111" fill-opacity="0.70" filter="url(#bl)"/>
<rect x="459.30" y="426.40" width="11.50" height="3.00" rx="1.00" fill="#111" fill-opacity="0.75" filter="url(#bl)"/>
<rect x="430.80" y="423.60" width="1.0" height="8.50" fill="#fff" fill-opacity="0.35"/>
<rect x="444.30" y="423.60" width="1.0" height="8.50" fill="#fff" fill-opacity="0.35"/>
<rect x="457.80" y="423.60" width="1.0" height="8.50" fill="#fff" fill-opacity="0.35"/>
<rect x="417.00" y="423.10" width="55.60" height="9.50" rx="1.0" fill="none" stroke="#222" stroke-width="1.1"/>
</g>
<line x1="478.80" y1="427.90" x2="487.40" y2="427.90" stroke="#111" stroke-width="1.1" />
<path d="M475.80,427.90 L480.60,426.00 L479.60,427.90 L480.60,429.80 Z" stroke="none" fill="#111" stroke-width="0.8" />
<text x="490.40" y="429.60" font-size="6.4" textLength="14.00" lengthAdjust="spacingAndGlyphs" fill="#231f20" stroke="#231f20" stroke-width="0.14">PIM1</text>
<g>
<rect x="417.00" y="435.00" width="55.60" height="10.20" fill="#cbcbcb" />
<rect x="418.80" y="438.80" width="11.50" height="3.60" rx="1.20" fill="#111" fill-opacity="0.45" filter="url(#bl)"/>
<rect x="432.30" y="438.80" width="11.50" height="3.60" rx="1.20" fill="#111" fill-opacity="0.85" filter="url(#bl)"/>
<rect x="445.80" y="438.80" width="11.50" height="3.60" rx="1.20" fill="#111" fill-opacity="0.40" filter="url(#bl)"/>
<rect x="459.30" y="438.80" width="11.50" height="3.60" rx="1.20" fill="#111" fill-opacity="0.75" filter="url(#bl)"/>
<rect x="430.80" y="435.50" width="1.0" height="9.20" fill="#fff" fill-opacity="0.35"/>
<rect x="444.30" y="435.50" width="1.0" height="9.20" fill="#fff" fill-opacity="0.35"/>
<rect x="457.80" y="435.50" width="1.0" height="9.20" fill="#fff" fill-opacity="0.35"/>
<rect x="417.00" y="435.00" width="55.60" height="10.20" rx="1.0" fill="none" stroke="#222" stroke-width="1.1"/>
</g>
<line x1="478.80" y1="440.50" x2="487.40" y2="440.50" stroke="#111" stroke-width="1.1" />
<path d="M475.80,440.50 L480.60,438.60 L479.60,440.50 L480.60,442.40 Z" stroke="none" fill="#111" stroke-width="0.8" />
<text x="490.40" y="442.40" font-size="6.4" textLength="16.90" lengthAdjust="spacingAndGlyphs" fill="#231f20" stroke="#231f20" stroke-width="0.14">Bcl-xL</text>
<g>
<rect x="417.00" y="448.10" width="55.60" height="7.80" fill="#adadad" />
<rect x="418.80" y="450.50" width="11.50" height="2.40" rx="0.80" fill="#111" fill-opacity="0.30" filter="url(#bl)"/>
<rect x="432.30" y="450.50" width="11.50" height="2.40" rx="0.80" fill="#111" fill-opacity="0.80" filter="url(#bl)"/>
<rect x="445.80" y="450.50" width="11.50" height="2.40" rx="0.80" fill="#111" fill-opacity="0.30" filter="url(#bl)"/>
<rect x="459.30" y="450.50" width="11.50" height="2.40" rx="0.80" fill="#111" fill-opacity="0.85" filter="url(#bl)"/>
<rect x="430.80" y="448.60" width="1.0" height="6.80" fill="#fff" fill-opacity="0.35"/>
<rect x="444.30" y="448.60" width="1.0" height="6.80" fill="#fff" fill-opacity="0.35"/>
<rect x="457.80" y="448.60" width="1.0" height="6.80" fill="#fff" fill-opacity="0.35"/>
<rect x="417.00" y="448.10" width="55.60" height="7.80" rx="1.0" fill="none" stroke="#222" stroke-width="1.1"/>
</g>
<line x1="478.80" y1="451.30" x2="487.40" y2="451.30" stroke="#111" stroke-width="1.1" />
<path d="M475.80,451.30 L480.60,449.40 L479.60,451.30 L480.60,453.20 Z" stroke="none" fill="#111" stroke-width="0.8" />
<text x="490.40" y="453.00" font-size="6.4" textLength="15.20" lengthAdjust="spacingAndGlyphs" fill="#231f20" stroke="#231f20" stroke-width="0.14">Mcl-1</text>
<g>
<rect x="417.00" y="457.70" width="55.60" height="9.50" fill="#dedede" />
<rect x="418.80" y="461.08" width="11.50" height="2.64" rx="0.88" fill="#111" fill-opacity="0.90" filter="url(#bl)"/>
<rect x="432.30" y="461.08" width="11.50" height="2.64" rx="0.88" fill="#111" fill-opacity="0.90" filter="url(#bl)"/>
<rect x="445.80" y="461.08" width="11.50" height="2.64" rx="0.88" fill="#111" fill-opacity="0.90" filter="url(#bl)"/>
<rect x="459.30" y="461.08" width="11.50" height="2.64" rx="0.88" fill="#111" fill-opacity="0.90" filter="url(#bl)"/>
<rect x="430.80" y="458.20" width="1.0" height="8.50" fill="#fff" fill-opacity="0.35"/>
<rect x="444.30" y="458.20" width="1.0" height="8.50" fill="#fff" fill-opacity="0.35"/>
<rect x="457.80" y="458.20" width="1.0" height="8.50" fill="#fff" fill-opacity="0.35"/>
<rect x="417.00" y="457.70" width="55.60" height="9.50" rx="1.0" fill="none" stroke="#222" stroke-width="1.1"/>
</g>
<line x1="478.80" y1="462.30" x2="487.40" y2="462.30" stroke="#111" stroke-width="1.1" />
<path d="M475.80,462.30 L480.60,460.40 L479.60,462.30 L480.60,464.20 Z" stroke="none" fill="#111" stroke-width="0.8" />
<text x="490.40" y="464.20" font-size="6.4" textLength="22.40" lengthAdjust="spacingAndGlyphs" fill="#231f20" stroke="#231f20" stroke-width="0.14">GAPDH</text>
<text x="7.30" y="515.60" font-size="11.5" textLength="8.60" lengthAdjust="spacingAndGlyphs" fill="#000" font-weight="bold">G</text>
<text x="61.60" y="517.00" font-size="6.4" text-anchor="middle" textLength="15.80" lengthAdjust="spacingAndGlyphs" fill="#231f20" stroke="#231f20" stroke-width="0.14">SET-2</text>
<text x="120.70" y="516.90" font-size="6.4" text-anchor="middle" textLength="43.60" lengthAdjust="spacingAndGlyphs" fill="#231f20" stroke="#231f20" stroke-width="0.14">SET-2-OTX P/R</text>
<line x1="35.00" y1="520.30" x2="88.80" y2="520.30" stroke="#231f20" stroke-width="0.9" />
<line x1="93.20" y1="520.30" x2="147.50" y2="520.30" stroke="#231f20" stroke-width="0.9" />
<text x="42.00" y="528.70" font-size="6.4" text-anchor="middle" textLength="1.90" lengthAdjust="spacingAndGlyphs" fill="#231f20" stroke="#231f20" stroke-width="0.14">-</text>
<text x="55.00" y="528.70" font-size="6.4" text-anchor="middle" textLength="3.30" lengthAdjust="spacingAndGlyphs" fill="#231f20" stroke="#231f20" stroke-width="0.14">0</text>
<text x="68.30" y="528.70" font-size="6.4" text-anchor="middle" textLength="3.30" lengthAdjust="spacingAndGlyphs" fill="#231f20" stroke="#231f20" stroke-width="0.14">2</text>
<text x="82.00" y="528.70" font-size="6.4" text-anchor="middle" textLength="3.30" lengthAdjust="spacingAndGlyphs" fill="#231f20" stroke="#231f20" stroke-width="0.14">8</text>
<text x="97.80" y="528.70" font-size="6.4" text-anchor="middle" textLength="1.90" lengthAdjust="spacingAndGlyphs" fill="#231f20" stroke="#231f20" stroke-width="0.14">-</text>
<text x="110.50" y="528.70" font-size="6.4" text-anchor="middle" textLength="3.30" lengthAdjust="spacingAndGlyphs" fill="#231f20" stroke="#231f20" stroke-width="0.14">0</text>
<text x="124.00" y="528.70" font-size="6.4" text-anchor="middle" textLength="3.30" lengthAdjust="spacingAndGlyphs" fill="#231f20" stroke="#231f20" stroke-width="0.14">2</text>
<text x="138.50" y="528.70" font-size="6.4" text-anchor="middle" textLength="3.30" lengthAdjust="spacingAndGlyphs" fill="#231f20" stroke="#231f20" stroke-width="0.14">8</text>
<text x="174.30" y="513.10" font-size="6.4" text-anchor="middle" textLength="39.50" lengthAdjust="spacingAndGlyphs" fill="#231f20" stroke="#231f20" stroke-width="0.14">1 µM OTX015</text>
<text x="174.40" y="521.20" font-size="6.4" text-anchor="middle" textLength="20.80" lengthAdjust="spacingAndGlyphs" fill="#231f20" stroke="#231f20" stroke-width="0.14">(16 hrs)</text>
<text x="174.00" y="528.60" font-size="6.4" text-anchor="middle" textLength="42.10" lengthAdjust="spacingAndGlyphs" fill="#231f20" stroke="#231f20" stroke-width="0.14">Hrs, Post-wash</text>
<g>
<rect x="34.20" y="532.20" width="114.10" height="9.40" fill="#d1d1d1" />
<rect x="36.00" y="535.44" width="12.06" height="3.12" rx="1.04" fill="#111" fill-opacity="0.45" filter="url(#bl)"/>
<rect x="50.06" y="535.44" width="12.06" height="3.12" rx="1.04" fill="#111" fill-opacity="0.50" filter="url(#bl)"/>
<rect x="64.12" y="535.44" width="12.06" height="3.12" rx="1.04" fill="#111" fill-opacity="0.50" filter="url(#bl)"/>
<rect x="78.19" y="535.44" width="12.06" height="3.12" rx="1.04" fill="#111" fill-opacity="0.45" filter="url(#bl)"/>
<rect x="92.25" y="535.44" width="12.06" height="3.12" rx="1.04" fill="#111" fill-opacity="0.45" filter="url(#bl)"/>
<rect x="106.31" y="535.44" width="12.06" height="3.12" rx="1.04" fill="#111" fill-opacity="0.60" filter="url(#bl)"/>
<rect x="120.38" y="535.44" width="12.06" height="3.12" rx="1.04" fill="#111" fill-opacity="0.60" filter="url(#bl)"/>
<rect x="134.44" y="535.44" width="12.06" height="3.12" rx="1.04" fill="#111" fill-opacity="0.35" filter="url(#bl)"/>
<rect x="48.56" y="532.70" width="1.0" height="8.40" fill="#fff" fill-opacity="0.4"/>
<rect x="62.62" y="532.70" width="1.0" height="8.40" fill="#fff" fill-opacity="0.4"/>
<rect x="76.69" y="532.70" width="1.0" height="8.40" fill="#fff" fill-opacity="0.4"/>
<rect x="90.75" y="532.70" width="1.0" height="8.40" fill="#fff" fill-opacity="0.4"/>
<rect x="104.81" y="532.70" width="1.0" height="8.40" fill="#fff" fill-opacity="0.4"/>
<rect x="118.88" y="532.70" width="1.0" height="8.40" fill="#fff" fill-opacity="0.4"/>
<rect x="132.94" y="532.70" width="1.0" height="8.40" fill="#fff" fill-opacity="0.4"/>
<rect x="34.20" y="532.20" width="114.10" height="9.40" rx="1.0" fill="none" stroke="#222" stroke-width="1.1"/>
</g>
<line x1="154.50" y1="536.70" x2="162.90" y2="536.70" stroke="#111" stroke-width="1.1" />
<path d="M151.50,536.70 L156.30,534.80 L155.30,536.70 L156.30,538.60 Z" stroke="none" fill="#111" stroke-width="0.8" />
<text x="166.20" y="538.90" font-size="6.4" textLength="15.80" lengthAdjust="spacingAndGlyphs" fill="#231f20" stroke="#231f20" stroke-width="0.14">BRD4</text>
<g>
<rect x="34.20" y="544.00" width="114.10" height="11.70" fill="#e7e7e7" />
<rect x="36.00" y="548.50" width="12.06" height="3.60" rx="1.20" fill="#111" fill-opacity="0.80" filter="url(#bl)"/>
<rect x="50.06" y="548.50" width="12.06" height="3.60" rx="1.20" fill="#111" fill-opacity="0.35" filter="url(#bl)"/>
<rect x="64.12" y="548.50" width="12.06" height="3.60" rx="1.20" fill="#111" fill-opacity="0.85" filter="url(#bl)"/>
<rect x="78.19" y="548.50" width="12.06" height="3.60" rx="1.20" fill="#111" fill-opacity="0.85" filter="url(#bl)"/>
<rect x="92.25" y="548.50" width="12.06" height="3.60" rx="1.20" fill="#111" fill-opacity="0.90" filter="url(#bl)"/>
<rect x="106.31" y="548.50" width="12.06" height="3.60" rx="1.20" fill="#111" fill-opacity="0.50" filter="url(#bl)"/>
<rect x="120.38" y="548.50" width="12.06" height="3.60" rx="1.20" fill="#111" fill-opacity="1.00" filter="url(#bl)"/>
<rect x="134.44" y="548.50" width="12.06" height="3.60" rx="1.20" fill="#111" fill-opacity="1.00" filter="url(#bl)"/>
<rect x="48.56" y="544.50" width="1.0" height="10.70" fill="#fff" fill-opacity="0.4"/>
<rect x="62.62" y="544.50" width="1.0" height="10.70" fill="#fff" fill-opacity="0.4"/>
<rect x="76.69" y="544.50" width="1.0" height="10.70" fill="#fff" fill-opacity="0.4"/>
<rect x="90.75" y="544.50" width="1.0" height="10.70" fill="#fff" fill-opacity="0.4"/>
<rect x="104.81" y="544.50" width="1.0" height="10.70" fill="#fff" fill-opacity="0.4"/>
<rect x="118.88" y="544.50" width="1.0" height="10.70" fill="#fff" fill-opacity="0.4"/>
<rect x="132.94" y="544.50" width="1.0" height="10.70" fill="#fff" fill-opacity="0.4"/>
<rect x="34.20" y="544.00" width="114.10" height="11.70" rx="1.0" fill="none" stroke="#222" stroke-width="1.1"/>
</g>
<line x1="154.50" y1="550.30" x2="162.90" y2="550.30" stroke="#111" stroke-width="1.1" />
<path d="M151.50,550.30 L156.30,548.40 L155.30,550.30 L156.30,552.20 Z" stroke="none" fill="#111" stroke-width="0.8" />
<text x="166.20" y="552.10" font-size="6.4" textLength="16.80" lengthAdjust="spacingAndGlyphs" fill="#231f20" stroke="#231f20" stroke-width="0.14">c-Myc</text>
<g>
<rect x="34.20" y="558.00" width="114.10" height="10.40" fill="#ababab" />
<rect x="36.00" y="561.70" width="12.06" height="3.00" rx="1.00" fill="#111" fill-opacity="0.15" filter="url(#bl)"/>
<rect x="50.06" y="561.70" width="12.06" height="3.00" rx="1.00" fill="#111" fill-opacity="0.15" filter="url(#bl)"/>
<rect x="64.12" y="561.70" width="12.06" height="3.00" rx="1.00" fill="#111" fill-opacity="0.20" filter="url(#bl)"/>
<rect x="78.19" y="561.70" width="12.06" height="3.00" rx="1.00" fill="#111" fill-opacity="0.15" filter="url(#bl)"/>
<rect x="92.25" y="561.70" width="12.06" height="3.00" rx="1.00" fill="#111" fill-opacity="0.50" filter="url(#bl)"/>
<rect x="106.31" y="561.70" width="12.06" height="3.00" rx="1.00" fill="#111" fill-opacity="0.45" filter="url(#bl)"/>
<rect x="120.38" y="561.70" width="12.06" height="3.00" rx="1.00" fill="#111" fill-opacity="0.50" filter="url(#bl)"/>
<rect x="134.44" y="561.70" width="12.06" height="3.00" rx="1.00" fill="#111" fill-opacity="0.60" filter="url(#bl)"/>
<rect x="48.56" y="558.50" width="1.0" height="9.40" fill="#fff" fill-opacity="0.4"/>
<rect x="62.62" y="558.50" width="1.0" height="9.40" fill="#fff" fill-opacity="0.4"/>
<rect x="76.69" y="558.50" width="1.0" height="9.40" fill="#fff" fill-opacity="0.4"/>
<rect x="90.75" y="558.50" width="1.0" height="9.40" fill="#fff" fill-opacity="0.4"/>
<rect x="104.81" y="558.50" width="1.0" height="9.40" fill="#fff" fill-opacity="0.4"/>
<rect x="118.88" y="558.50" width="1.0" height="9.40" fill="#fff" fill-opacity="0.4"/>
<rect x="132.94" y="558.50" width="1.0" height="9.40" fill="#fff" fill-opacity="0.4"/>
<rect x="34.20" y="558.00" width="114.10" height="10.40" rx="1.0" fill="none" stroke="#222" stroke-width="1.1"/>
</g>
<line x1="154.50" y1="562.20" x2="162.90" y2="562.20" stroke="#111" stroke-width="1.1" />
<path d="M151.50,562.20 L156.30,560.30 L155.30,562.20 L156.30,564.10 Z" stroke="none" fill="#111" stroke-width="0.8" />
<text x="166.20" y="564.10" font-size="6.4" textLength="21.70" lengthAdjust="spacingAndGlyphs" fill="#231f20" stroke="#231f20" stroke-width="0.14">TCF7L2</text>
<g>
<rect x="34.20" y="570.30" width="114.10" height="9.80" fill="#dcdcdc" />
<rect x="36.00" y="573.44" width="12.06" height="3.12" rx="1.04" fill="#111" fill-opacity="0.90" filter="url(#bl)"/>
<rect x="50.06" y="573.44" width="12.06" height="3.12" rx="1.04" fill="#111" fill-opacity="0.60" filter="url(#bl)"/>
<rect x="64.12" y="573.44" width="12.06" height="3.12" rx="1.04" fill="#111" fill-opacity="0.80" filter="url(#bl)"/>
<rect x="78.19" y="573.44" width="12.06" height="3.12" rx="1.04" fill="#111" fill-opacity="0.85" filter="url(#bl)"/>
<rect x="92.25" y="573.44" width="12.06" height="3.12" rx="1.04" fill="#111" fill-opacity="0.95" filter="url(#bl)"/>
<rect x="106.31" y="573.44" width="12.06" height="3.12" rx="1.04" fill="#111" fill-opacity="0.70" filter="url(#bl)"/>
<rect x="120.38" y="573.44" width="12.06" height="3.12" rx="1.04" fill="#111" fill-opacity="0.85" filter="url(#bl)"/>
<rect x="134.44" y="573.44" width="12.06" height="3.12" rx="1.04" fill="#111" fill-opacity="0.90" filter="url(#bl)"/>
<rect x="48.56" y="570.80" width="1.0" height="8.80" fill="#fff" fill-opacity="0.4"/>
<rect x="62.62" y="570.80" width="1.0" height="8.80" fill="#fff" fill-opacity="0.4"/>
<rect x="76.69" y="570.80" width="1.0" height="8.80" fill="#fff" fill-opacity="0.4"/>
<rect x="90.75" y="570.80" width="1.0" height="8.80" fill="#fff" fill-opacity="0.4"/>
<rect x="104.81" y="570.80" width="1.0" height="8.80" fill="#fff" fill-opacity="0.4"/>
<rect x="118.88" y="570.80" width="1.0" height="8.80" fill="#fff" fill-opacity="0.4"/>
<rect x="132.94" y="570.80" width="1.0" height="8.80" fill="#fff" fill-opacity="0.4"/>
<rect x="34.20" y="570.30" width="114.10" height="9.80" rx="1.0" fill="none" stroke="#222" stroke-width="1.1"/>
</g>
<line x1="154.50" y1="575.30" x2="162.90" y2="575.30" stroke="#111" stroke-width="1.1" />
<path d="M151.50,575.30 L156.30,573.40 L155.30,575.30 L156.30,577.20 Z" stroke="none" fill="#111" stroke-width="0.8" />
<text x="166.20" y="577.50" font-size="6.4" textLength="19.90" lengthAdjust="spacingAndGlyphs" fill="#231f20" stroke="#231f20" stroke-width="0.14">JMJD6</text>
<g>
<rect x="34.20" y="583.20" width="114.10" height="10.50" fill="#e1e1e1" />
<rect x="36.00" y="587.04" width="12.06" height="3.12" rx="1.04" fill="#111" fill-opacity="0.90" filter="url(#bl)"/>
<rect x="50.06" y="587.04" width="12.06" height="3.12" rx="1.04" fill="#111" fill-opacity="0.60" filter="url(#bl)"/>
<rect x="64.12" y="587.04" width="12.06" height="3.12" rx="1.04" fill="#111" fill-opacity="0.60" filter="url(#bl)"/>
<rect x="78.19" y="587.04" width="12.06" height="3.12" rx="1.04" fill="#111" fill-opacity="0.70" filter="url(#bl)"/>
<rect x="92.25" y="587.04" width="12.06" height="3.12" rx="1.04" fill="#111" fill-opacity="0.80" filter="url(#bl)"/>
<rect x="106.31" y="587.04" width="12.06" height="3.12" rx="1.04" fill="#111" fill-opacity="0.75" filter="url(#bl)"/>
<rect x="120.38" y="587.04" width="12.06" height="3.12" rx="1.04" fill="#111" fill-opacity="0.75" filter="url(#bl)"/>
<rect x="134.44" y="587.04" width="12.06" height="3.12" rx="1.04" fill="#111" fill-opacity="0.80" filter="url(#bl)"/>
<rect x="48.56" y="583.70" width="1.0" height="9.50" fill="#fff" fill-opacity="0.4"/>
<rect x="62.62" y="583.70" width="1.0" height="9.50" fill="#fff" fill-opacity="0.4"/>
<rect x="76.69" y="583.70" width="1.0" height="9.50" fill="#fff" fill-opacity="0.4"/>
<rect x="90.75" y="583.70" width="1.0" height="9.50" fill="#fff" fill-opacity="0.4"/>
<rect x="104.81" y="583.70" width="1.0" height="9.50" fill="#fff" fill-opacity="0.4"/>
<rect x="118.88" y="583.70" width="1.0" height="9.50" fill="#fff" fill-opacity="0.4"/>
<rect x="132.94" y="583.70" width="1.0" height="9.50" fill="#fff" fill-opacity="0.4"/>
<rect x="34.20" y="583.20" width="114.10" height="10.50" rx="1.0" fill="none" stroke="#222" stroke-width="1.1"/>
</g>
<line x1="154.50" y1="589.40" x2="162.90" y2="589.40" stroke="#111" stroke-width="1.1" />
<path d="M151.50,589.40 L156.30,587.50 L155.30,589.40 L156.30,591.30 Z" stroke="none" fill="#111" stroke-width="0.8" />
<text x="166.20" y="591.40" font-size="6.4" textLength="16.80" lengthAdjust="spacingAndGlyphs" fill="#231f20" stroke="#231f20" stroke-width="0.14">Bcl-xL</text>
<g>
<rect x="34.20" y="596.80" width="114.10" height="9.40" fill="#ededed" />
<rect x="36.00" y="599.80" width="12.06" height="2.40" rx="0.80" fill="#111" fill-opacity="0.85" filter="url(#bl)"/>
<rect x="50.06" y="599.80" width="12.06" height="2.40" rx="0.80" fill="#111" fill-opacity="0.85" filter="url(#bl)"/>
<rect x="64.12" y="599.80" width="12.06" height="2.40" rx="0.80" fill="#111" fill-opacity="0.85" filter="url(#bl)"/>
<rect x="78.19" y="599.80" width="12.06" height="2.40" rx="0.80" fill="#111" fill-opacity="0.85" filter="url(#bl)"/>
<rect x="92.25" y="599.80" width="12.06" height="2.40" rx="0.80" fill="#111" fill-opacity="0.85" filter="url(#bl)"/>
<rect x="106.31" y="599.80" width="12.06" height="2.40" rx="0.80" fill="#111" fill-opacity="0.85" filter="url(#bl)"/>
<rect x="120.38" y="599.80" width="12.06" height="2.40" rx="0.80" fill="#111" fill-opacity="0.85" filter="url(#bl)"/>
<rect x="134.44" y="599.80" width="12.06" height="2.40" rx="0.80" fill="#111" fill-opacity="0.85" filter="url(#bl)"/>
<rect x="48.56" y="597.30" width="1.0" height="8.40" fill="#fff" fill-opacity="0.4"/>
<rect x="62.62" y="597.30" width="1.0" height="8.40" fill="#fff" fill-opacity="0.4"/>
<rect x="76.69" y="597.30" width="1.0" height="8.40" fill="#fff" fill-opacity="0.4"/>
<rect x="90.75" y="597.30" width="1.0" height="8.40" fill="#fff" fill-opacity="0.4"/>
<rect x="104.81" y="597.30" width="1.0" height="8.40" fill="#fff" fill-opacity="0.4"/>
<rect x="118.88" y="597.30" width="1.0" height="8.40" fill="#fff" fill-opacity="0.4"/>
<rect x="132.94" y="597.30" width="1.0" height="8.40" fill="#fff" fill-opacity="0.4"/>
<rect x="34.20" y="596.80" width="114.10" height="9.40" rx="1.0" fill="none" stroke="#222" stroke-width="1.1"/>
</g>
<line x1="154.50" y1="602.30" x2="162.90" y2="602.30" stroke="#111" stroke-width="1.1" />
<path d="M151.50,602.30 L156.30,600.40 L155.30,602.30 L156.30,604.20 Z" stroke="none" fill="#111" stroke-width="0.8" />
<text x="166.20" y="604.20" font-size="6.4" textLength="15.30" lengthAdjust="spacingAndGlyphs" fill="#231f20" stroke="#231f20" stroke-width="0.14">Mcl-1</text>
<g>
<rect x="34.20" y="608.60" width="114.10" height="9.40" fill="#cfcfcf" />
<rect x="36.00" y="610.76" width="12.06" height="4.08" rx="1.36" fill="#111" fill-opacity="1.00" filter="url(#bl)"/>
<rect x="50.06" y="610.76" width="12.06" height="4.08" rx="1.36" fill="#111" fill-opacity="0.50" filter="url(#bl)"/>
<rect x="64.12" y="610.76" width="12.06" height="4.08" rx="1.36" fill="#111" fill-opacity="0.60" filter="url(#bl)"/>
<rect x="78.19" y="610.76" width="12.06" height="4.08" rx="1.36" fill="#111" fill-opacity="0.80" filter="url(#bl)"/>
<rect x="92.25" y="610.76" width="12.06" height="4.08" rx="1.36" fill="#111" fill-opacity="0.90" filter="url(#bl)"/>
<rect x="106.31" y="610.76" width="12.06" height="4.08" rx="1.36" fill="#111" fill-opacity="0.80" filter="url(#bl)"/>
<rect x="120.38" y="610.76" width="12.06" height="4.08" rx="1.36" fill="#111" fill-opacity="0.85" filter="url(#bl)"/>
<rect x="134.44" y="610.76" width="12.06" height="4.08" rx="1.36" fill="#111" fill-opacity="0.90" filter="url(#bl)"/>
<rect x="48.56" y="609.10" width="1.0" height="8.40" fill="#fff" fill-opacity="0.4"/>
<rect x="62.62" y="609.10" width="1.0" height="8.40" fill="#fff" fill-opacity="0.4"/>
<rect x="76.69" y="609.10" width="1.0" height="8.40" fill="#fff" fill-opacity="0.4"/>
<rect x="90.75" y="609.10" width="1.0" height="8.40" fill="#fff" fill-opacity="0.4"/>
<rect x="104.81" y="609.10" width="1.0" height="8.40" fill="#fff" fill-opacity="0.4"/>
<rect x="118.88" y="609.10" width="1.0" height="8.40" fill="#fff" fill-opacity="0.4"/>
<rect x="132.94" y="609.10" width="1.0" height="8.40" fill="#fff" fill-opacity="0.4"/>
<rect x="34.20" y="608.60" width="114.10" height="9.40" rx="1.0" fill="none" stroke="#222" stroke-width="1.1"/>
</g>
<line x1="154.50" y1="613.50" x2="162.90" y2="613.50" stroke="#111" stroke-width="1.1" />
<path d="M151.50,613.50 L156.30,611.60 L155.30,613.50 L156.30,615.40 Z" stroke="none" fill="#111" stroke-width="0.8" />
<text x="166.20" y="615.50" font-size="6.4" textLength="20.30" lengthAdjust="spacingAndGlyphs" fill="#231f20" stroke="#231f20" stroke-width="0.14">RUNX1</text>
<g>
<rect x="34.20" y="620.30" width="114.10" height="9.40" fill="#c0c0c0" />
<rect x="36.00" y="622.46" width="12.06" height="4.08" rx="1.36" fill="#111" fill-opacity="0.90" filter="url(#bl)"/>
<rect x="50.06" y="622.46" width="12.06" height="4.08" rx="1.36" fill="#111" fill-opacity="0.50" filter="url(#bl)"/>
<rect x="64.12" y="622.46" width="12.06" height="4.08" rx="1.36" fill="#111" fill-opacity="0.55" filter="url(#bl)"/>
<rect x="78.19" y="622.46" width="12.06" height="4.08" rx="1.36" fill="#111" fill-opacity="0.65" filter="url(#bl)"/>
<rect x="92.25" y="622.46" width="12.06" height="4.08" rx="1.36" fill="#111" fill-opacity="0.95" filter="url(#bl)"/>
<rect x="106.31" y="622.46" width="12.06" height="4.08" rx="1.36" fill="#111" fill-opacity="0.85" filter="url(#bl)"/>
<rect x="120.38" y="622.46" width="12.06" height="4.08" rx="1.36" fill="#111" fill-opacity="0.85" filter="url(#bl)"/>
<rect x="134.44" y="622.46" width="12.06" height="4.08" rx="1.36" fill="#111" fill-opacity="0.90" filter="url(#bl)"/>
<rect x="48.56" y="620.80" width="1.0" height="8.40" fill="#fff" fill-opacity="0.4"/>
<rect x="62.62" y="620.80" width="1.0" height="8.40" fill="#fff" fill-opacity="0.4"/>
<rect x="76.69" y="620.80" width="1.0" height="8.40" fill="#fff" fill-opacity="0.4"/>
<rect x="90.75" y="620.80" width="1.0" height="8.40" fill="#fff" fill-opacity="0.4"/>
<rect x="104.81" y="620.80" width="1.0" height="8.40" fill="#fff" fill-opacity="0.4"/>
<rect x="118.88" y="620.80" width="1.0" height="8.40" fill="#fff" fill-opacity="0.4"/>
<rect x="132.94" y="620.80" width="1.0" height="8.40" fill="#fff" fill-opacity="0.4"/>
<rect x="34.20" y="620.30" width="114.10" height="9.40" rx="1.0" fill="none" stroke="#222" stroke-width="1.1"/>
</g>
<line x1="154.50" y1="625.70" x2="162.90" y2="625.70" stroke="#111" stroke-width="1.1" />
<path d="M151.50,625.70 L156.30,623.80 L155.30,625.70 L156.30,627.60 Z" stroke="none" fill="#111" stroke-width="0.8" />
<text x="166.20" y="627.50" font-size="6.4" textLength="13.20" lengthAdjust="spacingAndGlyphs" fill="#231f20" stroke="#231f20" stroke-width="0.14">PU.1</text>
<g>
<rect x="34.20" y="632.00" width="114.10" height="9.40" fill="#dcdcdc" />
<rect x="36.00" y="635.28" width="12.06" height="2.64" rx="0.88" fill="#111" fill-opacity="0.70" filter="url(#bl)"/>
<rect x="50.06" y="635.28" width="12.06" height="2.64" rx="0.88" fill="#111" fill-opacity="0.50" filter="url(#bl)"/>
<rect x="64.12" y="635.28" width="12.06" height="2.64" rx="0.88" fill="#111" fill-opacity="0.55" filter="url(#bl)"/>
<rect x="78.19" y="635.28" width="12.06" height="2.64" rx="0.88" fill="#111" fill-opacity="0.70" filter="url(#bl)"/>
<rect x="92.25" y="635.28" width="12.06" height="2.64" rx="0.88" fill="#111" fill-opacity="0.80" filter="url(#bl)"/>
<rect x="106.31" y="635.28" width="12.06" height="2.64" rx="0.88" fill="#111" fill-opacity="0.45" filter="url(#bl)"/>
<rect x="120.38" y="635.28" width="12.06" height="2.64" rx="0.88" fill="#111" fill-opacity="0.55" filter="url(#bl)"/>
<rect x="134.44" y="635.28" width="12.06" height="2.64" rx="0.88" fill="#111" fill-opacity="0.70" filter="url(#bl)"/>
<rect x="48.56" y="632.50" width="1.0" height="8.40" fill="#fff" fill-opacity="0.4"/>
<rect x="62.62" y="632.50" width="1.0" height="8.40" fill="#fff" fill-opacity="0.4"/>
<rect x="76.69" y="632.50" width="1.0" height="8.40" fill="#fff" fill-opacity="0.4"/>
<rect x="90.75" y="632.50" width="1.0" height="8.40" fill="#fff" fill-opacity="0.4"/>
<rect x="104.81" y="632.50" width="1.0" height="8.40" fill="#fff" fill-opacity="0.4"/>
<rect x="118.88" y="632.50" width="1.0" height="8.40" fill="#fff" fill-opacity="0.4"/>
<rect x="132.94" y="632.50" width="1.0" height="8.40" fill="#fff" fill-opacity="0.4"/>
<rect x="34.20" y="632.00" width="114.10" height="9.40" rx="1.0" fill="none" stroke="#222" stroke-width="1.1"/>
</g>
<line x1="154.50" y1="637.30" x2="162.90" y2="637.30" stroke="#111" stroke-width="1.1" />
<path d="M151.50,637.30 L156.30,635.40 L155.30,637.30 L156.30,639.20 Z" stroke="none" fill="#111" stroke-width="0.8" />
<text x="166.20" y="639.10" font-size="6.4" textLength="17.80" lengthAdjust="spacingAndGlyphs" fill="#231f20" stroke="#231f20" stroke-width="0.14">c-Myb</text>
<g>
<rect x="34.20" y="643.80" width="114.10" height="10.80" fill="#ededed" />
<rect x="36.00" y="647.02" width="12.06" height="3.36" rx="1.12" fill="#111" fill-opacity="0.95" filter="url(#bl)"/>
<rect x="50.06" y="647.02" width="12.06" height="3.36" rx="1.12" fill="#111" fill-opacity="0.95" filter="url(#bl)"/>
<rect x="64.12" y="647.02" width="12.06" height="3.36" rx="1.12" fill="#111" fill-opacity="0.95" filter="url(#bl)"/>
<rect x="78.19" y="647.02" width="12.06" height="3.36" rx="1.12" fill="#111" fill-opacity="0.95" filter="url(#bl)"/>
<rect x="92.25" y="647.02" width="12.06" height="3.36" rx="1.12" fill="#111" fill-opacity="0.95" filter="url(#bl)"/>
<rect x="106.31" y="647.02" width="12.06" height="3.36" rx="1.12" fill="#111" fill-opacity="0.95" filter="url(#bl)"/>
<rect x="120.38" y="647.02" width="12.06" height="3.36" rx="1.12" fill="#111" fill-opacity="0.95" filter="url(#bl)"/>
<rect x="134.44" y="647.02" width="12.06" height="3.36" rx="1.12" fill="#111" fill-opacity="0.95" filter="url(#bl)"/>
<rect x="48.56" y="644.30" width="1.0" height="9.80" fill="#fff" fill-opacity="0.4"/>
<rect x="62.62" y="644.30" width="1.0" height="9.80" fill="#fff" fill-opacity="0.4"/>
<rect x="76.69" y="644.30" width="1.0" height="9.80" fill="#fff" fill-opacity="0.4"/>
<rect x="90.75" y="644.30" width="1.0" height="9.80" fill="#fff" fill-opacity="0.4"/>
<rect x="104.81" y="644.30" width="1.0" height="9.80" fill="#fff" fill-opacity="0.4"/>
<rect x="118.88" y="644.30" width="1.0" height="9.80" fill="#fff" fill-opacity="0.4"/>
<rect x="132.94" y="644.30" width="1.0" height="9.80" fill="#fff" fill-opacity="0.4"/>
<rect x="34.20" y="643.80" width="114.10" height="10.80" rx="1.0" fill="none" stroke="#222" stroke-width="1.1"/>
</g>
<line x1="154.50" y1="650.20" x2="162.90" y2="650.20" stroke="#111" stroke-width="1.1" />
<path d="M151.50,650.20 L156.30,648.30 L155.30,650.20 L156.30,652.10 Z" stroke="none" fill="#111" stroke-width="0.8" />
<text x="166.20" y="652.10" font-size="6.4" textLength="20.30" lengthAdjust="spacingAndGlyphs" fill="#231f20" stroke="#231f20" stroke-width="0.14">β-Actin</text>
<text x="342.00" y="512.00" font-size="8.6" text-anchor="middle" textLength="86.20" lengthAdjust="spacingAndGlyphs" fill="#231f20" stroke="#231f20" stroke-width="0.14">OTX P/R over parental</text>
<line x1="306.25" y1="519.00" x2="306.25" y2="605.40" stroke="#151515" stroke-width="1.1" />
<line x1="305.85" y1="605.00" x2="380.00" y2="605.00" stroke="#151515" stroke-width="1.1" />
<line x1="303.65" y1="605.00" x2="306.25" y2="605.00" stroke="#231f20" stroke-width="0.75" />
<text x="303.60" y="607.30" font-size="6.6" text-anchor="end" textLength="8.60" lengthAdjust="spacingAndGlyphs" fill="#231f20" stroke="#231f20" stroke-width="0.14">0.0</text>
<line x1="303.65" y1="583.75" x2="306.25" y2="583.75" stroke="#231f20" stroke-width="0.75" />
<text x="303.60" y="586.05" font-size="6.6" text-anchor="end" textLength="8.60" lengthAdjust="spacingAndGlyphs" fill="#231f20" stroke="#231f20" stroke-width="0.14">0.5</text>
<line x1="303.65" y1="562.50" x2="306.25" y2="562.50" stroke="#231f20" stroke-width="0.75" />
<text x="303.60" y="564.80" font-size="6.6" text-anchor="end" textLength="8.60" lengthAdjust="spacingAndGlyphs" fill="#231f20" stroke="#231f20" stroke-width="0.14">1.0</text>
<line x1="303.65" y1="541.25" x2="306.25" y2="541.25" stroke="#231f20" stroke-width="0.75" />
<text x="303.60" y="543.55" font-size="6.6" text-anchor="end" textLength="8.60" lengthAdjust="spacingAndGlyphs" fill="#231f20" stroke="#231f20" stroke-width="0.14">1.5</text>
<line x1="303.65" y1="520.00" x2="306.25" y2="520.00" stroke="#231f20" stroke-width="0.75" />
<text x="303.60" y="522.30" font-size="6.6" text-anchor="end" textLength="8.60" lengthAdjust="spacingAndGlyphs" fill="#231f20" stroke="#231f20" stroke-width="0.14">2.0</text>
<line x1="323.75" y1="605.00" x2="323.75" y2="607.60" stroke="#231f20" stroke-width="0.8" />
<line x1="360.00" y1="605.00" x2="360.00" y2="607.60" stroke="#231f20" stroke-width="0.8" />
<text x="324.00" y="616.80" font-size="6.6" text-anchor="middle" textLength="17.00" lengthAdjust="spacingAndGlyphs" fill="#231f20" stroke="#231f20" stroke-width="0.14">SET-2</text>
<text x="357.50" y="616.80" font-size="6.6" text-anchor="middle" textLength="22.50" lengthAdjust="spacingAndGlyphs" fill="#231f20" stroke="#231f20" stroke-width="0.14">HEL92.1.7</text>
<text x="286.80" y="601.30" font-size="8.6" textLength="81.30" lengthAdjust="spacingAndGlyphs" fill="#231f20" stroke="#231f20" stroke-width="0.14" transform="rotate(-90 286.80 601.30)">Relative protein expression</text>
<line x1="312.12" y1="559.95" x2="312.12" y2="564.41" stroke="#c2152f" stroke-width="0.6" />
<line x1="311.23" y1="559.95" x2="313.02" y2="559.95" stroke="#c2152f" stroke-width="0.6" />
<rect x="310.00" y="564.41" width="4.25" height="40.59" fill="#c2152f" />
<line x1="320.12" y1="562.50" x2="320.12" y2="565.90" stroke="#27478a" stroke-width="0.6" />
<line x1="319.23" y1="562.50" x2="321.02" y2="562.50" stroke="#27478a" stroke-width="0.6" />
<rect x="318.00" y="565.90" width="4.25" height="39.10" fill="#27478a" />
<line x1="327.88" y1="558.67" x2="327.88" y2="561.01" stroke="#66b43f" stroke-width="0.6" />
<line x1="326.98" y1="558.67" x2="328.77" y2="558.67" stroke="#66b43f" stroke-width="0.6" />
<rect x="325.75" y="561.01" width="4.25" height="43.99" fill="#66b43f" />
<line x1="335.88" y1="565.48" x2="335.88" y2="567.39" stroke="#4b1f5c" stroke-width="0.6" />
<line x1="334.98" y1="565.48" x2="336.77" y2="565.48" stroke="#4b1f5c" stroke-width="0.6" />
<rect x="333.75" y="567.39" width="4.25" height="37.61" fill="#4b1f5c" />
<line x1="348.38" y1="556.98" x2="348.38" y2="562.08" stroke="#c2152f" stroke-width="0.6" />
<line x1="347.48" y1="556.98" x2="349.27" y2="556.98" stroke="#c2152f" stroke-width="0.6" />
<rect x="346.25" y="562.08" width="4.25" height="42.92" fill="#c2152f" />
<line x1="356.62" y1="555.70" x2="356.62" y2="559.95" stroke="#27478a" stroke-width="0.6" />
<line x1="355.73" y1="555.70" x2="357.52" y2="555.70" stroke="#27478a" stroke-width="0.6" />
<rect x="354.50" y="559.95" width="4.25" height="45.05" fill="#27478a" />
<line x1="364.62" y1="565.05" x2="364.62" y2="567.60" stroke="#66b43f" stroke-width="0.6" />
<line x1="363.73" y1="565.05" x2="365.52" y2="565.05" stroke="#66b43f" stroke-width="0.6" />
<rect x="362.50" y="567.60" width="4.25" height="37.40" fill="#66b43f" />
<line x1="372.62" y1="562.50" x2="372.62" y2="565.90" stroke="#4b1f5c" stroke-width="0.6" />
<line x1="371.73" y1="562.50" x2="373.52" y2="562.50" stroke="#4b1f5c" stroke-width="0.6" />
<rect x="370.50" y="565.90" width="4.25" height="39.10" fill="#4b1f5c" />
<rect x="308.20" y="520.70" width="4.40" height="4.40" fill="#c2152f" />
<text x="316.00" y="525.00" font-size="5.8" textLength="12.80" lengthAdjust="spacingAndGlyphs" fill="#231f20" stroke="#231f20" stroke-width="0.14">BRD4</text>
<rect x="308.20" y="526.90" width="4.40" height="4.40" fill="#27478a" />
<text x="316.00" y="531.20" font-size="5.8" textLength="17.50" lengthAdjust="spacingAndGlyphs" fill="#231f20" stroke="#231f20" stroke-width="0.14">P-BRD4</text>
<rect x="341.70" y="520.70" width="4.40" height="4.40" fill="#66b43f" />
<text x="349.50" y="525.00" font-size="5.8" textLength="12.80" lengthAdjust="spacingAndGlyphs" fill="#231f20" stroke="#231f20" stroke-width="0.14">BRD2</text>
<rect x="341.70" y="526.90" width="4.40" height="4.40" fill="#4b1f5c" />
<text x="349.50" y="531.20" font-size="5.8" textLength="18.00" lengthAdjust="spacingAndGlyphs" fill="#231f20" stroke="#231f20" stroke-width="0.14">HEXIM1</text>
<text x="458.75" y="512.00" font-size="8.6" text-anchor="middle" textLength="86.50" lengthAdjust="spacingAndGlyphs" fill="#231f20" stroke="#231f20" stroke-width="0.14">OTX P/R over parental</text>
<line x1="413.75" y1="519.00" x2="413.75" y2="620.40" stroke="#151515" stroke-width="1.1" />
<line x1="413.35" y1="620.00" x2="504.00" y2="620.00" stroke="#151515" stroke-width="1.1" />
<line x1="411.15" y1="620.00" x2="413.75" y2="620.00" stroke="#231f20" stroke-width="0.75" />
<text x="409.20" y="622.50" font-size="6.9" text-anchor="end" textLength="3.70" lengthAdjust="spacingAndGlyphs" fill="#231f20" stroke="#231f20" stroke-width="0.14">0</text>
<line x1="411.15" y1="595.00" x2="413.75" y2="595.00" stroke="#231f20" stroke-width="0.75" />
<text x="409.20" y="597.50" font-size="6.9" text-anchor="end" textLength="3.70" lengthAdjust="spacingAndGlyphs" fill="#231f20" stroke="#231f20" stroke-width="0.14">1</text>
<line x1="411.15" y1="570.00" x2="413.75" y2="570.00" stroke="#231f20" stroke-width="0.75" />
<text x="409.20" y="572.50" font-size="6.9" text-anchor="end" textLength="3.70" lengthAdjust="spacingAndGlyphs" fill="#231f20" stroke="#231f20" stroke-width="0.14">2</text>
<line x1="411.15" y1="545.00" x2="413.75" y2="545.00" stroke="#231f20" stroke-width="0.75" />
<text x="409.20" y="547.50" font-size="6.9" text-anchor="end" textLength="3.70" lengthAdjust="spacingAndGlyphs" fill="#231f20" stroke="#231f20" stroke-width="0.14">3</text>
<line x1="411.15" y1="520.00" x2="413.75" y2="520.00" stroke="#231f20" stroke-width="0.75" />
<text x="409.20" y="522.50" font-size="6.9" text-anchor="end" textLength="3.70" lengthAdjust="spacingAndGlyphs" fill="#231f20" stroke="#231f20" stroke-width="0.14">4</text>
<line x1="435.00" y1="620.00" x2="435.00" y2="622.60" stroke="#231f20" stroke-width="0.8" />
<line x1="480.30" y1="620.00" x2="480.30" y2="622.60" stroke="#231f20" stroke-width="0.8" />
<text x="437.50" y="631.80" font-size="6.4" text-anchor="middle" textLength="16.20" lengthAdjust="spacingAndGlyphs" fill="#231f20" stroke="#231f20" stroke-width="0.14">SET-2</text>
<text x="480.20" y="631.80" font-size="6.4" text-anchor="middle" textLength="28.80" lengthAdjust="spacingAndGlyphs" fill="#231f20" stroke="#231f20" stroke-width="0.14">HEL92.1.7</text>
<text x="399.00" y="611.30" font-size="8.6" textLength="83.80" lengthAdjust="spacingAndGlyphs" fill="#231f20" stroke="#231f20" stroke-width="0.14" transform="rotate(-90 399.00 611.30)">Relative protein expression</text>
<line x1="418.75" y1="580.00" x2="418.75" y2="583.75" stroke="#5fac3e" stroke-width="0.6" />
<line x1="417.85" y1="580.00" x2="419.65" y2="580.00" stroke="#5fac3e" stroke-width="0.6" />
<rect x="417.00" y="583.75" width="3.50" height="36.25" fill="#5fac3e" />
<text x="418.75" y="579.00" font-size="6.5" text-anchor="middle" textLength="2.60" lengthAdjust="spacingAndGlyphs" fill="#231f20" stroke="#231f20" stroke-width="0.14">*</text>
<line x1="423.75" y1="586.25" x2="423.75" y2="588.75" stroke="#5cade6" stroke-width="0.6" />
<line x1="422.85" y1="586.25" x2="424.65" y2="586.25" stroke="#5cade6" stroke-width="0.6" />
<rect x="422.00" y="588.75" width="3.50" height="31.25" fill="#5cade6" />
<text x="423.75" y="585.25" font-size="6.5" text-anchor="middle" textLength="2.60" lengthAdjust="spacingAndGlyphs" fill="#231f20" stroke="#231f20" stroke-width="0.14">*</text>
<line x1="428.75" y1="578.00" x2="428.75" y2="583.75" stroke="#f4c01c" stroke-width="0.6" />
<line x1="427.85" y1="578.00" x2="429.65" y2="578.00" stroke="#f4c01c" stroke-width="0.6" />
<rect x="427.00" y="583.75" width="3.50" height="36.25" fill="#f4c01c" />
<text x="428.75" y="577.00" font-size="6.5" text-anchor="middle" textLength="2.60" lengthAdjust="spacingAndGlyphs" fill="#231f20" stroke="#231f20" stroke-width="0.14">*</text>
<line x1="434.25" y1="588.00" x2="434.25" y2="589.50" stroke="#e98b1c" stroke-width="0.6" />
<line x1="433.35" y1="588.00" x2="435.15" y2="588.00" stroke="#e98b1c" stroke-width="0.6" />
<rect x="432.50" y="589.50" width="3.50" height="30.50" fill="#e98b1c" />
<text x="434.25" y="587.00" font-size="6.5" text-anchor="middle" textLength="2.60" lengthAdjust="spacingAndGlyphs" fill="#231f20" stroke="#231f20" stroke-width="0.14">*</text>
<line x1="439.25" y1="555.00" x2="439.25" y2="571.25" stroke="#9487cf" stroke-width="0.6" />
<line x1="438.35" y1="555.00" x2="440.15" y2="555.00" stroke="#9487cf" stroke-width="0.6" />
<rect x="437.50" y="571.25" width="3.50" height="48.75" fill="#9487cf" />
<text x="439.25" y="554.00" font-size="6.5" text-anchor="middle" textLength="2.60" lengthAdjust="spacingAndGlyphs" fill="#231f20" stroke="#231f20" stroke-width="0.14">*</text>
<line x1="444.25" y1="560.00" x2="444.25" y2="573.00" stroke="#1d6445" stroke-width="0.6" />
<line x1="443.35" y1="560.00" x2="445.15" y2="560.00" stroke="#1d6445" stroke-width="0.6" />
<rect x="442.50" y="573.00" width="3.50" height="47.00" fill="#1d6445" />
<text x="444.25" y="559.00" font-size="6.5" text-anchor="middle" textLength="2.60" lengthAdjust="spacingAndGlyphs" fill="#231f20" stroke="#231f20" stroke-width="0.14">*</text>
<line x1="449.75" y1="588.00" x2="449.75" y2="588.75" stroke="#a9c083" stroke-width="0.6" />
<line x1="448.85" y1="588.00" x2="450.65" y2="588.00" stroke="#a9c083" stroke-width="0.6" />
<rect x="448.00" y="588.75" width="3.50" height="31.25" fill="#a9c083" />
<text x="449.75" y="587.00" font-size="6.5" text-anchor="middle" textLength="2.60" lengthAdjust="spacingAndGlyphs" fill="#231f20" stroke="#231f20" stroke-width="0.14">*</text>
<line x1="454.75" y1="587.50" x2="454.75" y2="588.00" stroke="#1e3f87" stroke-width="0.6" />
<line x1="453.85" y1="587.50" x2="455.65" y2="587.50" stroke="#1e3f87" stroke-width="0.6" />
<rect x="453.00" y="588.00" width="3.50" height="32.00" fill="#1e3f87" />
<text x="454.75" y="586.50" font-size="6.5" text-anchor="middle" textLength="2.60" lengthAdjust="spacingAndGlyphs" fill="#231f20" stroke="#231f20" stroke-width="0.14">*</text>
<line x1="463.00" y1="553.75" x2="463.00" y2="571.25" stroke="#5fac3e" stroke-width="0.6" />
<line x1="462.10" y1="553.75" x2="463.90" y2="553.75" stroke="#5fac3e" stroke-width="0.6" />
<rect x="461.25" y="571.25" width="3.50" height="48.75" fill="#5fac3e" />
<text x="463.00" y="552.75" font-size="6.5" text-anchor="middle" textLength="2.60" lengthAdjust="spacingAndGlyphs" fill="#231f20" stroke="#231f20" stroke-width="0.14">*</text>
<line x1="468.00" y1="586.25" x2="468.00" y2="588.75" stroke="#5cade6" stroke-width="0.6" />
<line x1="467.10" y1="586.25" x2="468.90" y2="586.25" stroke="#5cade6" stroke-width="0.6" />
<rect x="466.25" y="588.75" width="3.50" height="31.25" fill="#5cade6" />
<text x="468.00" y="585.25" font-size="6.5" text-anchor="middle" textLength="2.60" lengthAdjust="spacingAndGlyphs" fill="#231f20" stroke="#231f20" stroke-width="0.14">*</text>
<line x1="473.00" y1="571.25" x2="473.00" y2="577.50" stroke="#f4c01c" stroke-width="0.6" />
<line x1="472.10" y1="571.25" x2="473.90" y2="571.25" stroke="#f4c01c" stroke-width="0.6" />
<rect x="471.25" y="577.50" width="3.50" height="42.50" fill="#f4c01c" />
<text x="473.00" y="570.25" font-size="6.5" text-anchor="middle" textLength="2.60" lengthAdjust="spacingAndGlyphs" fill="#231f20" stroke="#231f20" stroke-width="0.14">*</text>
<line x1="478.00" y1="588.75" x2="478.00" y2="591.25" stroke="#e98b1c" stroke-width="0.6" />
<line x1="477.10" y1="588.75" x2="478.90" y2="588.75" stroke="#e98b1c" stroke-width="0.6" />
<rect x="476.25" y="591.25" width="3.50" height="28.75" fill="#e98b1c" />
<text x="478.00" y="587.75" font-size="6.5" text-anchor="middle" textLength="2.60" lengthAdjust="spacingAndGlyphs" fill="#231f20" stroke="#231f20" stroke-width="0.14">*</text>
<line x1="483.50" y1="578.75" x2="483.50" y2="583.75" stroke="#9487cf" stroke-width="0.6" />
<line x1="482.60" y1="578.75" x2="484.40" y2="578.75" stroke="#9487cf" stroke-width="0.6" />
<rect x="481.75" y="583.75" width="3.50" height="36.25" fill="#9487cf" />
<text x="483.50" y="577.75" font-size="6.5" text-anchor="middle" textLength="2.60" lengthAdjust="spacingAndGlyphs" fill="#231f20" stroke="#231f20" stroke-width="0.14">*</text>
<line x1="488.50" y1="582.00" x2="488.50" y2="585.50" stroke="#1d6445" stroke-width="0.6" />
<line x1="487.60" y1="582.00" x2="489.40" y2="582.00" stroke="#1d6445" stroke-width="0.6" />
<rect x="486.75" y="585.50" width="3.50" height="34.50" fill="#1d6445" />
<text x="488.50" y="581.00" font-size="6.5" text-anchor="middle" textLength="2.60" lengthAdjust="spacingAndGlyphs" fill="#231f20" stroke="#231f20" stroke-width="0.14">*</text>
<line x1="493.50" y1="591.25" x2="493.50" y2="592.50" stroke="#a9c083" stroke-width="0.6" />
<line x1="492.60" y1="591.25" x2="494.40" y2="591.25" stroke="#a9c083" stroke-width="0.6" />
<rect x="491.75" y="592.50" width="3.50" height="27.50" fill="#a9c083" />
<text x="493.50" y="590.25" font-size="6.5" text-anchor="middle" textLength="2.60" lengthAdjust="spacingAndGlyphs" fill="#231f20" stroke="#231f20" stroke-width="0.14">*</text>
<line x1="498.75" y1="588.00" x2="498.75" y2="591.25" stroke="#1e3f87" stroke-width="0.6" />
<line x1="497.85" y1="588.00" x2="499.65" y2="588.00" stroke="#1e3f87" stroke-width="0.6" />
<rect x="497.00" y="591.25" width="3.50" height="28.75" fill="#1e3f87" />
<text x="498.75" y="587.00" font-size="6.5" text-anchor="middle" textLength="2.60" lengthAdjust="spacingAndGlyphs" fill="#231f20" stroke="#231f20" stroke-width="0.14">*</text>
<rect x="418.80" y="517.80" width="4.60" height="4.60" fill="#5fac3e" />
<text x="426.90" y="522.20" font-size="5.8" textLength="18.00" lengthAdjust="spacingAndGlyphs" fill="#231f20" stroke="#231f20" stroke-width="0.14">TCF7L2</text>
<rect x="418.80" y="523.70" width="4.60" height="4.60" fill="#5cade6" />
<text x="426.90" y="528.10" font-size="5.8" textLength="16.20" lengthAdjust="spacingAndGlyphs" fill="#231f20" stroke="#231f20" stroke-width="0.14">JMJD6</text>
<rect x="452.00" y="517.80" width="4.60" height="4.60" fill="#f4c01c" />
<text x="460.10" y="522.20" font-size="5.8" textLength="12.10" lengthAdjust="spacingAndGlyphs" fill="#231f20" stroke="#231f20" stroke-width="0.14">MYC</text>
<rect x="452.00" y="523.70" width="4.60" height="4.60" fill="#e98b1c" />
<text x="460.10" y="528.10" font-size="5.8" textLength="11.70" lengthAdjust="spacingAndGlyphs" fill="#231f20" stroke="#231f20" stroke-width="0.14">MYB</text>
<rect x="452.00" y="529.90" width="4.60" height="4.60" fill="#9487cf" />
<text x="460.10" y="534.30" font-size="5.8" textLength="11.00" lengthAdjust="spacingAndGlyphs" fill="#231f20" stroke="#231f20" stroke-width="0.14">PU.1</text>
<rect x="477.40" y="517.80" width="4.60" height="4.60" fill="#1d6445" />
<text x="485.50" y="522.20" font-size="5.8" textLength="12.10" lengthAdjust="spacingAndGlyphs" fill="#231f20" stroke="#231f20" stroke-width="0.14">PIM1</text>
<rect x="477.40" y="523.70" width="4.60" height="4.60" fill="#a9c083" />
<text x="485.50" y="528.10" font-size="5.8" textLength="13.50" lengthAdjust="spacingAndGlyphs" fill="#231f20" stroke="#231f20" stroke-width="0.14">Bcl-xL</text>
<rect x="477.40" y="529.90" width="4.60" height="4.60" fill="#1e3f87" />
<text x="485.50" y="534.30" font-size="5.8" textLength="12.50" lengthAdjust="spacingAndGlyphs" fill="#231f20" stroke="#231f20" stroke-width="0.14">Mcl-1</text>
<path d="M0.6,0.6 L519.4,0.6 L519.4,661 L0.6,661 Z" fill="none" stroke="#000" stroke-width="1.3"/>
<rect x="0" y="660" width="520" height="2" fill="#000"/>
</svg>
</body></html>
